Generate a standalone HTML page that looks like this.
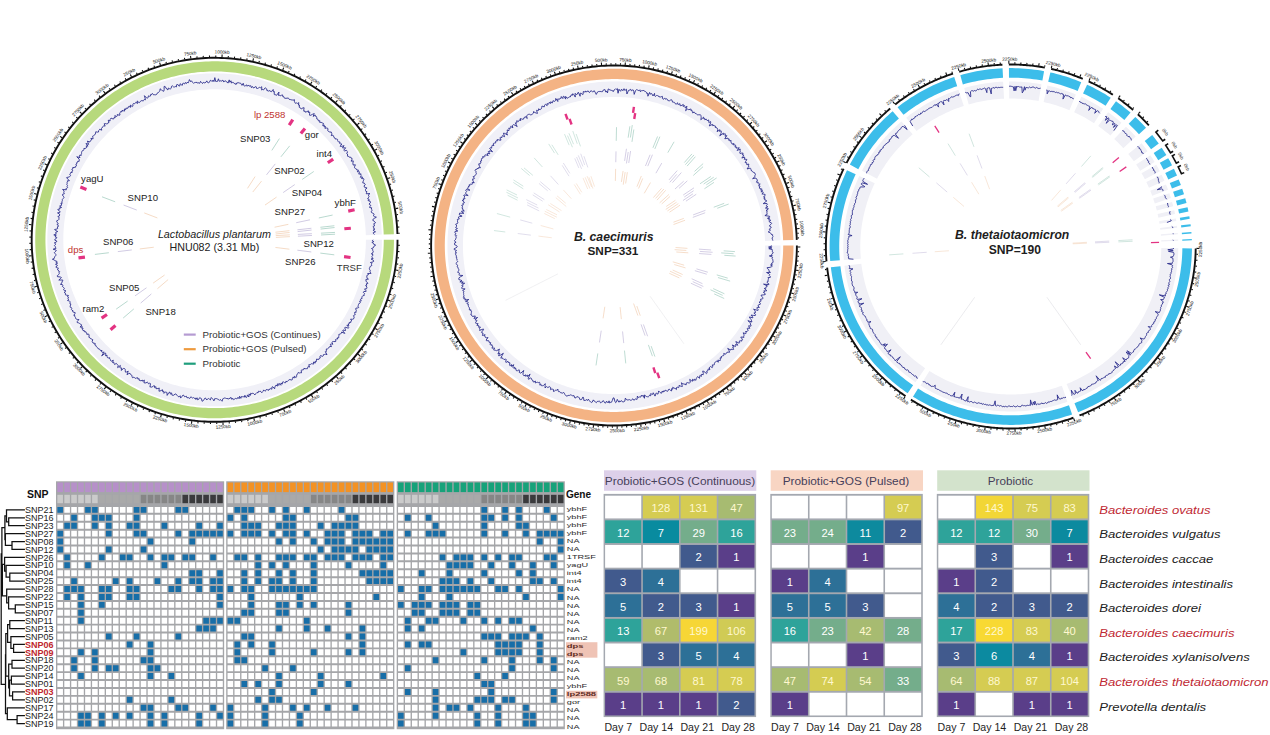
<!DOCTYPE html><html><head><meta charset="utf-8"><style>html,body{margin:0;padding:0;background:#fff;}svg{display:block;font-family:"Liberation Sans",sans-serif;}</style></head><body>
<svg width="1270" height="735" viewBox="0 0 1270 735">
<rect width="1270" height="735" fill="#fff"/>
<path d="M373.89 239.8 L373.87 242.57 L373.8 245.33 L373.67 248.1 L373.5 250.86 L373.29 253.62 L373.02 256.38 L372.7 259.13 L372.34 261.87 L371.93 264.61 L371.47 267.34 L370.96 270.06 L370.41 272.77 L369.81 275.47 L369.16 278.17 L368.46 280.85 L367.71 283.51 L366.92 286.17 L366.09 288.81 L365.2 291.43 L364.28 294.04 L363.3 296.63 L362.28 299.21 L361.22 301.76 L360.11 304.3 L358.95 306.82 L357.75 309.32 L356.51 311.79 L355.23 314.25 L353.9 316.68 L352.53 319.09 L351.12 321.47 L349.66 323.83 L348.17 326.17 L346.63 328.48 L345.05 330.76 L343.44 333.01 L341.78 335.23 L340.09 337.43 L338.36 339.59 L336.59 341.73 L334.78 343.83 L332.93 345.91 L331.05 347.95 L329.14 349.95 L327.19 351.93 L325.2 353.86 L323.18 355.77 L321.13 357.64 L319.05 359.47 L316.93 361.27 L314.78 363.03 L312.61 364.75 L310.4 366.43 L308.16 368.08 L305.9 369.68 L303.6 371.25 L301.28 372.78 L298.94 374.26 L296.56 375.71 L294.17 377.11 L291.74 378.47 L289.3 379.79 L286.83 381.07 L284.34 382.3 L281.83 383.49 L279.3 384.64 L276.74 385.74 L274.17 386.8 L271.59 387.81 L268.98 388.78 L266.36 389.7 L263.72 390.58 L261.06 391.41 L258.4 392.19 L255.72 392.93 L253.02 393.62 L250.32 394.26 L247.6 394.86 L244.87 395.41 L242.14 395.91 L239.39 396.37 L236.64 396.78 L233.88 397.13 L231.12 397.45 L228.35 397.71 L225.58 397.92 L222.8 398.09 L220.02 398.21 L217.24 398.28 L214.46 398.3 L211.68 398.27 L208.9 398.2 L206.12 398.08 L203.34 397.9 L200.57 397.68 L197.8 397.42 L195.04 397.1 L192.28 396.74 L189.53 396.32 L186.79 395.87 L184.05 395.36 L181.33 394.8 L178.61 394.2 L175.91 393.55 L173.21 392.86 L170.53 392.11 L167.87 391.33 L165.22 390.49 L162.58 389.61 L159.96 388.68 L157.35 387.71 L154.77 386.69 L152.2 385.63 L149.65 384.53 L147.12 383.37 L144.61 382.18 L142.12 380.94 L139.65 379.66 L137.21 378.34 L134.79 376.97 L132.4 375.56 L130.03 374.12 L127.68 372.63 L125.37 371.1 L123.07 369.52 L120.81 367.91 L118.58 366.27 L116.37 364.58 L114.2 362.85 L112.05 361.09 L109.94 359.29 L107.86 357.45 L105.81 355.58 L103.8 353.67 L101.82 351.73 L99.87 349.75 L97.96 347.74 L96.08 345.7 L94.24 343.62 L92.44 341.52 L90.67 339.38 L88.94 337.21 L87.25 335.01 L85.6 332.78 L83.99 330.53 L82.41 328.24 L80.88 325.93 L79.39 323.6 L77.94 321.24 L76.53 318.85 L75.17 316.44 L73.84 314 L72.56 311.55 L71.32 309.07 L70.13 306.57 L68.98 304.05 L67.88 301.51 L66.81 298.95 L65.8 296.37 L64.83 293.78 L63.9 291.17 L63.03 288.54 L62.19 285.9 L61.41 283.24 L60.67 280.58 L59.98 277.9 L59.33 275.2 L58.73 272.5 L58.18 269.79 L57.68 267.06 L57.23 264.33 L56.82 261.6 L56.46 258.85 L56.15 256.1 L55.89 253.34 L55.68 250.59 L55.51 247.82 L55.4 245.06 L55.33 242.29 L55.31 239.52 L55.34 236.75 L55.41 233.99 L55.54 231.22 L55.72 228.46 L55.94 225.7 L56.21 222.95 L56.53 220.2 L56.9 217.45 L57.31 214.72 L57.78 211.99 L58.29 209.27 L58.85 206.56 L59.46 203.85 L60.11 201.16 L60.81 198.49 L61.56 195.82 L62.36 193.17 L63.2 190.53 L64.09 187.91 L65.02 185.3 L66 182.71 L67.02 180.14 L68.09 177.58 L69.21 175.04 L70.37 172.53 L71.57 170.03 L72.82 167.56 L74.11 165.11 L75.44 162.68 L76.81 160.27 L78.23 157.89 L79.69 155.53 L81.19 153.2 L82.73 150.89 L84.31 148.62 L85.93 146.37 L87.59 144.14 L89.28 141.95 L91.02 139.79 L92.79 137.66 L94.61 135.56 L96.45 133.49 L98.34 131.45 L100.26 129.45 L102.21 127.48 L104.2 125.54 L106.22 123.64 L108.28 121.78 L110.36 119.95 L112.48 118.15 L114.63 116.4 L116.81 114.68 L119.02 113 L121.26 111.36 L123.53 109.76 L125.83 108.19 L128.15 106.67 L130.5 105.19 L132.88 103.75 L135.28 102.35 L137.7 100.99 L140.15 99.68 L142.62 98.41 L145.11 97.18 L147.63 95.99 L150.16 94.85 L152.71 93.75 L155.29 92.7 L157.88 91.69 L160.48 90.73 L163.11 89.81 L165.75 88.94 L168.4 88.11 L171.07 87.33 L173.75 86.6 L176.45 85.91 L179.16 85.27 L181.87 84.68 L184.6 84.14 L187.34 83.64 L190.08 83.19 L192.83 82.79 L195.59 82.43 L198.36 82.13 L201.13 81.87 L203.9 81.66 L206.68 81.5 L209.46 81.38 L212.24 81.32 L215.02 81.3 L217.8 81.33 L220.58 81.41 L223.36 81.54 L226.14 81.72 L228.91 81.94 L231.68 82.21 L234.44 82.53 L237.2 82.9 L239.95 83.32 L242.69 83.78 L245.42 84.3 L248.15 84.85 L250.86 85.46 L253.56 86.11 L256.26 86.82 L258.93 87.56 L261.6 88.36 L264.25 89.2 L266.88 90.08 L269.5 91.01 L272.11 91.99 L274.69 93.01 L277.26 94.08 L279.81 95.19 L282.33 96.34 L284.84 97.54 L287.33 98.78 L289.79 100.07 L292.23 101.4 L294.65 102.77 L297.04 104.18 L299.41 105.63 L301.75 107.13 L304.07 108.66 L306.35 110.24 L308.61 111.85 L310.84 113.5 L313.05 115.19 L315.22 116.92 L317.36 118.69 L319.47 120.49 L321.55 122.33 L323.59 124.21 L325.6 126.12 L327.58 128.07 L329.53 130.05 L331.43 132.06 L333.31 134.11 L335.14 136.19 L336.94 138.3 L338.71 140.44 L340.43 142.61 L342.12 144.81 L343.77 147.04 L345.37 149.3 L346.94 151.59 L348.47 153.9 L349.96 156.24 L351.4 158.6 L352.81 160.99 L354.17 163.41 L355.49 165.84 L356.76 168.3 L358 170.78 L359.19 173.28 L360.33 175.81 L361.43 178.35 L362.49 180.91 L363.5 183.49 L364.47 186.08 L365.39 188.7 L366.26 191.32 L367.09 193.97 L367.87 196.62 L368.6 199.29 L369.29 201.97 L369.93 204.67 L370.52 207.37 L371.07 210.09 L371.57 212.81 L372.02 215.54 L372.42 218.28 L372.77 221.03 L373.08 223.78 L373.33 226.53 L373.54 229.29 L373.7 232.06 L373.81 234.82" fill="none" stroke="#f0f0f7" stroke-width="16"/>
<path d="M388.87 239.8 L388.84 242.83 L388.76 245.85 L388.63 248.88 L388.44 251.9 L388.2 254.92 L387.91 257.94 L387.57 260.94 L387.17 263.95 L386.72 266.94 L386.22 269.93 L385.66 272.9 L385.05 275.87 L384.4 278.83 L383.68 281.77 L382.92 284.7 L382.11 287.62 L381.24 290.52 L380.33 293.41 L379.36 296.28 L378.35 299.14 L377.28 301.97 L376.16 304.79 L375 307.59 L373.78 310.37 L372.52 313.12 L371.21 315.85 L369.85 318.56 L368.45 321.25 L366.99 323.91 L365.49 326.54 L363.95 329.15 L362.36 331.73 L360.72 334.29 L359.04 336.81 L357.32 339.31 L355.55 341.77 L353.74 344.2 L351.88 346.61 L349.99 348.98 L348.05 351.31 L346.08 353.61 L344.06 355.88 L342 358.11 L339.91 360.31 L337.77 362.47 L335.6 364.59 L333.39 366.67 L331.15 368.72 L328.87 370.72 L326.55 372.69 L324.2 374.61 L321.82 376.5 L319.4 378.34 L316.96 380.14 L314.48 381.89 L311.97 383.61 L309.43 385.28 L306.86 386.9 L304.27 388.48 L301.65 390.02 L299 391.51 L296.32 392.95 L293.62 394.35 L290.9 395.7 L288.15 397 L285.38 398.25 L282.59 399.46 L279.77 400.62 L276.94 401.72 L274.09 402.78 L271.22 403.79 L268.34 404.75 L265.43 405.66 L262.51 406.52 L259.58 407.32 L256.63 408.08 L253.67 408.79 L250.7 409.44 L247.72 410.04 L244.73 410.59 L241.73 411.09 L238.72 411.53 L235.7 411.92 L232.67 412.26 L229.64 412.55 L226.61 412.79 L223.57 412.97 L220.53 413.1 L217.49 413.18 L214.45 413.2 L211.4 413.17 L208.36 413.09 L205.32 412.95 L202.28 412.77 L199.25 412.53 L196.22 412.23 L193.2 411.89 L190.18 411.49 L187.17 411.04 L184.17 410.54 L181.18 409.98 L178.2 409.37 L175.23 408.72 L172.27 408.01 L169.32 407.25 L166.39 406.43 L163.48 405.57 L160.57 404.66 L157.69 403.69 L154.82 402.68 L151.97 401.62 L149.14 400.5 L146.33 399.34 L143.54 398.13 L140.77 396.87 L138.03 395.56 L135.31 394.21 L132.61 392.81 L129.94 391.36 L127.29 389.87 L124.67 388.33 L122.08 386.74 L119.51 385.11 L116.98 383.44 L114.47 381.72 L112 379.96 L109.55 378.15 L107.14 376.31 L104.76 374.42 L102.41 372.49 L100.1 370.52 L97.83 368.51 L95.59 366.46 L93.38 364.38 L91.21 362.25 L89.08 360.09 L86.99 357.89 L84.94 355.65 L82.92 353.38 L80.95 351.08 L79.02 348.74 L77.13 346.37 L75.28 343.96 L73.47 341.52 L71.71 339.06 L69.99 336.56 L68.31 334.03 L66.68 331.48 L65.09 328.89 L63.55 326.28 L62.06 323.64 L60.61 320.98 L59.21 318.29 L57.86 315.58 L56.55 312.84 L55.29 310.09 L54.08 307.31 L52.92 304.51 L51.81 301.69 L50.75 298.85 L49.74 296 L48.78 293.12 L47.87 290.23 L47.01 287.33 L46.2 284.41 L45.44 281.48 L44.74 278.53 L44.08 275.57 L43.48 272.61 L42.93 269.63 L42.43 266.64 L41.99 263.64 L41.6 260.64 L41.26 257.63 L40.97 254.62 L40.74 251.6 L40.56 248.58 L40.43 245.55 L40.35 242.52 L40.33 239.5 L40.37 236.47 L40.45 233.44 L40.59 230.42 L40.78 227.39 L41.02 224.38 L41.32 221.36 L41.67 218.35 L42.07 215.35 L42.53 212.36 L43.04 209.37 L43.6 206.4 L44.21 203.43 L44.87 200.48 L45.59 197.53 L46.36 194.6 L47.18 191.69 L48.05 188.78 L48.97 185.9 L49.94 183.03 L50.96 180.18 L52.03 177.34 L53.15 174.53 L54.32 171.73 L55.54 168.96 L56.81 166.2 L58.12 163.47 L59.49 160.77 L60.9 158.08 L62.36 155.43 L63.86 152.79 L65.41 150.19 L67 147.61 L68.64 145.06 L70.33 142.54 L72.06 140.04 L73.83 137.58 L75.65 135.15 L77.5 132.75 L79.4 130.39 L81.34 128.06 L83.33 125.76 L85.35 123.49 L87.41 121.27 L89.51 119.07 L91.65 116.92 L93.82 114.8 L96.03 112.72 L98.28 110.68 L100.56 108.68 L102.88 106.72 L105.24 104.8 L107.62 102.92 L110.04 101.08 L112.49 99.28 L114.97 97.53 L117.48 95.82 L120.03 94.16 L122.6 92.54 L125.19 90.96 L127.82 89.43 L130.47 87.94 L133.15 86.51 L135.85 85.11 L138.58 83.77 L141.33 82.47 L144.1 81.22 L146.89 80.02 L149.71 78.87 L152.54 77.77 L155.4 76.71 L158.27 75.71 L161.16 74.76 L164.06 73.85 L166.98 73 L169.92 72.2 L172.86 71.45 L175.82 70.75 L178.8 70.1 L181.78 69.5 L184.77 68.96 L187.78 68.47 L190.79 68.03 L193.81 67.64 L196.83 67.3 L199.86 67.02 L202.89 66.79 L205.93 66.61 L208.97 66.49 L212.02 66.42 L215.06 66.4 L218.1 66.44 L221.14 66.52 L224.18 66.66 L227.22 66.86 L230.25 67.1 L233.28 67.4 L236.3 67.75 L239.32 68.15 L242.33 68.61 L245.33 69.12 L248.32 69.68 L251.3 70.29 L254.27 70.95 L257.23 71.67 L260.17 72.43 L263.1 73.25 L266.02 74.12 L268.92 75.04 L271.8 76.01 L274.67 77.03 L277.51 78.09 L280.34 79.21 L283.15 80.38 L285.94 81.59 L288.7 82.86 L291.45 84.17 L294.16 85.53 L296.86 86.93 L299.53 88.39 L302.17 89.89 L304.79 91.43 L307.38 93.02 L309.94 94.65 L312.48 96.33 L314.98 98.06 L317.45 99.82 L319.89 101.63 L322.3 103.48 L324.68 105.37 L327.02 107.31 L329.33 109.28 L331.6 111.29 L333.84 113.34 L336.04 115.44 L338.2 117.56 L340.33 119.73 L342.42 121.93 L344.47 124.17 L346.48 126.45 L348.45 128.76 L350.37 131.1 L352.26 133.47 L354.11 135.88 L355.91 138.32 L357.67 140.79 L359.38 143.29 L361.05 145.82 L362.68 148.38 L364.26 150.97 L365.8 153.58 L367.29 156.22 L368.73 158.89 L370.13 161.58 L371.48 164.29 L372.78 167.03 L374.03 169.79 L375.24 172.57 L376.39 175.37 L377.5 178.19 L378.55 181.03 L379.56 183.89 L380.52 186.77 L381.42 189.66 L382.28 192.56 L383.08 195.48 L383.83 198.42 L384.53 201.37 L385.18 204.32 L385.78 207.29 L386.32 210.27 L386.81 213.26 L387.25 216.26 L387.64 219.26 L387.97 222.27 L388.26 225.29 L388.48 228.3 L388.66 231.33 L388.78 234.35" fill="none" stroke="#b7d97c" stroke-width="10.2"/>
<path d="M397.51 239.8 L397.48 242.98 L397.4 246.16 L397.26 249.33 L397.06 252.5 L396.81 255.67 L396.51 258.83 L396.15 261.99 L395.73 265.14 L395.26 268.29 L394.73 271.42 L394.15 274.55 L393.51 277.66 L392.82 280.76 L392.07 283.85 L391.27 286.93 L390.42 289.99 L389.51 293.04 L388.55 296.07 L387.53 299.09 L386.47 302.08 L385.35 305.06 L384.18 308.01 L382.95 310.95 L381.68 313.86 L380.35 316.76 L378.98 319.63 L377.55 322.47 L376.08 325.29 L374.55 328.08 L372.98 330.85 L371.36 333.58 L369.69 336.29 L367.97 338.97 L366.21 341.62 L364.4 344.24 L362.54 346.83 L360.64 349.38 L358.69 351.9 L356.7 354.39 L354.67 356.84 L352.6 359.26 L350.48 361.64 L348.32 363.98 L346.12 366.28 L343.88 368.55 L341.6 370.78 L339.28 372.96 L336.93 375.11 L334.53 377.21 L332.1 379.28 L329.64 381.3 L327.14 383.27 L324.6 385.21 L322.03 387.1 L319.43 388.94 L316.8 390.74 L314.13 392.49 L311.44 394.2 L308.72 395.86 L305.96 397.47 L303.18 399.03 L300.37 400.55 L297.54 402.01 L294.68 403.43 L291.8 404.8 L288.89 406.11 L285.96 407.38 L283.01 408.59 L280.03 409.76 L277.04 410.87 L274.03 411.93 L271 412.93 L267.95 413.89 L264.89 414.79 L261.81 415.63 L258.72 416.43 L255.61 417.17 L252.49 417.85 L249.36 418.48 L246.22 419.06 L243.07 419.58 L239.91 420.05 L236.74 420.46 L233.57 420.82 L230.39 421.12 L227.21 421.37 L224.02 421.56 L220.83 421.69 L217.63 421.77 L214.44 421.8 L211.25 421.77 L208.05 421.68 L204.86 421.54 L201.67 421.34 L198.49 421.09 L195.31 420.79 L192.14 420.42 L188.97 420 L185.81 419.53 L182.66 419 L179.52 418.42 L176.39 417.79 L173.28 417.09 L170.17 416.35 L167.08 415.55 L164 414.7 L160.94 413.79 L157.89 412.83 L154.87 411.82 L151.86 410.76 L148.87 409.64 L145.9 408.47 L142.95 407.25 L140.02 405.98 L137.11 404.66 L134.23 403.29 L131.37 401.87 L128.54 400.4 L125.74 398.88 L122.96 397.31 L120.21 395.69 L117.49 394.03 L114.8 392.32 L112.13 390.56 L109.5 388.76 L106.91 386.91 L104.34 385.02 L101.81 383.08 L99.31 381.1 L96.85 379.07 L94.42 377 L92.03 374.9 L89.68 372.75 L87.37 370.55 L85.09 368.32 L82.86 366.05 L80.66 363.75 L78.51 361.4 L76.39 359.02 L74.32 356.6 L72.29 354.14 L70.31 351.65 L68.37 349.13 L66.47 346.57 L64.62 343.98 L62.82 341.36 L61.06 338.71 L59.34 336.02 L57.68 333.31 L56.06 330.57 L54.49 327.8 L52.97 325.01 L51.5 322.18 L50.08 319.34 L48.71 316.47 L47.39 313.57 L46.12 310.66 L44.9 307.72 L43.74 304.76 L42.62 301.78 L41.56 298.78 L40.55 295.77 L39.6 292.73 L38.7 289.69 L37.85 286.62 L37.05 283.54 L36.31 280.45 L35.62 277.35 L34.99 274.23 L34.42 271.11 L33.89 267.97 L33.43 264.83 L33.02 261.68 L32.66 258.52 L32.36 255.35 L32.11 252.18 L31.92 249.01 L31.79 245.84 L31.71 242.66 L31.69 239.48 L31.72 236.3 L31.81 233.13 L31.96 229.95 L32.16 226.78 L32.42 223.61 L32.73 220.45 L33.09 217.29 L33.52 214.14 L33.99 211 L34.53 207.86 L35.12 204.74 L35.76 201.63 L36.46 198.53 L37.21 195.44 L38.01 192.36 L38.87 189.3 L39.79 186.25 L40.75 183.22 L41.77 180.21 L42.84 177.22 L43.97 174.24 L45.14 171.29 L46.37 168.36 L47.65 165.44 L48.98 162.55 L50.36 159.69 L51.79 156.85 L53.27 154.03 L54.8 151.24 L56.38 148.48 L58.01 145.74 L59.68 143.04 L61.41 140.36 L63.17 137.71 L64.99 135.1 L66.85 132.51 L68.75 129.96 L70.7 127.45 L72.7 124.96 L74.74 122.51 L76.81 120.1 L78.94 117.73 L81.1 115.39 L83.3 113.09 L85.55 110.82 L87.83 108.6 L90.15 106.42 L92.51 104.28 L94.91 102.18 L97.34 100.12 L99.81 98.1 L102.32 96.13 L104.85 94.2 L107.43 92.32 L110.03 90.48 L112.67 88.68 L115.33 86.93 L118.03 85.23 L120.76 83.58 L123.52 81.97 L126.3 80.41 L129.11 78.9 L131.95 77.44 L134.81 76.03 L137.7 74.67 L140.6 73.36 L143.54 72.1 L146.49 70.89 L149.47 69.73 L152.46 68.62 L155.47 67.57 L158.51 66.57 L161.55 65.62 L164.62 64.73 L167.7 63.88 L170.79 63.1 L173.9 62.36 L177.02 61.68 L180.15 61.06 L183.29 60.49 L186.45 59.97 L189.61 59.51 L192.77 59.1 L195.95 58.75 L199.13 58.45 L202.31 58.21 L205.5 58.03 L208.69 57.89 L211.89 57.82 L215.08 57.8 L218.28 57.84 L221.47 57.93 L224.66 58.08 L227.85 58.28 L231.03 58.54 L234.21 58.85 L237.38 59.22 L240.55 59.64 L243.7 60.12 L246.85 60.65 L249.99 61.24 L253.12 61.88 L256.24 62.58 L259.34 63.33 L262.43 64.13 L265.51 64.99 L268.57 65.9 L271.61 66.87 L274.64 67.88 L277.64 68.95 L280.63 70.07 L283.6 71.25 L286.55 72.47 L289.47 73.75 L292.38 75.07 L295.26 76.45 L298.11 77.88 L300.94 79.35 L303.74 80.88 L306.52 82.45 L309.27 84.07 L311.98 85.74 L314.67 87.46 L317.33 89.22 L319.96 91.03 L322.55 92.88 L325.11 94.78 L327.64 96.72 L330.14 98.71 L332.6 100.73 L335.02 102.81 L337.4 104.92 L339.75 107.07 L342.06 109.27 L344.33 111.5 L346.57 113.78 L348.76 116.09 L350.91 118.44 L353.02 120.83 L355.08 123.25 L357.11 125.71 L359.09 128.2 L361.02 130.73 L362.92 133.29 L364.76 135.88 L366.56 138.51 L368.32 141.16 L370.03 143.85 L371.69 146.56 L373.3 149.31 L374.86 152.08 L376.38 154.88 L377.84 157.7 L379.26 160.55 L380.62 163.42 L381.94 166.32 L383.2 169.24 L384.42 172.18 L385.58 175.14 L386.69 178.12 L387.74 181.12 L388.75 184.14 L389.7 187.17 L390.59 190.22 L391.44 193.29 L392.23 196.37 L392.96 199.46 L393.64 202.56 L394.27 205.68 L394.84 208.81 L395.35 211.94 L395.82 215.09 L396.22 218.24 L396.57 221.4 L396.87 224.57 L397.11 227.73 L397.29 230.91 L397.42 234.08" fill="none" stroke="#111" stroke-width="1.9"/>
<path d="M398.23 245.37L399.74 245.42M397.93 251.57L399.44 251.67M397.42 257.76L398.93 257.91M396.71 263.93L398.2 264.13M395.78 270.07L398.35 270.5M394.64 276.18L396.12 276.48M393.29 282.24L394.76 282.59M391.74 288.26L393.2 288.65M389.99 294.21L391.42 294.66M388.03 300.11L390.49 300.97M385.87 305.94L387.27 306.48M383.51 311.69L384.9 312.28M380.96 317.36L382.33 317.99M378.22 322.93L379.56 323.62M375.28 328.41L377.57 329.68M372.17 333.79L373.46 334.57M368.87 339.07L370.13 339.88M365.39 344.22L366.63 345.08M361.74 349.26L362.95 350.16M357.92 354.17L359.96 355.79M353.93 358.95L355.07 359.92M349.78 363.59L350.89 364.6M345.48 368.08L346.55 369.14M341.02 372.43L342.06 373.52M336.42 376.63L338.16 378.57M331.68 380.67L332.64 381.82M326.81 384.54L327.73 385.73M321.8 388.25L322.68 389.47M316.67 391.79L317.51 393.04M311.42 395.15L312.8 397.36M306.07 398.33L306.82 399.63M300.6 401.33L301.31 402.66M295.04 404.15L295.7 405.5M289.38 406.77L289.99 408.14M283.64 409.2L284.62 411.61M277.81 411.44L278.33 412.85M271.92 413.47L272.39 414.9M265.96 415.31L266.38 416.75M259.94 416.95L260.31 418.4M253.86 418.38L254.42 420.92M247.74 419.6L248.02 421.08M241.59 420.62L241.81 422.1M235.4 421.42L235.57 422.91M229.19 422.02L229.31 423.52M222.96 422.41L223.08 425.01M216.72 422.59L216.74 424.09M210.48 422.55L210.45 424.05M204.24 422.31L204.16 423.81M198.02 421.85L197.88 423.35M191.81 421.19L191.49 423.77M185.64 420.31L185.4 421.8M179.49 419.23L179.2 420.7M173.39 417.94L173.05 419.4M167.33 416.44L166.94 417.89M161.33 414.75L160.57 417.23M155.38 412.84L154.9 414.26M149.51 410.74L148.98 412.15M143.71 408.44L143.13 409.83M138 405.95L137.37 407.31M132.37 403.27L131.2 405.59M126.84 400.39L126.12 401.71M121.41 397.33L120.64 398.63M116.08 394.09L115.27 395.36M110.87 390.67L110.02 391.91M105.78 387.08L104.23 389.18M100.82 383.32L99.88 384.5M95.98 379.39L95.01 380.54M91.29 375.3L90.28 376.41M86.73 371.06L85.68 372.13M82.33 366.66L80.44 368.46M78.07 362.11L76.95 363.12M73.98 357.43L72.82 358.4M70.04 352.61L68.85 353.53M66.27 347.66L65.06 348.54M62.68 342.58L60.52 344.05M59.26 337.39L57.98 338.19M56.01 332.08L54.71 332.84M52.96 326.67L51.63 327.38M50.08 321.16L48.73 321.82M47.4 315.55L45.02 316.63M44.91 309.85L43.52 310.43M42.62 304.08L41.21 304.61M40.52 298.23L39.1 298.71M38.63 292.31L37.19 292.74M36.94 286.34L34.41 287M35.45 280.3L33.98 280.64M34.17 274.23L32.69 274.51M33.1 268.11L31.61 268.34M32.24 261.96L30.74 262.14M31.59 255.78L28.99 256.01M31.15 249.59L29.64 249.67M30.92 243.38L29.41 243.41M30.9 237.17L29.4 237.15M31.1 230.96L29.59 230.89M31.51 224.77L28.9 224.55M32.13 218.59L30.63 218.41M32.96 212.43L31.47 212.21M34 206.31L32.51 206.04M35.24 200.23L33.77 199.9M36.7 194.19L34.17 193.54M38.36 188.2L36.91 187.78M40.22 182.27L38.79 181.8M42.28 176.41L40.87 175.89M44.55 170.63L43.15 170.06M47.01 164.92L44.62 163.85M49.66 159.3L48.31 158.64M52.5 153.77L51.17 153.06M55.53 148.34L54.23 147.59M58.75 143.02L57.47 142.22M62.14 137.81L59.97 136.36M65.71 132.71L64.49 131.83M69.45 127.74L68.26 126.82M73.36 122.9L72.2 121.94M77.43 118.19L76.31 117.2M81.66 113.63L79.77 111.83M86.05 109.21L84.99 108.14M90.58 104.94L89.56 103.83M95.25 100.83L94.28 99.69M100.07 96.87L99.13 95.7M105.01 93.08L103.45 91M110.08 89.46L109.23 88.23M115.28 86.02L114.46 84.76M120.58 82.75L119.81 81.46M126 79.66L125.27 78.35M131.52 76.76L130.33 74.44M137.13 74.05L136.49 72.69M142.83 71.53L142.24 70.14M148.62 69.2L148.08 67.8M154.48 67.07L153.99 65.65M160.41 65.13L159.64 62.65M166.4 63.4L166.01 61.96M172.45 61.88L172.11 60.42M178.55 60.55L178.26 59.08M184.69 59.44L184.45 57.96M190.87 58.53L190.53 55.95M197.07 57.83L196.92 56.34M203.29 57.35L203.2 55.85M209.52 57.07L209.48 55.57M215.76 57L215.77 55.5M222 57.15L222.11 54.55M228.23 57.5L228.35 56.01M234.45 58.07L234.61 56.58M240.64 58.85L240.85 57.36M246.8 59.83L247.07 58.35M252.93 61.02L253.47 58.48M259.01 62.42L259.37 60.97M265.04 64.02L265.45 62.58M271.01 65.83L271.47 64.4M276.92 67.84L277.43 66.43M282.75 70.04L283.72 67.63M288.51 72.44L289.11 71.07M294.18 75.04L294.83 73.69M299.75 77.82L300.45 76.49M305.23 80.79L305.98 79.49M310.61 83.95L311.97 81.73M315.87 87.28L316.71 86.03M321.02 90.79L321.9 89.57M326.05 94.48L326.96 93.28M330.94 98.33L331.9 97.17M335.71 102.34L337.43 100.39M340.33 106.51L341.36 105.42M344.81 110.84L345.87 109.78M349.13 115.32L350.24 114.29M353.3 119.93L354.44 118.95M357.32 124.69L359.35 123.05M361.16 129.58L362.37 128.68M364.84 134.6L366.07 133.73M368.35 139.74L369.61 138.92M371.67 144.99L372.96 144.21M374.82 150.35L377.1 149.08M377.78 155.82L379.12 155.13M380.55 161.38L381.91 160.74M383.13 167.04L384.52 166.44M385.52 172.78L386.92 172.23M387.71 178.59L390.17 177.72M389.7 184.48L391.14 184.02M391.49 190.43L392.94 190.02M393.07 196.43L394.53 196.08M394.45 202.49L395.92 202.18M395.62 208.59L398.19 208.15M396.58 214.73L398.07 214.52M397.33 220.89L398.83 220.74M397.87 227.08L399.37 226.97M398.2 233.28L399.7 233.22" stroke="#111" stroke-width="1.1" fill="none"/>
<text x="400.44" y="270.84" transform="rotate(-80.47 400.44 270.84)" font-size="4.6" fill="#111" text-anchor="middle" dominant-baseline="middle">2250kb</text>
<text x="392.49" y="301.66" transform="rotate(-70.74 392.49 301.66)" font-size="4.6" fill="#111" text-anchor="middle" dominant-baseline="middle">2500kb</text>
<text x="379.42" y="330.69" transform="rotate(-61 379.42 330.69)" font-size="4.6" fill="#111" text-anchor="middle" dominant-baseline="middle">2750kb</text>
<text x="361.61" y="357.1" transform="rotate(-51.27 361.61 357.1)" font-size="4.6" fill="#111" text-anchor="middle" dominant-baseline="middle">3000kb</text>
<text x="339.56" y="380.14" transform="rotate(-41.54 339.56 380.14)" font-size="4.6" fill="#111" text-anchor="middle" dominant-baseline="middle">250kb</text>
<text x="313.92" y="399.14" transform="rotate(-31.81 313.92 399.14)" font-size="4.6" fill="#111" text-anchor="middle" dominant-baseline="middle">500kb</text>
<text x="285.42" y="413.56" transform="rotate(-22.07 285.42 413.56)" font-size="4.6" fill="#111" text-anchor="middle" dominant-baseline="middle">750kb</text>
<text x="254.88" y="422.97" transform="rotate(-12.34 254.88 422.97)" font-size="4.6" fill="#111" text-anchor="middle" dominant-baseline="middle">1000kb</text>
<text x="223.18" y="427.11" transform="rotate(-2.61 223.18 427.11)" font-size="4.6" fill="#111" text-anchor="middle" dominant-baseline="middle">1250kb</text>
<text x="191.23" y="425.85" transform="rotate(7.12 191.23 425.85)" font-size="4.6" fill="#111" text-anchor="middle" dominant-baseline="middle">1500kb</text>
<text x="159.96" y="419.24" transform="rotate(16.86 159.96 419.24)" font-size="4.6" fill="#111" text-anchor="middle" dominant-baseline="middle">2250kb</text>
<text x="130.26" y="407.47" transform="rotate(26.59 130.26 407.47)" font-size="4.6" fill="#111" text-anchor="middle" dominant-baseline="middle">2500kb</text>
<text x="102.99" y="390.87" transform="rotate(36.32 102.99 390.87)" font-size="4.6" fill="#111" text-anchor="middle" dominant-baseline="middle">2750kb</text>
<text x="78.93" y="369.92" transform="rotate(46.05 78.93 369.92)" font-size="4.6" fill="#111" text-anchor="middle" dominant-baseline="middle">3000kb</text>
<text x="58.77" y="345.23" transform="rotate(55.79 58.77 345.23)" font-size="4.6" fill="#111" text-anchor="middle" dominant-baseline="middle">250kb</text>
<text x="43.1" y="317.5" transform="rotate(65.52 43.1 317.5)" font-size="4.6" fill="#111" text-anchor="middle" dominant-baseline="middle">500kb</text>
<text x="32.37" y="287.53" transform="rotate(75.25 32.37 287.53)" font-size="4.6" fill="#111" text-anchor="middle" dominant-baseline="middle">750kb</text>
<text x="26.88" y="256.19" transform="rotate(84.98 26.88 256.19)" font-size="4.6" fill="#111" text-anchor="middle" dominant-baseline="middle">1000kb</text>
<text x="26.8" y="224.38" transform="rotate(274.72 26.8 224.38)" font-size="4.6" fill="#111" text-anchor="middle" dominant-baseline="middle">1250kb</text>
<text x="32.12" y="193.01" transform="rotate(284.45 32.12 193.01)" font-size="4.6" fill="#111" text-anchor="middle" dominant-baseline="middle">1500kb</text>
<text x="42.7" y="162.99" transform="rotate(294.18 42.7 162.99)" font-size="4.6" fill="#111" text-anchor="middle" dominant-baseline="middle">2250kb</text>
<text x="58.22" y="135.18" transform="rotate(303.91 58.22 135.18)" font-size="4.6" fill="#111" text-anchor="middle" dominant-baseline="middle">2500kb</text>
<text x="78.25" y="110.38" transform="rotate(313.65 78.25 110.38)" font-size="4.6" fill="#111" text-anchor="middle" dominant-baseline="middle">2750kb</text>
<text x="102.2" y="89.31" transform="rotate(323.38 102.2 89.31)" font-size="4.6" fill="#111" text-anchor="middle" dominant-baseline="middle">3000kb</text>
<text x="129.38" y="72.57" transform="rotate(333.11 129.38 72.57)" font-size="4.6" fill="#111" text-anchor="middle" dominant-baseline="middle">250kb</text>
<text x="159.02" y="60.64" transform="rotate(342.84 159.02 60.64)" font-size="4.6" fill="#111" text-anchor="middle" dominant-baseline="middle">500kb</text>
<text x="190.26" y="53.87" transform="rotate(352.58 190.26 53.87)" font-size="4.6" fill="#111" text-anchor="middle" dominant-baseline="middle">750kb</text>
<text x="222.2" y="52.45" transform="rotate(362.31 222.2 52.45)" font-size="4.6" fill="#111" text-anchor="middle" dominant-baseline="middle">1000kb</text>
<text x="253.92" y="56.43" transform="rotate(372.04 253.92 56.43)" font-size="4.6" fill="#111" text-anchor="middle" dominant-baseline="middle">1250kb</text>
<text x="284.5" y="65.68" transform="rotate(381.78 284.5 65.68)" font-size="4.6" fill="#111" text-anchor="middle" dominant-baseline="middle">1500kb</text>
<text x="313.08" y="79.94" transform="rotate(391.51 313.08 79.94)" font-size="4.6" fill="#111" text-anchor="middle" dominant-baseline="middle">2250kb</text>
<text x="338.82" y="98.81" transform="rotate(401.24 338.82 98.81)" font-size="4.6" fill="#111" text-anchor="middle" dominant-baseline="middle">2500kb</text>
<text x="360.99" y="121.73" transform="rotate(410.97 360.99 121.73)" font-size="4.6" fill="#111" text-anchor="middle" dominant-baseline="middle">2750kb</text>
<text x="378.94" y="148.06" transform="rotate(420.71 378.94 148.06)" font-size="4.6" fill="#111" text-anchor="middle" dominant-baseline="middle">3000kb</text>
<text x="392.16" y="177.02" transform="rotate(430.44 392.16 177.02)" font-size="4.6" fill="#111" text-anchor="middle" dominant-baseline="middle">250kb</text>
<text x="400.27" y="207.79" transform="rotate(440.17 400.27 207.79)" font-size="4.6" fill="#111" text-anchor="middle" dominant-baseline="middle">500kb</text>
<path d="M372.99 239.8 L372.29 240.68 L373.81 241.57 L371.86 242.42 L373.57 243.33 L373.66 244.22 L375.65 245.17 L374.16 246.01 L373.76 246.88 L373.38 247.75 L371.49 248.53 L372.8 249.48 L372.7 250.36 L373.34 251.29 L372.82 252.13 L372.95 253.03 L371.3 253.77 L373.1 254.82 L372.65 255.66 L371.79 256.46 L372.23 257.39 L373.16 258.39 L371.07 259.03 L373.3 260.2 L373.73 261.15 L373.05 261.96 L370.4 262.47 L371.88 263.58 L371.49 264.41 L371.94 265.38 L370.89 266.1 L369.81 266.81 L369.77 267.69 L369.37 268.51 L369.57 269.44 L370.3 270.48 L369.94 271.3 L370.33 272.28 L371.06 273.35 L367.7 273.52 L368.52 274.6 L367.09 275.17 L366.87 276.01 L366.79 276.88 L366.95 277.82 L368.43 279.1 L365.94 279.36 L366.13 280.31 L365.66 281.09 L367.45 282.49 L367.87 283.53 L366.07 283.93 L366.93 285.1 L365.56 285.61 L367.05 286.99 L366.77 287.83 L366.64 288.72 L364.52 288.96 L365.79 290.31 L366.14 291.37 L363.83 291.51 L363.32 292.26 L364.54 293.63 L364.1 294.41 L364.29 295.43 L362.76 295.8 L362.16 296.51 L361.87 297.34 L362.15 298.4 L360.84 298.83 L360.53 299.65 L361.3 300.92 L359.56 301.15 L360.33 302.43 L359.88 303.2 L358.79 303.68 L358.48 304.5 L358.31 305.39 L357.84 306.14 L358.72 307.52 L357.62 307.98 L355.96 308.16 L355.56 308.94 L356.39 310.33 L355.83 311.03 L356.22 312.22 L354.6 312.38 L354.69 313.42 L355.25 314.71 L354.07 315.08 L353.44 315.75 L354.23 317.19 L353.82 317.98 L353.63 318.9 L352.48 319.27 L350.58 319.18 L351.72 320.88 L350.8 321.36 L350.83 322.41 L349.21 322.46 L349.35 323.58 L348.23 323.92 L348.94 325.42 L346.85 325.12 L348.91 327.52 L348.25 328.15 L345.2 327.19 L344.64 327.87 L345.5 329.52 L345.49 330.59 L343.04 329.95 L342.77 330.83 L344.83 333.4 L341.56 332.12 L341.49 333.16 L340.69 333.66 L339.89 334.15 L338.81 334.43 L338.92 335.62 L338.7 336.56 L338.79 337.74 L337.4 337.77 L337.6 339.05 L336.2 339.04 L335.48 339.58 L336.02 341.18 L335.18 341.63 L333.64 341.47 L332.58 341.7 L331.91 342.27 L332.86 344.27 L331.19 343.96 L330.3 344.33 L331.5 346.61 L330.02 346.44 L329.23 346.91 L328.89 347.79 L328.15 348.3 L327.5 348.89 L326.33 348.98 L326.34 350.21 L326.36 351.47 L325.34 351.7 L327.01 354.66 L325.27 354.15 L324.38 354.5 L323.35 354.71 L323.24 355.89 L322.51 356.41 L320.52 355.54 L319.99 356.27 L320.3 357.93 L319.31 358.14 L319.09 359.23 L318.14 359.49 L316.59 359.04 L316.5 360.3 L316.36 361.5 L315.04 361.29 L315.33 363.04 L313.42 362.09 L313.83 364.02 L312.6 363.89 L311.35 363.73 L310.7 364.32 L309.83 364.63 L308.78 364.7 L309.5 367.13 L308.02 366.62 L307.59 367.53 L307.37 368.73 L306.24 368.68 L305.18 368.71 L303.88 368.39 L303.66 369.62 L302.8 369.92 L301.68 369.82 L301.22 370.71 L301.54 372.8 L300.44 372.73 L299.54 372.97 L298.19 372.49 L297.87 373.64 L297.14 374.13 L296.7 375.11 L296.59 376.65 L296.09 377.57 L294.26 376.21 L294.29 378.03 L292.85 377.31 L292.44 378.38 L292.21 379.81 L291.3 380 L290.06 379.59 L289.12 379.72 L288.43 380.31 L287.78 380.99 L287.15 381.73 L285.9 381.22 L285.65 382.73 L284.63 382.68 L283.21 381.77 L282.4 382.13 L282.32 384.04 L280.93 383.16 L280.9 385.24 L279.06 383.31 L279.03 385.43 L277.37 383.85 L277.38 386.12 L275.98 385.08 L275.41 386.03 L274.86 387.02 L274.63 388.84 L272.85 386.79 L271.96 386.94 L271.89 389.24 L270.62 388.41 L270.03 389.39 L268.97 389.08 L268.51 390.45 L267.28 389.64 L266.3 389.53 L265.73 390.64 L265.01 391.3 L263.61 389.9 L263.14 391.32 L262.4 391.93 L261.69 392.68 L260.25 391 L259.46 391.45 L258.46 391.21 L258.03 392.91 L256.97 392.43 L256.25 393.18 L255.53 393.93 L254.87 394.96 L253.57 393.49 L252.56 393.11 L251.85 393.94 L250.75 393.15 L250.35 395.36 L249.1 393.9 L248.88 397.03 L247.5 394.89 L246.98 396.75 L246.24 397.65 L244.87 395.31 L244.32 397.21 L243.3 396.65 L242.41 396.73 L241.46 396.5 L240.86 398.35 L239.61 396.22 L239.1 398.72 L237.97 397.26 L237.26 398.65 L236.36 398.7 L235.4 398.29 L234.61 399.16 L233.76 399.71 L232.69 398.24 L231.92 399.45 L230.79 397.28 L230.03 398.63 L229.09 398.21 L228.28 399.27 L227.28 398.04 L226.46 398.91 L225.49 397.95 L224.6 398 L223.73 398.36 L222.86 398.72 L222.08 401.25 L221.13 400.28 L220.2 399.46 L219.33 400.36 L218.41 399.36 L217.51 399.05 L216.61 398.61 L215.71 398.7 L214.82 398.48 L213.92 400.89 L213.03 399.38 L212.15 398.36 L211.28 397.49 L210.33 399.97 L209.45 399.17 L208.58 398.51 L207.68 398.88 L206.72 400.02 L205.91 398.49 L205.05 397.95 L204.03 399.78 L203.07 400.64 L202.11 401.3 L201.42 398.62 L200.56 398.19 L199.72 397.57 L198.65 399.38 L197.69 399.85 L197.02 397.75 L195.91 399.54 L195.2 397.95 L194.24 398.41 L193.45 397.53 L192.47 398.06 L191.65 397.46 L190.86 396.71 L189.68 398.54 L188.87 397.85 L188.01 397.57 L187.04 397.92 L186.42 396.25 L185.46 396.53 L184.52 396.71 L183.86 395.43 L183.03 395.02 L181.75 396.8 L180.55 398.09 L180.15 395.72 L178.96 396.92 L178.12 396.52 L177.37 395.77 L176.7 394.72 L175.97 393.96 L175.02 394.08 L173.79 395.23 L172.85 395.27 L171.95 395.14 L171.63 392.93 L170.37 394.1 L170 392.14 L168.98 392.46 L167.15 395.4 L166.98 392.85 L166.31 392 L165.39 391.96 L163.98 393.37 L163.78 391.1 L162.65 391.65 L162.38 389.68 L161.11 390.61 L160.05 390.91 L158.97 391.23 L159.22 387.96 L158.02 388.64 L157.1 388.53 L156.03 388.81 L155.93 386.65 L154.58 387.61 L154.4 385.7 L153.31 386.01 L151.8 387.29 L151.05 386.76 L149.95 387.05 L150.49 383.62 L149.71 383.2 L148.46 383.81 L148.01 382.66 L147.28 382.14 L145.92 382.95 L144.98 382.84 L143.98 382.85 L144.36 380.1 L142.77 381.3 L142.36 380.14 L141 380.84 L140.15 380.55 L139.25 380.34 L139.13 378.68 L137.89 379.1 L137.65 377.71 L136.49 377.96 L135.22 378.38 L134.61 377.65 L133.83 377.23 L132.49 377.74 L132.07 376.69 L131.88 375.27 L131.12 374.82 L130.38 374.32 L130 373.27 L128.75 373.58 L126.97 374.68 L128.24 371.12 L126.6 371.99 L125.43 372.14 L125.28 370.77 L125.19 369.34 L124.64 368.59 L123.7 368.39 L121.18 370.41 L121.79 368.04 L120.71 368 L119.87 367.65 L120.39 365.47 L117.64 367.64 L118.16 365.49 L117.56 364.82 L117.05 364.04 L116.39 363.44 L114.47 364.43 L114.09 363.48 L113.87 362.34 L112.55 362.54 L113.32 360.24 L111.37 361.18 L110.64 360.66 L110.42 359.56 L109.7 359.03 L109.71 357.69 L108.3 357.93 L107.41 357.59 L107.08 356.63 L107.09 355.33 L105.52 355.7 L105.86 354.06 L105.59 353.07 L101.69 355.82 L104.19 351.99 L102.37 352.57 L101.68 352 L102 350.44 L100.49 350.68 L100.06 349.86 L99.57 349.1 L98.42 348.97 L98.06 348.09 L97.33 347.55 L96.6 347.02 L96.14 346.23 L95.81 345.34 L94.8 345.04 L95.25 343.47 L94.14 343.26 L93.02 343.05 L92.69 342.16 L91.99 341.59 L92.84 339.74 L92 339.3 L91.18 338.82 L90.22 338.46 L89.84 337.63 L88.86 337.27 L89.12 335.95 L89.02 334.92 L88.67 334.09 L86.81 334.37 L86.92 333.19 L86.04 332.74 L85.89 331.76 L84.4 331.73 L84.39 330.66 L82.98 330.55 L82.45 329.83 L83.08 328.33 L81.68 328.21 L82.34 326.71 L80.1 327.11 L81.8 324.96 L80.96 324.45 L80.1 323.95 L79.38 323.35 L78.53 322.83 L77.23 322.58 L77.29 321.51 L78.91 319.52 L77.3 319.44 L76.18 319.06 L75.62 318.36 L75.43 317.45 L74.86 316.75 L74.93 315.7 L73.76 315.32 L74.95 313.69 L75.16 312.58 L73.83 312.28 L72.73 311.85 L73.04 310.71 L71.94 310.26 L71.4 309.54 L71.99 308.27 L71.3 307.63 L70.18 307.18 L70.17 306.21 L70.53 305.07 L70.86 303.96 L69.8 303.47 L70.07 302.39 L69.89 301.51 L69.22 300.85 L67.54 300.59 L68.67 299.18 L67.8 298.58 L68.57 297.33 L67.48 296.82 L68.49 295.49 L66.74 295.22 L65.39 294.78 L65.48 293.81 L65.29 292.94 L64.13 292.41 L65.96 290.84 L64.38 290.45 L63.51 289.81 L64.39 288.59 L63.85 287.84 L63.31 287.09 L62.36 286.46 L63.06 285.32 L62.23 284.65 L60.38 284.27 L61.98 282.89 L61.87 282 L62.7 280.87 L62.68 279.97 L58.8 280.07 L60.21 278.79 L61.45 277.57 L60.22 276.96 L57.47 276.7 L57.21 275.84 L58.58 274.62 L59.29 273.55 L59.01 272.71 L59.69 271.66 L58.31 271.04 L58.44 270.12 L57.28 269.43 L58.52 268.3 L56.78 267.72 L55.77 266.99 L57.32 265.82 L57.13 264.95 L55.47 264.31 L57.64 263.09 L56.12 262.41 L57.02 261.39 L54.93 260.77 L54.39 259.94 L52.4 259.27 L54.64 258.1 L54.44 257.22 L55.01 256.27 L55.96 255.28 L55.83 254.4 L55.09 253.57 L54.3 252.75 L55.21 251.78 L56.28 250.82 L55.88 249.96 L53.13 249.23 L56.18 248.17 L55.34 247.33 L55.22 246.45 L54.43 245.59 L55.45 244.67 L55.6 243.78 L54.31 242.92 L56.41 242 L56.89 241.11 L54.88 240.24 L54.77 239.36 L56.31 238.48 L56.81 237.61 L54.94 236.69 L56.25 235.84 L53.8 234.88 L56.39 234.08 L55.69 233.17 L55.77 232.29 L57.78 231.51 L55.63 230.51 L54.58 229.56 L57.34 228.86 L57.94 228.02 L57.05 227.08 L58.47 226.32 L58.29 225.43 L56.86 224.41 L58.41 223.68 L57.39 222.7 L56.8 221.74 L56.66 220.84 L58.23 220.14 L58.98 219.36 L58.9 218.47 L59.27 217.64 L57.77 216.53 L59.49 215.91 L59.5 215.03 L59.68 214.17 L57.53 212.92 L59.82 212.42 L60.19 211.6 L58.36 210.37 L57.81 209.36 L60.1 208.91 L59.39 207.87 L61.57 207.43 L59.6 206.12 L60.93 205.51 L62.03 204.86 L60.73 203.66 L62.42 203.17 L61.47 202.04 L62.17 201.31 L62.39 200.46 L62.31 199.54 L63 198.82 L63.46 198.04 L64.07 197.3 L63.31 196.18 L62.34 194.98 L62.76 194.19 L64.38 193.76 L63.77 192.65 L64.1 191.84 L63.99 190.87 L62.54 189.47 L66.38 189.82 L65.85 188.72 L66.9 188.16 L67.7 187.52 L67.02 186.35 L67.55 185.62 L66.76 184.39 L67.18 183.61 L67.05 182.62 L67.48 181.84 L67.35 180.84 L69.4 180.72 L67.95 179.18 L66.55 177.63 L67.92 177.24 L69.4 176.92 L69.93 176.19 L70.62 175.54 L69.68 174.14 L70.45 173.53 L70.6 172.62 L72.22 172.41 L71.86 171.26 L72.84 170.76 L71.8 169.27 L72.89 168.82 L72.61 167.69 L74.01 167.41 L75.57 167.23 L75.57 166.25 L76.58 165.79 L75.83 164.39 L76.87 163.96 L76.53 162.76 L77.54 162.32 L77.63 161.37 L79.2 161.26 L79.23 160.27 L79.21 159.24 L76.75 156.73 L80.01 157.67 L79.25 156.17 L79.56 155.31 L81.3 155.37 L81.12 154.21 L81.6 153.46 L81.58 152.4 L81.86 151.51 L82.3 150.74 L83.35 150.38 L84.01 149.76 L83.82 148.55 L85.15 148.4 L86.18 148.04 L86.66 147.31 L86.17 145.86 L88.04 146.14 L85.96 143.49 L88.63 144.39 L88.08 142.85 L87.33 141.14 L89.93 142.04 L90.23 141.15 L90.73 140.42 L91.57 139.96 L90.9 138.26 L93.07 138.91 L92.91 137.62 L92.59 136.18 L93.45 135.74 L94.14 135.17 L94.95 134.69 L95.45 133.95 L95.51 132.8 L95.73 131.8 L97.43 132.14 L98.57 131.99 L98.53 130.74 L99.22 130.16 L99.62 129.32 L101.76 130.16 L101.42 128.59 L102.05 127.97 L102.39 127.06 L103.16 126.57 L103.64 125.79 L105.16 126.09 L104.17 123.77 L105.22 123.58 L106.72 123.88 L107.73 123.67 L108.05 122.72 L108.99 122.44 L108.19 120.21 L110.08 121.01 L109.95 119.51 L110.65 118.95 L111.08 118.08 L112.97 118.95 L113.94 118.73 L114.08 117.52 L115.28 117.59 L114.82 115.61 L116.7 116.54 L117.29 115.87 L117.32 114.47 L119.01 115.21 L120 115.07 L119.63 113.11 L120.25 112.46 L120.66 111.53 L122 111.85 L122.02 110.37 L123.41 110.79 L124.68 111.06 L124.32 108.99 L125.8 109.6 L125.89 108.14 L127.06 108.3 L128.01 108.13 L128.23 106.86 L128.98 106.39 L130.62 107.31 L130.25 105.06 L132.22 106.55 L132.95 106.08 L132.88 104.26 L133.43 103.46 L134.67 103.81 L135.27 103.08 L135.82 102.27 L137.53 103.48 L137.11 100.93 L139.12 102.73 L139.85 102.24 L140.36 101.35 L141.08 100.82 L141.95 100.58 L143.15 100.99 L143.8 100.35 L144.3 99.38 L145.49 99.8 L144.45 95.66 L146.51 97.89 L147.62 98.16 L148.14 97.21 L148.48 95.83 L149.66 96.29 L150.52 96.04 L150.74 94.35 L151.78 94.51 L152.28 93.44 L153.9 94.99 L154.73 94.68 L155.73 94.83 L156.55 94.5 L157.03 93.34 L157.86 93.02 L158.49 92.2 L159.23 91.65 L159.92 90.97 L160.09 88.81 L161.35 89.66 L162.8 91.12 L163.77 91.23 L164.16 89.63 L164.07 86.52 L164.95 86.31 L166.82 89.21 L167.97 89.91 L168.31 88 L169.43 88.66 L170.42 88.89 L171.17 88.3 L171.53 86.31 L172.32 85.79 L173.55 86.93 L174.48 86.98 L175.26 86.45 L176.31 87.01 L176.69 84.83 L177.42 84.05 L178.78 85.9 L179.73 86.07 L180.1 83.69 L181.23 84.65 L182.28 85.34 L182.79 83.41 L183.68 83.29 L184.73 84.01 L185.35 82.47 L186.46 83.56 L187.13 82.23 L188.16 82.95 L188.82 81.42 L189.44 79.58 L190.69 81.72 L191.45 80.77 L192.58 82.34 L193.63 83.39 L194.42 82.65 L195.31 82.55 L196.14 82.02 L197.17 83.17 L197.97 82.38 L198.95 83.19 L199.83 83.2 L200.56 81.38 L201.54 82.43 L202.52 83.58 L203.31 82.3 L204.23 82.85 L205.11 82.75 L205.97 82.23 L206.79 80.86 L207.76 82.64 L208.65 82.89 L209.51 82.03 L210.35 80.3 L211.25 80.6 L212.16 81.55 L213.03 80.05 L213.93 81.62 L214.83 77.65 L215.71 81.47 L216.6 81.46 L217.49 81.4 L218.44 78.79 L219.27 81.32 L220.19 80.63 L221.06 81.25 L221.97 80.82 L222.9 80.1 L223.68 82.07 L224.64 81.06 L225.55 80.74 L226.37 81.89 L227.25 82.04 L228.04 83.11 L229.23 79.89 L229.89 82.34 L230.95 80.76 L231.59 83.2 L232.62 81.94 L233.42 82.75 L234.22 83.53 L235.14 83.3 L235.85 84.63 L237.03 82.58 L237.85 83.11 L238.83 82.61 L239.65 83.11 L240.55 83.13 L241.27 84.21 L241.97 85.36 L243.24 83.28 L243.79 85.18 L244.5 86.18 L245.5 85.63 L246.56 84.86 L247.17 86.3 L248.36 84.97 L249.02 86.08 L249.94 86.02 L250.91 85.76 L251.36 87.67 L252.55 86.54 L253.15 87.77 L254.04 87.84 L255.25 86.71 L256.16 86.75 L256.62 88.42 L257.52 88.49 L258.6 87.91 L259.71 87.3 L260.51 87.71 L261.75 86.74 L261.65 90.06 L262.79 89.37 L263.55 89.91 L265.19 87.76 L265.93 88.37 L266.7 88.9 L266.99 90.78 L268 90.57 L268.72 91.2 L269.93 90.48 L270.51 91.47 L271.37 91.72 L273.2 89.48 L273.28 91.73 L274.33 91.52 L274.19 94.22 L274.85 94.92 L275.89 94.73 L276.59 95.33 L278.97 92.06 L278.47 95.43 L279.57 95.15 L280.19 95.93 L281.49 95.23 L282.62 94.92 L282.81 96.61 L283.78 96.65 L284.18 97.86 L284.92 98.34 L285.96 98.25 L286.97 98.23 L288.09 98 L288.82 98.54 L289.32 99.49 L290.32 99.52 L291.13 99.91 L292.22 99.77 L292.92 100.36 L294.38 99.61 L294.4 101.37 L294.82 102.44 L295.34 103.3 L296.59 102.95 L297.33 103.45 L298.86 102.67 L298.41 105.09 L299.49 105.05 L299.17 107.21 L300.07 107.44 L300.55 108.31 L301.13 109.02 L302.97 107.85 L304.12 107.75 L303.75 109.86 L303.85 111.26 L305.05 111.08 L305.33 112.2 L306.81 111.65 L308.47 110.86 L308.34 112.54 L309.79 112.08 L309.6 113.81 L309.61 115.26 L310.65 115.34 L312.64 114.22 L314.28 113.58 L313.17 116.41 L315.3 115.18 L315.53 116.32 L316.46 116.58 L316.74 117.65 L316.8 118.96 L317.78 119.17 L318.16 120.08 L318.53 121.01 L319.92 120.76 L319.66 122.38 L320.76 122.48 L321.87 122.58 L322.62 123.08 L323.5 123.44 L322.7 125.58 L324.35 125.13 L323.96 126.8 L325.5 126.49 L324.92 128.33 L326.48 128.01 L327.59 128.16 L327.99 129 L327.71 130.51 L328.23 131.22 L329.02 131.68 L329.88 132.08 L331.27 132 L331.35 133.12 L332.07 133.66 L331.22 135.61 L332.81 135.37 L333.63 135.83 L333.76 136.87 L334.15 137.7 L335.12 138.03 L335.28 139.04 L336.68 139.02 L337.59 139.42 L337.64 140.52 L338.02 141.34 L338.61 142 L340.06 141.99 L339.61 143.45 L340.52 143.87 L341.82 143.99 L340.19 146.32 L341.43 146.49 L344.08 145.65 L342.47 147.9 L344 147.89 L345.67 147.8 L343.75 150.22 L344.4 150.83 L346.62 150.39 L346.96 151.24 L347.6 151.87 L346.65 153.56 L347.54 154.03 L347.52 155.09 L347.45 156.17 L348.7 156.42 L349.16 157.17 L350.76 157.23 L351.05 158.09 L352.12 158.49 L351.9 159.65 L351.07 161.15 L353.29 160.9 L353.14 162 L352.83 163.18 L353.09 164.04 L353.1 165.04 L355.41 164.8 L354.78 166.14 L354.48 167.28 L354.78 168.12 L355.63 168.67 L356.63 169.15 L356.82 170.04 L358.57 170.18 L357.23 171.8 L359.38 171.77 L359.39 172.74 L358.69 174.04 L361.1 173.92 L360.63 175.11 L361.4 175.74 L360.23 177.22 L362.69 177.13 L361.52 178.59 L363.68 178.66 L363.88 179.54 L363.41 180.7 L362.98 181.82 L362.74 182.86 L364.42 183.17 L364.76 184 L365.33 184.74 L363.81 186.23 L364.79 186.82 L364.94 187.71 L367.05 187.92 L365.56 189.37 L365.51 190.32 L365.69 191.18 L366.97 191.7 L366.47 192.79 L366.25 193.78 L369.98 193.59 L368.18 195.06 L368.73 195.82 L369.07 196.66 L368.33 197.78 L367.62 198.89 L369.17 199.39 L368.03 200.6 L370.08 201 L370.09 201.91 L370.5 202.73 L369 203.99 L369.61 204.76 L370.86 205.39 L369.94 206.49 L369.56 207.48 L371.86 207.91 L371.23 208.94 L371.99 209.7 L372.13 210.58 L371.01 211.68 L371.43 212.51 L372.79 213.18 L373.92 213.9 L374.07 214.78 L373.35 215.8 L374.26 216.57 L376.37 217.18 L374.39 218.36 L372.9 219.45 L372.78 220.36 L374.14 221.1 L374.84 221.92 L375.6 222.74 L373.6 223.84 L374.04 224.69 L374.96 225.5 L372.89 226.57 L373.78 227.39 L373.51 228.3 L374.95 229.09 L373.05 230.1 L373.85 230.94 L375.51 231.75 L373.18 232.75 L373.47 233.62 L374.49 234.47" fill="none" stroke="#2b2e8c" stroke-width="0.9" stroke-linejoin="round"/>
<line x1="289.22" y1="125.13" x2="292.78" y2="119.67" stroke="#e33382" stroke-width="3.2" stroke-opacity="1"/>
<line x1="300.85" y1="133.53" x2="304.95" y2="128.47" stroke="#e33382" stroke-width="3.2" stroke-opacity="1"/>
<line x1="327.8" y1="162.74" x2="333.2" y2="159.06" stroke="#e33382" stroke-width="3.2" stroke-opacity="1"/>
<line x1="348.21" y1="211.09" x2="354.59" y2="209.71" stroke="#e33382" stroke-width="3.2" stroke-opacity="1"/>
<line x1="344.35" y1="228.78" x2="350.85" y2="228.22" stroke="#e33382" stroke-width="3.2" stroke-opacity="1"/>
<line x1="344.06" y1="256.68" x2="350.54" y2="257.52" stroke="#e33382" stroke-width="3.2" stroke-opacity="1"/>
<line x1="86.44" y1="189.39" x2="80.36" y2="187.01" stroke="#e33382" stroke-width="3.2" stroke-opacity="1"/>
<line x1="84.94" y1="257.07" x2="78.46" y2="257.93" stroke="#e33382" stroke-width="3.2" stroke-opacity="1"/>
<line x1="106.98" y1="314.44" x2="101.62" y2="318.16" stroke="#e33382" stroke-width="3.2" stroke-opacity="1"/>
<line x1="115.47" y1="325.47" x2="110.53" y2="329.73" stroke="#e33382" stroke-width="3.2" stroke-opacity="1"/>
<line x1="271.84" y1="150.4" x2="279.4" y2="138.59" stroke="#3a9478" stroke-width="0.6" stroke-opacity="0.6"/>
<line x1="247.54" y1="188.35" x2="255.1" y2="176.55" stroke="#e39a5f" stroke-width="0.6" stroke-opacity="0.6"/>
<line x1="280.92" y1="156.84" x2="289.68" y2="145.89" stroke="#3a9478" stroke-width="0.6" stroke-opacity="0.6"/>
<line x1="266.53" y1="174.84" x2="275.29" y2="163.89" stroke="#7d6cb0" stroke-width="0.6" stroke-opacity="0.6"/>
<line x1="252.76" y1="192.06" x2="261.52" y2="181.1" stroke="#e39a5f" stroke-width="0.6" stroke-opacity="0.6"/>
<line x1="302.18" y1="179.46" x2="313.75" y2="171.49" stroke="#3a9478" stroke-width="0.6" stroke-opacity="0.6"/>
<line x1="283.18" y1="192.55" x2="294.75" y2="184.58" stroke="#7d6cb0" stroke-width="0.6" stroke-opacity="0.6"/>
<line x1="265" y1="205.07" x2="276.57" y2="197.1" stroke="#e39a5f" stroke-width="0.6" stroke-opacity="0.6"/>
<line x1="318.84" y1="217.94" x2="332.61" y2="215.06" stroke="#3a9478" stroke-width="0.6" stroke-opacity="0.6"/>
<line x1="296.22" y1="222.69" x2="309.99" y2="219.8" stroke="#7d6cb0" stroke-width="0.6" stroke-opacity="0.6"/>
<line x1="274.59" y1="227.22" x2="288.36" y2="224.33" stroke="#e39a5f" stroke-width="0.6" stroke-opacity="0.6"/>
<line x1="320.39" y1="227.27" x2="334.37" y2="225.74" stroke="#3a9478" stroke-width="0.6" stroke-opacity="0.6"/>
<line x1="320.59" y1="229.06" x2="334.57" y2="227.53" stroke="#3a9478" stroke-width="0.6" stroke-opacity="0.6"/>
<line x1="297.41" y1="229.8" x2="311.4" y2="228.26" stroke="#7d6cb0" stroke-width="0.6" stroke-opacity="0.6"/>
<line x1="297.61" y1="231.59" x2="311.6" y2="230.05" stroke="#7d6cb0" stroke-width="0.6" stroke-opacity="0.6"/>
<line x1="275.44" y1="232.21" x2="289.42" y2="230.68" stroke="#e39a5f" stroke-width="0.6" stroke-opacity="0.6"/>
<line x1="275.63" y1="234" x2="289.62" y2="232.46" stroke="#e39a5f" stroke-width="0.6" stroke-opacity="0.6"/>
<line x1="320.93" y1="233.17" x2="334.97" y2="232.41" stroke="#3a9478" stroke-width="0.6" stroke-opacity="0.6"/>
<line x1="321.02" y1="234.97" x2="335.07" y2="234.21" stroke="#3a9478" stroke-width="0.6" stroke-opacity="0.6"/>
<line x1="297.84" y1="234.41" x2="311.89" y2="233.66" stroke="#7d6cb0" stroke-width="0.6" stroke-opacity="0.6"/>
<line x1="297.94" y1="236.21" x2="311.99" y2="235.45" stroke="#7d6cb0" stroke-width="0.6" stroke-opacity="0.6"/>
<line x1="275.77" y1="235.6" x2="289.82" y2="234.85" stroke="#e39a5f" stroke-width="0.6" stroke-opacity="0.6"/>
<line x1="275.86" y1="237.4" x2="289.91" y2="236.64" stroke="#e39a5f" stroke-width="0.6" stroke-opacity="0.6"/>
<line x1="320.29" y1="253.09" x2="334.25" y2="254.84" stroke="#3a9478" stroke-width="0.6" stroke-opacity="0.6"/>
<line x1="297.36" y1="250.2" x2="311.32" y2="251.96" stroke="#7d6cb0" stroke-width="0.6" stroke-opacity="0.6"/>
<line x1="275.42" y1="247.45" x2="289.38" y2="249.2" stroke="#e39a5f" stroke-width="0.6" stroke-opacity="0.6"/>
<line x1="115.15" y1="201.81" x2="102.01" y2="196.8" stroke="#3a9478" stroke-width="0.6" stroke-opacity="0.6"/>
<line x1="136.73" y1="210.06" x2="123.59" y2="205.04" stroke="#7d6cb0" stroke-width="0.6" stroke-opacity="0.6"/>
<line x1="157.37" y1="217.94" x2="144.23" y2="212.92" stroke="#e39a5f" stroke-width="0.6" stroke-opacity="0.6"/>
<line x1="108.86" y1="252.72" x2="94.9" y2="254.42" stroke="#3a9478" stroke-width="0.6" stroke-opacity="0.6"/>
<line x1="131.81" y1="249.92" x2="117.84" y2="251.62" stroke="#7d6cb0" stroke-width="0.6" stroke-opacity="0.6"/>
<line x1="153.75" y1="247.23" x2="139.79" y2="248.94" stroke="#e39a5f" stroke-width="0.6" stroke-opacity="0.6"/>
<line x1="127.66" y1="301.05" x2="116.17" y2="309.14" stroke="#3a9478" stroke-width="0.6" stroke-opacity="0.6"/>
<line x1="146.52" y1="287.76" x2="135.04" y2="295.85" stroke="#7d6cb0" stroke-width="0.6" stroke-opacity="0.6"/>
<line x1="164.57" y1="275.05" x2="153.08" y2="283.14" stroke="#e39a5f" stroke-width="0.6" stroke-opacity="0.6"/>
<line x1="133.84" y1="308.92" x2="123.17" y2="318.05" stroke="#3a9478" stroke-width="0.6" stroke-opacity="0.6"/>
<line x1="151.36" y1="293.92" x2="140.69" y2="303.05" stroke="#7d6cb0" stroke-width="0.6" stroke-opacity="0.6"/>
<line x1="168.12" y1="279.58" x2="157.46" y2="288.71" stroke="#e39a5f" stroke-width="0.6" stroke-opacity="0.6"/>
<text x="253.9" y="118.2" font-size="9.6" fill="#c0332f">lp 2588</text>
<text x="304.8" y="137.5" font-size="9.6" fill="#222">gor</text>
<text x="240" y="142" font-size="9.6" fill="#222">SNP03</text>
<text x="316.6" y="157" font-size="9.6" fill="#222">int4</text>
<text x="274.3" y="174.2" font-size="9.6" fill="#222">SNP02</text>
<text x="291.8" y="196" font-size="9.6" fill="#222">SNP04</text>
<text x="334.6" y="206" font-size="9.6" fill="#222">ybhF</text>
<text x="274.6" y="214.8" font-size="9.6" fill="#222">SNP27</text>
<text x="303.5" y="247" font-size="9.6" fill="#222">SNP12</text>
<text x="285.1" y="265" font-size="9.6" fill="#222">SNP26</text>
<text x="336.8" y="270.5" font-size="9.6" fill="#333">TRSF</text>
<text x="81.1" y="182.1" font-size="9.6" fill="#222">yagU</text>
<text x="127.6" y="201.2" font-size="9.6" fill="#222">SNP10</text>
<text x="103" y="245.4" font-size="9.6" fill="#222">SNP06</text>
<text x="67.8" y="253.1" font-size="9.6" fill="#c0332f">dps</text>
<text x="109" y="291.2" font-size="9.6" fill="#222">SNP05</text>
<text x="82.5" y="312" font-size="9.6" fill="#222">ram2</text>
<text x="145.4" y="314.6" font-size="9.6" fill="#222">SNP18</text>
<text x="157.9" y="237.9" font-size="10.75" fill="#222" font-style="italic" textLength="113" lengthAdjust="spacingAndGlyphs">Lactobacillus plantarum</text>
<text x="169.5" y="251" font-size="10.7" fill="#222">HNU082 (3.31 Mb)</text>
<line x1="183.8" y1="334.6" x2="195.7" y2="334.6" stroke="#b59bd2" stroke-width="2.2"/>
<line x1="183.8" y1="349.2" x2="195.7" y2="349.2" stroke="#ee9a3e" stroke-width="2.2"/>
<line x1="183.8" y1="363.7" x2="195.7" y2="363.7" stroke="#1f9e7c" stroke-width="2.2"/>
<text x="202.6" y="337.7" font-size="9.73" fill="#333">Probiotic+GOS (Continues)</text>
<text x="202.6" y="352.3" font-size="9.73" fill="#333">Probiotic+GOS (Pulsed)</text>
<text x="202.6" y="366.8" font-size="9.73" fill="#333">Probiotic</text>
<path d="M772.8 245.5 L772.78 248.23 L772.7 250.96 L772.58 253.68 L772.41 256.41 L772.2 259.13 L771.93 261.85 L771.62 264.56 L771.25 267.26 L770.84 269.96 L770.39 272.66 L769.88 275.34 L769.33 278.01 L768.73 280.68 L768.08 283.33 L767.38 285.98 L766.64 288.61 L765.85 291.22 L765.02 293.83 L764.14 296.41 L763.21 298.99 L762.24 301.54 L761.22 304.08 L760.16 306.6 L759.06 309.11 L757.91 311.59 L756.71 314.05 L755.47 316.5 L754.19 318.92 L752.87 321.31 L751.5 323.69 L750.09 326.04 L748.64 328.37 L747.15 330.67 L745.62 332.94 L744.05 335.19 L742.44 337.42 L740.79 339.61 L739.1 341.77 L737.37 343.91 L735.61 346.01 L733.81 348.09 L731.97 350.13 L730.09 352.14 L728.18 354.12 L726.24 356.07 L724.26 357.98 L722.25 359.86 L720.2 361.7 L718.13 363.51 L716.02 365.28 L713.88 367.02 L711.7 368.71 L709.5 370.38 L707.27 372 L705.01 373.58 L702.73 375.13 L700.42 376.63 L698.08 378.1 L695.71 379.52 L693.32 380.91 L690.91 382.25 L688.47 383.55 L686.01 384.81 L683.52 386.02 L681.02 387.2 L678.5 388.33 L675.95 389.41 L673.39 390.46 L670.81 391.46 L668.21 392.41 L665.6 393.32 L662.97 394.18 L660.32 395 L657.66 395.78 L654.99 396.5 L652.3 397.19 L649.61 397.82 L646.9 398.41 L644.18 398.95 L641.45 399.45 L638.72 399.89 L635.98 400.3 L633.23 400.65 L630.47 400.96 L627.71 401.22 L624.94 401.43 L622.18 401.59 L619.41 401.71 L616.63 401.78 L613.86 401.8 L611.09 401.77 L608.32 401.7 L605.55 401.58 L602.78 401.41 L600.01 401.19 L597.25 400.93 L594.5 400.62 L591.75 400.26 L589.01 399.85 L586.27 399.4 L583.55 398.9 L580.83 398.35 L578.12 397.76 L575.43 397.12 L572.74 396.43 L570.07 395.7 L567.41 394.92 L564.77 394.1 L562.14 393.23 L559.53 392.32 L556.93 391.36 L554.35 390.35 L551.79 389.31 L549.25 388.22 L546.73 387.08 L544.22 385.9 L541.74 384.68 L539.29 383.42 L536.85 382.12 L534.44 380.77 L532.05 379.38 L529.69 377.95 L527.35 376.48 L525.04 374.97 L522.76 373.42 L520.5 371.84 L518.27 370.21 L516.08 368.55 L513.91 366.84 L511.77 365.11 L509.66 363.33 L507.59 361.52 L505.55 359.67 L503.54 357.79 L501.56 355.88 L499.62 353.93 L497.72 351.94 L495.85 349.93 L494.01 347.88 L492.21 345.8 L490.45 343.7 L488.73 341.56 L487.04 339.39 L485.4 337.19 L483.79 334.97 L482.22 332.72 L480.69 330.44 L479.21 328.14 L477.76 325.81 L476.36 323.45 L475 321.07 L473.68 318.67 L472.4 316.25 L471.17 313.81 L469.98 311.34 L468.83 308.86 L467.73 306.35 L466.67 303.83 L465.66 301.29 L464.69 298.73 L463.77 296.15 L462.89 293.56 L462.06 290.96 L461.28 288.34 L460.54 285.71 L459.85 283.07 L459.21 280.41 L458.62 277.75 L458.07 275.07 L457.57 272.39 L457.11 269.69 L456.71 266.99 L456.35 264.29 L456.04 261.57 L455.78 258.86 L455.57 256.14 L455.4 253.41 L455.29 250.68 L455.22 247.96 L455.2 245.23 L455.23 242.5 L455.31 239.77 L455.43 237.04 L455.61 234.32 L455.83 231.6 L456.1 228.88 L456.42 226.17 L456.79 223.46 L457.2 220.76 L457.66 218.07 L458.17 215.39 L458.73 212.72 L459.34 210.05 L459.99 207.4 L460.69 204.76 L461.43 202.13 L462.23 199.52 L463.07 196.91 L463.95 194.33 L464.88 191.76 L465.86 189.2 L466.88 186.66 L467.95 184.14 L469.06 181.64 L470.21 179.16 L471.41 176.7 L472.65 174.26 L473.94 171.84 L475.27 169.45 L476.64 167.07 L478.05 164.72 L479.5 162.4 L481 160.1 L482.53 157.83 L484.11 155.58 L485.72 153.36 L487.38 151.17 L489.07 149.01 L490.8 146.88 L492.57 144.78 L494.38 142.7 L496.22 140.66 L498.1 138.66 L500.01 136.68 L501.96 134.74 L503.94 132.83 L505.96 130.95 L508 129.11 L510.09 127.31 L512.2 125.54 L514.34 123.81 L516.52 122.12 L518.72 120.46 L520.95 118.84 L523.21 117.26 L525.5 115.72 L527.82 114.22 L530.16 112.76 L532.53 111.34 L534.92 109.96 L537.34 108.62 L539.78 107.32 L542.24 106.07 L544.73 104.86 L547.23 103.69 L549.76 102.56 L552.3 101.48 L554.87 100.44 L557.45 99.45 L560.05 98.5 L562.67 97.59 L565.3 96.73 L567.95 95.92 L570.61 95.15 L573.28 94.43 L575.97 93.75 L578.67 93.12 L581.37 92.53 L584.09 92 L586.82 91.51 L589.56 91.06 L592.3 90.67 L595.05 90.32 L597.81 90.01 L600.57 89.76 L603.33 89.55 L606.1 89.39 L608.87 89.28 L611.65 89.22 L614.42 89.2 L617.19 89.23 L619.96 89.31 L622.73 89.44 L625.5 89.61 L628.26 89.83 L631.02 90.1 L633.78 90.42 L636.53 90.78 L639.27 91.19 L642 91.65 L644.73 92.15 L647.44 92.71 L650.15 93.3 L652.84 93.95 L655.53 94.64 L658.2 95.38 L660.85 96.16 L663.5 96.99 L666.12 97.86 L668.73 98.78 L671.33 99.74 L673.91 100.75 L676.47 101.8 L679.01 102.9 L681.53 104.03 L684.03 105.22 L686.5 106.44 L688.96 107.71 L691.39 109.02 L693.8 110.37 L696.19 111.76 L698.55 113.19 L700.88 114.67 L703.19 116.18 L705.47 117.73 L707.72 119.33 L709.95 120.96 L712.14 122.62 L714.31 124.33 L716.44 126.07 L718.55 127.85 L720.62 129.67 L722.66 131.52 L724.66 133.4 L726.63 135.32 L728.57 137.27 L730.47 139.26 L732.34 141.28 L734.17 143.33 L735.97 145.41 L737.72 147.52 L739.44 149.66 L741.12 151.83 L742.77 154.03 L744.37 156.26 L745.93 158.51 L747.46 160.79 L748.94 163.1 L750.38 165.43 L751.78 167.79 L753.14 170.17 L754.45 172.57 L755.73 174.99 L756.96 177.44 L758.14 179.91 L759.28 182.4 L760.38 184.9 L761.43 187.43 L762.44 189.97 L763.4 192.53 L764.32 195.11 L765.19 197.7 L766.02 200.3 L766.8 202.92 L767.53 205.55 L768.21 208.2 L768.85 210.86 L769.44 213.52 L769.99 216.2 L770.48 218.88 L770.93 221.58 L771.33 224.28 L771.68 226.99 L771.99 229.7 L772.24 232.42 L772.45 235.14 L772.61 237.86 L772.72 240.59" fill="none" stroke="#f0f0f7" stroke-width="15.5"/>
<path d="M788.35 245.5 L788.32 248.5 L788.24 251.49 L788.11 254.49 L787.92 257.48 L787.68 260.46 L787.39 263.45 L787.04 266.42 L786.65 269.4 L786.2 272.36 L785.69 275.31 L785.14 278.26 L784.53 281.2 L783.87 284.12 L783.16 287.04 L782.4 289.94 L781.58 292.83 L780.72 295.7 L779.8 298.56 L778.84 301.4 L777.82 304.22 L776.75 307.03 L775.64 309.82 L774.47 312.58 L773.26 315.33 L771.99 318.06 L770.68 320.76 L769.32 323.45 L767.92 326.1 L766.46 328.74 L764.96 331.34 L763.42 333.92 L761.82 336.48 L760.19 339.01 L758.51 341.5 L756.78 343.97 L755.01 346.41 L753.2 348.82 L751.35 351.2 L749.45 353.54 L747.51 355.85 L745.53 358.13 L743.52 360.38 L741.46 362.58 L739.36 364.76 L737.23 366.89 L735.05 368.99 L732.84 371.05 L730.6 373.08 L728.32 375.06 L726 377.01 L723.65 378.91 L721.27 380.78 L718.85 382.6 L716.4 384.38 L713.92 386.12 L711.41 387.82 L708.87 389.47 L706.31 391.08 L703.71 392.64 L701.08 394.16 L698.43 395.63 L695.76 397.06 L693.06 398.44 L690.33 399.78 L687.58 401.07 L684.81 402.31 L682.02 403.5 L679.2 404.65 L676.37 405.74 L673.52 406.79 L670.65 407.79 L667.76 408.74 L664.86 409.64 L661.94 410.49 L659 411.29 L656.05 412.03 L653.09 412.73 L650.12 413.38 L647.13 413.97 L644.14 414.52 L641.14 415.01 L638.13 415.45 L635.11 415.84 L632.08 416.17 L629.05 416.46 L626.02 416.69 L622.98 416.87 L619.94 417 L616.89 417.08 L613.85 417.1 L610.8 417.07 L607.76 416.99 L604.72 416.86 L601.68 416.67 L598.64 416.43 L595.61 416.14 L592.59 415.8 L589.57 415.41 L586.56 414.96 L583.56 414.46 L580.56 413.91 L577.58 413.31 L574.61 412.66 L571.65 411.96 L568.7 411.21 L565.77 410.4 L562.85 409.55 L559.95 408.65 L557.06 407.69 L554.19 406.69 L551.34 405.64 L548.51 404.53 L545.7 403.38 L542.91 402.19 L540.14 400.94 L537.39 399.65 L534.67 398.31 L531.97 396.92 L529.3 395.49 L526.65 394.01 L524.03 392.49 L521.44 390.92 L518.87 389.3 L516.33 387.65 L513.83 385.95 L511.35 384.2 L508.9 382.42 L506.49 380.59 L504.11 378.72 L501.76 376.81 L499.45 374.86 L497.17 372.88 L494.93 370.85 L492.73 368.78 L490.56 366.68 L488.43 364.54 L486.33 362.36 L484.28 360.15 L482.26 357.9 L480.29 355.62 L478.36 353.31 L476.47 350.96 L474.62 348.58 L472.81 346.17 L471.04 343.73 L469.32 341.25 L467.65 338.75 L466.01 336.22 L464.43 333.67 L462.88 331.08 L461.39 328.47 L459.94 325.84 L458.54 323.18 L457.18 320.49 L455.88 317.79 L454.62 315.06 L453.41 312.31 L452.25 309.54 L451.14 306.75 L450.08 303.94 L449.06 301.11 L448.1 298.27 L447.19 295.41 L446.33 292.54 L445.52 289.65 L444.77 286.74 L444.06 283.83 L443.41 280.9 L442.8 277.97 L442.25 275.02 L441.76 272.06 L441.31 269.1 L440.92 266.13 L440.58 263.15 L440.29 260.16 L440.06 257.18 L439.88 254.19 L439.75 251.19 L439.68 248.2 L439.65 245.2 L439.69 242.2 L439.77 239.21 L439.91 236.21 L440.1 233.22 L440.35 230.24 L440.64 227.25 L440.99 224.28 L441.4 221.31 L441.85 218.34 L442.36 215.39 L442.92 212.44 L443.53 209.51 L444.2 206.58 L444.91 203.67 L445.68 200.77 L446.5 197.89 L447.37 195.01 L448.29 192.16 L449.26 189.32 L450.29 186.5 L451.36 183.69 L452.48 180.9 L453.65 178.14 L454.87 175.39 L456.14 172.67 L457.45 169.97 L458.82 167.29 L460.23 164.63 L461.69 162 L463.19 159.4 L464.74 156.82 L466.34 154.27 L467.98 151.74 L469.66 149.25 L471.39 146.78 L473.17 144.34 L474.98 141.94 L476.84 139.57 L478.74 137.22 L480.68 134.92 L482.67 132.64 L484.69 130.4 L486.75 128.2 L488.85 126.03 L490.99 123.89 L493.17 121.8 L495.38 119.74 L497.63 117.72 L499.91 115.74 L502.23 113.8 L504.59 111.9 L506.97 110.04 L509.39 108.22 L511.84 106.44 L514.33 104.71 L516.84 103.02 L519.38 101.37 L521.95 99.76 L524.55 98.2 L527.18 96.69 L529.83 95.22 L532.51 93.8 L535.22 92.42 L537.94 91.09 L540.7 89.8 L543.47 88.57 L546.26 87.38 L549.08 86.24 L551.92 85.15 L554.77 84.11 L557.64 83.11 L560.53 82.17 L563.44 81.27 L566.36 80.43 L569.29 79.64 L572.24 78.89 L575.21 78.2 L578.18 77.56 L581.17 76.97 L584.16 76.43 L587.16 75.94 L590.18 75.51 L593.2 75.13 L596.22 74.79 L599.25 74.51 L602.29 74.29 L605.33 74.11 L608.37 73.99 L611.41 73.92 L614.46 73.9 L617.5 73.93 L620.55 74.02 L623.59 74.16 L626.63 74.35 L629.66 74.59 L632.69 74.89 L635.71 75.24 L638.73 75.64 L641.74 76.09 L644.74 76.59 L647.74 77.14 L650.72 77.75 L653.69 78.41 L656.65 79.11 L659.59 79.87 L662.52 80.68 L665.44 81.54 L668.34 82.45 L671.23 83.41 L674.09 84.42 L676.94 85.47 L679.77 86.58 L682.58 87.73 L685.37 88.94 L688.14 90.19 L690.88 91.48 L693.6 92.83 L696.3 94.22 L698.97 95.66 L701.61 97.14 L704.23 98.67 L706.82 100.24 L709.39 101.86 L711.92 103.52 L714.42 105.23 L716.9 106.97 L719.34 108.76 L721.75 110.6 L724.13 112.47 L726.47 114.38 L728.78 116.33 L731.05 118.33 L733.29 120.36 L735.49 122.43 L737.66 124.53 L739.79 126.68 L741.88 128.86 L743.93 131.07 L745.94 133.32 L747.91 135.61 L749.83 137.93 L751.72 140.28 L753.57 142.66 L755.37 145.08 L757.13 147.52 L758.85 150 L760.52 152.5 L762.15 155.03 L763.73 157.59 L765.27 160.18 L766.76 162.79 L768.2 165.43 L769.6 168.09 L770.95 170.78 L772.25 173.49 L773.5 176.22 L774.71 178.97 L775.86 181.74 L776.97 184.53 L778.03 187.34 L779.03 190.17 L779.99 193.02 L780.9 195.88 L781.75 198.75 L782.56 201.64 L783.31 204.55 L784.01 207.46 L784.66 210.39 L785.25 213.33 L785.8 216.28 L786.29 219.24 L786.73 222.2 L787.12 225.17 L787.45 228.15 L787.73 231.14 L787.96 234.12 L788.14 237.12 L788.26 240.11" fill="none" stroke="#f4b384" stroke-width="10.3"/>
<path d="M796.88 245.5 L796.85 248.64 L796.77 251.79 L796.63 254.93 L796.43 258.06 L796.18 261.2 L795.88 264.33 L795.52 267.45 L795.1 270.57 L794.63 273.67 L794.1 276.77 L793.52 279.86 L792.88 282.94 L792.19 286.01 L791.44 289.07 L790.64 292.11 L789.79 295.14 L788.88 298.16 L787.92 301.15 L786.91 304.13 L785.84 307.1 L784.72 310.04 L783.55 312.96 L782.33 315.87 L781.05 318.75 L779.73 321.61 L778.35 324.45 L776.93 327.26 L775.45 330.05 L773.93 332.81 L772.35 335.55 L770.73 338.25 L769.06 340.93 L767.34 343.58 L765.58 346.2 L763.77 348.79 L761.92 351.35 L760.01 353.88 L758.07 356.37 L756.08 358.83 L754.05 361.26 L751.97 363.64 L749.86 366 L747.7 368.31 L745.5 370.59 L743.26 372.84 L740.98 375.04 L738.66 377.2 L736.31 379.32 L733.91 381.4 L731.48 383.44 L729.02 385.44 L726.52 387.4 L723.98 389.31 L721.42 391.18 L718.82 393 L716.18 394.78 L713.52 396.52 L710.82 398.2 L708.1 399.84 L705.35 401.44 L702.57 402.98 L699.76 404.48 L696.93 405.93 L694.07 407.33 L691.18 408.68 L688.28 409.99 L685.35 411.24 L682.4 412.44 L679.42 413.59 L676.43 414.69 L673.42 415.73 L670.39 416.73 L667.34 417.67 L664.28 418.56 L661.2 419.4 L658.11 420.19 L655.01 420.92 L651.89 421.59 L648.76 422.22 L645.62 422.79 L642.47 423.31 L639.31 423.77 L636.14 424.18 L632.97 424.53 L629.79 424.83 L626.6 425.07 L623.42 425.26 L620.23 425.4 L617.03 425.48 L613.84 425.5 L610.65 425.47 L607.45 425.38 L604.26 425.24 L601.08 425.05 L597.89 424.8 L594.71 424.5 L591.54 424.14 L588.37 423.72 L585.22 423.26 L582.07 422.73 L578.93 422.16 L575.8 421.53 L572.68 420.85 L569.58 420.11 L566.49 419.32 L563.41 418.48 L560.35 417.58 L557.3 416.63 L554.28 415.63 L551.27 414.58 L548.28 413.47 L545.31 412.32 L542.36 411.11 L539.43 409.86 L536.53 408.55 L533.64 407.19 L530.79 405.79 L527.96 404.33 L525.15 402.83 L522.37 401.28 L519.62 399.68 L516.9 398.04 L514.21 396.34 L511.55 394.6 L508.92 392.82 L506.32 390.99 L503.76 389.12 L501.23 387.2 L498.73 385.24 L496.27 383.24 L493.84 381.2 L491.45 379.11 L489.1 376.98 L486.79 374.82 L484.51 372.61 L482.28 370.37 L480.08 368.08 L477.93 365.76 L475.82 363.41 L473.75 361.01 L471.72 358.59 L469.73 356.12 L467.79 353.63 L465.9 351.1 L464.05 348.54 L462.24 345.94 L460.48 343.32 L458.77 340.67 L457.1 337.98 L455.49 335.27 L453.92 332.53 L452.4 329.77 L450.93 326.98 L449.51 324.16 L448.14 321.32 L446.82 318.46 L445.55 315.58 L444.33 312.67 L443.17 309.75 L442.05 306.8 L440.99 303.84 L439.98 300.85 L439.03 297.85 L438.12 294.84 L437.28 291.81 L436.48 288.76 L435.74 285.71 L435.05 282.64 L434.42 279.55 L433.85 276.46 L433.32 273.36 L432.86 270.25 L432.45 267.14 L432.09 264.01 L431.79 260.88 L431.54 257.75 L431.35 254.61 L431.22 251.47 L431.14 248.33 L431.12 245.18 L431.15 242.04 L431.24 238.9 L431.39 235.76 L431.59 232.62 L431.84 229.49 L432.16 226.36 L432.52 223.24 L432.95 220.12 L433.42 217.01 L433.96 213.91 L434.55 210.83 L435.19 207.75 L435.88 204.68 L436.64 201.62 L437.44 198.58 L438.3 195.55 L439.21 192.54 L440.18 189.55 L441.2 186.57 L442.27 183.61 L443.4 180.66 L444.57 177.74 L445.8 174.84 L447.08 171.96 L448.41 169.1 L449.79 166.27 L451.22 163.46 L452.7 160.67 L454.23 157.91 L455.81 155.18 L457.44 152.48 L459.11 149.8 L460.83 147.15 L462.6 144.53 L464.41 141.95 L466.27 139.39 L468.18 136.87 L470.13 134.38 L472.12 131.92 L474.16 129.5 L476.24 127.12 L478.36 124.77 L480.52 122.45 L482.72 120.18 L484.97 117.94 L487.25 115.74 L489.57 113.58 L491.93 111.47 L494.33 109.39 L496.76 107.35 L499.23 105.36 L501.73 103.41 L504.27 101.5 L506.84 99.64 L509.45 97.82 L512.08 96.04 L514.75 94.31 L517.45 92.63 L520.18 90.99 L522.93 89.41 L525.71 87.86 L528.52 86.37 L531.36 84.93 L534.22 83.53 L537.11 82.18 L540.02 80.89 L542.95 79.64 L545.9 78.44 L548.88 77.3 L551.87 76.21 L554.88 75.16 L557.91 74.17 L560.96 73.24 L564.03 72.35 L567.11 71.52 L570.2 70.74 L573.31 70.01 L576.43 69.34 L579.56 68.72 L582.7 68.16 L585.85 67.65 L589.01 67.19 L592.18 66.79 L595.35 66.44 L598.53 66.15 L601.72 65.91 L604.9 65.72 L608.1 65.59 L611.29 65.52 L614.48 65.5 L617.67 65.54 L620.87 65.63 L624.06 65.77 L627.24 65.97 L630.43 66.23 L633.61 66.54 L636.78 66.9 L639.94 67.32 L643.1 67.79 L646.25 68.32 L649.39 68.9 L652.51 69.54 L655.63 70.23 L658.73 70.97 L661.82 71.76 L664.9 72.61 L667.96 73.51 L671 74.47 L674.03 75.47 L677.03 76.53 L680.02 77.64 L682.99 78.8 L685.94 80.01 L688.86 81.27 L691.76 82.58 L694.64 83.95 L697.5 85.36 L700.33 86.82 L703.13 88.32 L705.9 89.88 L708.65 91.48 L711.37 93.13 L714.06 94.83 L716.71 96.57 L719.34 98.36 L721.94 100.19 L724.5 102.07 L727.02 103.99 L729.52 105.96 L731.98 107.96 L734.4 110.01 L736.78 112.1 L739.13 114.23 L741.44 116.4 L743.71 118.61 L745.94 120.86 L748.13 123.15 L750.29 125.47 L752.39 127.83 L754.46 130.23 L756.48 132.66 L758.46 135.13 L760.4 137.63 L762.29 140.16 L764.14 142.72 L765.94 145.32 L767.69 147.95 L769.4 150.6 L771.06 153.29 L772.67 156 L774.24 158.74 L775.75 161.51 L777.22 164.3 L778.63 167.12 L780 169.96 L781.31 172.83 L782.58 175.71 L783.79 178.62 L784.95 181.55 L786.06 184.5 L787.11 187.46 L788.12 190.45 L789.07 193.45 L789.96 196.47 L790.81 199.5 L791.6 202.54 L792.33 205.6 L793.01 208.67 L793.64 211.76 L794.21 214.85 L794.73 217.95 L795.19 221.06 L795.59 224.18 L795.94 227.3 L796.24 230.43 L796.48 233.57 L796.66 236.71 L796.79 239.85" fill="none" stroke="#111" stroke-width="1.9"/>
<path d="M797.69 246.98L800.33 247M797.59 251.64L799.11 251.69M797.37 256.29L798.89 256.38M797.02 260.94L798.54 261.06M796.56 265.57L798.07 265.74M795.97 270.19L798.59 270.55M795.27 274.8L796.77 275.04M794.44 279.38L795.94 279.66M793.49 283.94L794.98 284.26M792.43 288.48L793.91 288.84M791.24 292.99L793.79 293.67M789.94 297.47L791.4 297.9M788.52 301.91L789.97 302.38M786.99 306.31L788.42 306.82M785.34 310.68L786.76 311.22M783.58 315L786.02 316M781.7 319.28L783.09 319.89M779.72 323.5L781.09 324.15M777.62 327.68L778.98 328.36M775.42 331.8L776.76 332.51M773.11 335.86L775.39 337.16M770.69 339.86L771.99 340.65M768.17 343.81L769.45 344.62M765.54 347.68L766.8 348.53M762.82 351.49L764.05 352.37M760 355.23L762.1 356.8M757.08 358.89L758.26 359.83M754.06 362.48L755.22 363.45M750.95 365.99L752.09 366.99M747.76 369.42L748.87 370.45M744.47 372.77L746.35 374.6M741.1 376.04L742.15 377.12M737.64 379.22L738.66 380.33M734.1 382.31L735.09 383.44M730.48 385.3L731.44 386.46M726.78 388.21L728.4 390.26M723.01 391.02L723.91 392.23M719.17 393.74L720.04 394.97M715.25 396.35L716.09 397.61M711.27 398.87L712.08 400.14M707.23 401.29L708.57 403.53M703.12 403.6L703.86 404.91M698.95 405.8L699.66 407.13M694.73 407.9L695.4 409.25M690.45 409.9L691.09 411.26M686.13 411.78L687.16 414.17M681.75 413.55L682.31 414.95M677.33 415.22L677.86 416.62M672.87 416.76L673.36 418.19M668.37 418.2L668.82 419.63M663.83 419.52L664.55 422.02M659.26 420.73L659.64 422.18M654.66 421.82L655 423.28M650.03 422.79L650.33 424.26M645.38 423.64L645.64 425.12M640.71 424.38L641.09 426.95M636.02 425L636.2 426.49M631.32 425.49L631.46 426.99M626.6 425.87L626.71 427.37M621.88 426.13L621.94 427.63M617.15 426.27L617.19 428.87M612.42 426.29L612.4 427.79M607.69 426.19L607.63 427.69M602.96 425.97L602.87 427.47M598.24 425.63L598.11 427.13M593.53 425.17L593.24 427.76M588.84 424.6L588.63 426.08M584.16 423.9L583.91 425.38M579.5 423.08L579.22 424.56M574.87 422.15L574.54 423.62M570.26 421.1L569.63 423.62M565.68 419.93L565.28 421.38M561.13 418.65L560.69 420.09M556.62 417.25L556.14 418.68M552.14 415.74L551.63 417.15M547.71 414.12L546.75 416.54M543.32 412.38L542.73 413.76M538.97 410.53L538.35 411.9M534.68 408.58L534.02 409.93M530.44 406.51L529.75 407.85M526.25 404.34L524.99 406.62M522.13 402.06L521.36 403.36M518.06 399.68L517.26 400.96M514.06 397.2L513.23 398.46M510.12 394.61L509.26 395.85M506.25 391.93L504.7 394.04M502.46 389.15L501.53 390.34M498.74 386.28L497.78 387.44M495.09 383.31L494.1 384.45M491.52 380.25L490.51 381.37M488.04 377.1L486.23 378.99M484.64 373.86L483.56 374.93M481.32 370.54L480.22 371.58M478.09 367.14L476.97 368.14M474.96 363.65L473.8 364.63M471.91 360.09L469.87 361.73M468.96 356.45L467.76 357.37M466.1 352.73L464.88 353.62M463.35 348.95L462.1 349.81M460.69 345.09L459.42 345.92M458.13 341.18L455.89 342.55M455.68 337.19L454.37 337.95M453.34 333.15L452 333.88M451.1 329.05L449.74 329.74M448.96 324.89L447.59 325.55M446.94 320.68L444.54 321.76M445.03 316.42L443.63 317.01M443.23 312.11L441.81 312.67M441.54 307.76L440.11 308.28M439.97 303.37L438.53 303.85M438.51 298.94L435.99 299.71M437.17 294.47L435.71 294.88M435.95 289.98L434.47 290.34M434.85 285.45L433.36 285.78M433.86 280.89L432.37 281.19M432.99 276.31L430.39 276.76M432.25 271.72L430.74 271.93M431.62 267.1L430.11 267.28M431.12 262.47L429.6 262.61M430.73 257.83L429.21 257.93M430.47 253.18L427.83 253.29M430.33 248.52L428.81 248.55M430.31 243.87L428.79 243.85M430.42 239.21L428.9 239.16M430.64 234.56L429.12 234.47M430.99 229.92L428.36 229.69M431.46 225.28L429.94 225.11M432.05 220.66L430.54 220.45M432.76 216.06L431.26 215.81M433.59 211.47L432.09 211.19M434.54 206.91L431.96 206.36M435.61 202.37L434.13 202.02M436.8 197.87L435.33 197.47M438.1 193.39L436.64 192.96M439.52 188.95L438.08 188.48M441.06 184.54L438.57 183.67M442.71 180.18L441.29 179.64M444.48 175.86L443.07 175.28M446.36 171.59L444.97 170.97M448.35 167.36L446.97 166.71M450.45 163.19L448.1 162M452.66 159.07L451.32 158.35M454.97 155.01L453.65 154.26M457.39 151.01L456.09 150.22M459.92 147.07L458.64 146.25M462.54 143.2L460.37 141.72M465.27 139.39L464.04 138.51M468.1 135.65L466.89 134.74M471.02 131.99L469.83 131.05M474.04 128.41L472.88 127.43M477.15 124.9L475.18 123.16M480.35 121.47L479.24 120.44M483.64 118.12L482.56 117.06M487.01 114.86L485.96 113.77M490.47 111.68L489.45 110.57M494.02 108.6L492.29 106.63M497.64 105.6L496.67 104.44M501.34 102.7L500.4 101.51M505.11 99.89L504.21 98.68M508.96 97.18L508.09 95.95M512.88 94.56L511.42 92.39M516.86 92.05L516.05 90.78M520.91 89.64L520.13 88.34M525.02 87.33L524.28 86.02M529.18 85.13L528.48 83.8M533.41 83.03L532.25 80.69M537.69 81.04L537.05 79.68M542.01 79.16L541.42 77.78M546.39 77.39L545.83 76M550.81 75.73L550.29 74.32M555.28 74.19L554.43 71.72M559.78 72.76L559.33 71.32M564.32 71.44L563.9 69.99M568.89 70.24L568.51 68.78M573.49 69.15L573.15 67.69M578.12 68.18L577.6 65.63M582.77 67.33L582.51 65.85M587.44 66.6L587.22 65.12M592.13 65.99L591.95 64.5M596.83 65.49L596.69 64M601.55 65.12L601.37 62.52M606.28 64.86L606.21 63.36M611 64.72L610.98 63.22M615.74 64.71L615.75 63.21M620.47 64.81L620.52 63.31M625.19 65.04L625.35 62.44M629.91 65.38L630.04 63.89M634.62 65.84L634.79 64.35M639.31 66.42L639.52 64.94M643.99 67.13L644.24 65.65M648.65 67.95L649.15 65.39M653.28 68.88L653.61 67.42M657.89 69.94L658.25 68.48M662.47 71.11L662.87 69.66M667.02 72.39L667.46 70.96M671.53 73.8L672.36 71.33M676 75.31L676.52 73.9M680.44 76.94L680.99 75.54M684.82 78.68L685.41 77.29M689.17 80.53L689.79 79.16M693.46 82.49L694.6 80.15M697.7 84.56L698.39 83.22M701.88 86.73L702.61 85.42M706.01 89.01L706.77 87.71M710.07 91.4L710.87 90.12M714.07 93.88L715.51 91.7M718 96.47L718.87 95.23M721.87 99.16L722.76 97.94M725.66 101.94L726.59 100.75M729.38 104.82L730.34 103.65M733.03 107.79L734.74 105.81M736.59 110.85L737.61 109.74M740.07 114L741.12 112.91M743.47 117.24L744.55 116.18M746.78 120.57L747.89 119.53M750.01 123.98L751.97 122.23M753.14 127.46L754.3 126.48M756.19 131.03L757.37 130.08M759.13 134.67L760.34 133.75M761.99 138.39L763.21 137.5M764.74 142.18L766.91 140.69M767.39 146.03L768.67 145.21M769.95 149.95L771.24 149.16M772.39 153.94L773.71 153.18M774.74 157.98L776.07 157.26M776.97 162.09L779.32 160.89M779.1 166.24L780.47 165.59M781.12 170.46L782.51 169.83M783.03 174.72L784.43 174.13M784.83 179.03L786.24 178.47M786.51 183.38L788.99 182.48M788.08 187.77L789.52 187.29M789.53 192.2L790.99 191.76M790.87 196.67L792.33 196.27M792.09 201.17L793.56 200.8M793.19 205.7L795.76 205.13M794.17 210.25L795.66 209.96M795.03 214.83L796.53 214.58M795.77 219.43L797.28 219.22M796.4 224.05L797.91 223.87M796.9 228.68L799.53 228.44M797.28 233.32L798.8 233.22M797.53 237.97L799.06 237.91" stroke="#111" stroke-width="1.1" fill="none"/>
<text x="800.7" y="270.84" transform="rotate(-82.15 800.7 270.84)" font-size="4.6" fill="#111" text-anchor="middle" dominant-baseline="middle">2250kb</text>
<text x="795.85" y="294.23" transform="rotate(-74.77 795.85 294.23)" font-size="4.6" fill="#111" text-anchor="middle" dominant-baseline="middle">2500kb</text>
<text x="787.99" y="316.81" transform="rotate(-67.39 787.99 316.81)" font-size="4.6" fill="#111" text-anchor="middle" dominant-baseline="middle">2750kb</text>
<text x="777.24" y="338.21" transform="rotate(-60.01 777.24 338.21)" font-size="4.6" fill="#111" text-anchor="middle" dominant-baseline="middle">3000kb</text>
<text x="763.79" y="358.08" transform="rotate(-52.63 763.79 358.08)" font-size="4.6" fill="#111" text-anchor="middle" dominant-baseline="middle">250kb</text>
<text x="747.86" y="376.08" transform="rotate(-45.26 747.86 376.08)" font-size="4.6" fill="#111" text-anchor="middle" dominant-baseline="middle">500kb</text>
<text x="729.71" y="391.92" transform="rotate(-37.88 729.71 391.92)" font-size="4.6" fill="#111" text-anchor="middle" dominant-baseline="middle">750kb</text>
<text x="709.65" y="405.34" transform="rotate(-30.5 709.65 405.34)" font-size="4.6" fill="#111" text-anchor="middle" dominant-baseline="middle">1000kb</text>
<text x="688" y="416.1" transform="rotate(-23.12 688 416.1)" font-size="4.6" fill="#111" text-anchor="middle" dominant-baseline="middle">1250kb</text>
<text x="665.12" y="424.05" transform="rotate(-15.74 665.12 424.05)" font-size="4.6" fill="#111" text-anchor="middle" dominant-baseline="middle">1500kb</text>
<text x="641.4" y="429.03" transform="rotate(-8.36 641.4 429.03)" font-size="4.6" fill="#111" text-anchor="middle" dominant-baseline="middle">2250kb</text>
<text x="617.23" y="430.97" transform="rotate(-0.98 617.23 430.97)" font-size="4.6" fill="#111" text-anchor="middle" dominant-baseline="middle">2500kb</text>
<text x="593" y="429.84" transform="rotate(6.4 593 429.84)" font-size="4.6" fill="#111" text-anchor="middle" dominant-baseline="middle">2750kb</text>
<text x="569.12" y="425.66" transform="rotate(13.78 569.12 425.66)" font-size="4.6" fill="#111" text-anchor="middle" dominant-baseline="middle">3000kb</text>
<text x="545.98" y="418.5" transform="rotate(21.16 545.98 418.5)" font-size="4.6" fill="#111" text-anchor="middle" dominant-baseline="middle">250kb</text>
<text x="523.97" y="408.47" transform="rotate(28.54 523.97 408.47)" font-size="4.6" fill="#111" text-anchor="middle" dominant-baseline="middle">500kb</text>
<text x="503.45" y="395.74" transform="rotate(35.91 503.45 395.74)" font-size="4.6" fill="#111" text-anchor="middle" dominant-baseline="middle">750kb</text>
<text x="484.76" y="380.52" transform="rotate(43.29 484.76 380.52)" font-size="4.6" fill="#111" text-anchor="middle" dominant-baseline="middle">1000kb</text>
<text x="468.21" y="363.06" transform="rotate(50.67 468.21 363.06)" font-size="4.6" fill="#111" text-anchor="middle" dominant-baseline="middle">1250kb</text>
<text x="454.08" y="343.66" transform="rotate(58.05 454.08 343.66)" font-size="4.6" fill="#111" text-anchor="middle" dominant-baseline="middle">1500kb</text>
<text x="442.6" y="322.63" transform="rotate(65.43 442.6 322.63)" font-size="4.6" fill="#111" text-anchor="middle" dominant-baseline="middle">2250kb</text>
<text x="433.95" y="300.33" transform="rotate(72.81 433.95 300.33)" font-size="4.6" fill="#111" text-anchor="middle" dominant-baseline="middle">2500kb</text>
<text x="436.57" y="182.96" transform="rotate(289.7 436.57 182.96)" font-size="4.6" fill="#111" text-anchor="middle" dominant-baseline="middle">750kb</text>
<text x="446.2" y="161.05" transform="rotate(297.08 446.2 161.05)" font-size="4.6" fill="#111" text-anchor="middle" dominant-baseline="middle">1000kb</text>
<text x="458.61" y="140.53" transform="rotate(304.46 458.61 140.53)" font-size="4.6" fill="#111" text-anchor="middle" dominant-baseline="middle">1250kb</text>
<text x="473.59" y="121.76" transform="rotate(311.84 473.59 121.76)" font-size="4.6" fill="#111" text-anchor="middle" dominant-baseline="middle">1500kb</text>
<text x="490.9" y="105.04" transform="rotate(319.22 490.9 105.04)" font-size="4.6" fill="#111" text-anchor="middle" dominant-baseline="middle">2250kb</text>
<text x="510.25" y="90.64" transform="rotate(326.6 510.25 90.64)" font-size="4.6" fill="#111" text-anchor="middle" dominant-baseline="middle">2500kb</text>
<text x="531.32" y="78.8" transform="rotate(333.98 531.32 78.8)" font-size="4.6" fill="#111" text-anchor="middle" dominant-baseline="middle">2750kb</text>
<text x="553.75" y="69.73" transform="rotate(341.36 553.75 69.73)" font-size="4.6" fill="#111" text-anchor="middle" dominant-baseline="middle">3000kb</text>
<text x="577.19" y="63.57" transform="rotate(348.74 577.19 63.57)" font-size="4.6" fill="#111" text-anchor="middle" dominant-baseline="middle">250kb</text>
<text x="601.23" y="60.43" transform="rotate(356.11 601.23 60.43)" font-size="4.6" fill="#111" text-anchor="middle" dominant-baseline="middle">500kb</text>
<text x="625.49" y="60.34" transform="rotate(363.49 625.49 60.34)" font-size="4.6" fill="#111" text-anchor="middle" dominant-baseline="middle">750kb</text>
<text x="649.55" y="63.33" transform="rotate(370.87 649.55 63.33)" font-size="4.6" fill="#111" text-anchor="middle" dominant-baseline="middle">1000kb</text>
<text x="673.03" y="69.33" transform="rotate(378.25 673.03 69.33)" font-size="4.6" fill="#111" text-anchor="middle" dominant-baseline="middle">1250kb</text>
<text x="695.53" y="78.25" transform="rotate(385.63 695.53 78.25)" font-size="4.6" fill="#111" text-anchor="middle" dominant-baseline="middle">1500kb</text>
<text x="716.67" y="89.94" transform="rotate(393.01 716.67 89.94)" font-size="4.6" fill="#111" text-anchor="middle" dominant-baseline="middle">2250kb</text>
<text x="736.12" y="104.21" transform="rotate(400.39 736.12 104.21)" font-size="4.6" fill="#111" text-anchor="middle" dominant-baseline="middle">2500kb</text>
<text x="753.55" y="120.82" transform="rotate(407.77 753.55 120.82)" font-size="4.6" fill="#111" text-anchor="middle" dominant-baseline="middle">2750kb</text>
<text x="768.66" y="139.49" transform="rotate(415.15 768.66 139.49)" font-size="4.6" fill="#111" text-anchor="middle" dominant-baseline="middle">3000kb</text>
<text x="781.21" y="159.92" transform="rotate(422.53 781.21 159.92)" font-size="4.6" fill="#111" text-anchor="middle" dominant-baseline="middle">250kb</text>
<text x="790.99" y="181.77" transform="rotate(429.91 790.99 181.77)" font-size="4.6" fill="#111" text-anchor="middle" dominant-baseline="middle">500kb</text>
<text x="797.85" y="204.67" transform="rotate(437.28 797.85 204.67)" font-size="4.6" fill="#111" text-anchor="middle" dominant-baseline="middle">750kb</text>
<text x="801.65" y="228.25" transform="rotate(444.66 801.65 228.25)" font-size="4.6" fill="#111" text-anchor="middle" dominant-baseline="middle">1000kb</text>
<path d="M771.3 245.5 L771.73 246.31 L768.57 247.09 L771.9 247.94 L768.8 248.69 L772.32 249.58 L772.35 250.4 L772.29 251.21 L772.52 252.04 L773.32 252.89 L772.14 253.66 L771.6 254.44 L772.42 255.31 L769.35 255.92 L772.33 256.94 L772.49 257.78 L771.89 258.55 L772.92 259.46 L772.8 260.27 L773.25 261.14 L772.81 261.93 L772.88 262.76 L771.33 263.42 L772.32 264.36 L770.52 264.96 L772.38 266.02 L771.49 266.73 L769.97 267.35 L767.04 267.74 L767.44 268.61 L768.81 269.63 L769.02 270.49 L768.85 271.28 L770.51 272.38 L766.58 272.52 L768.97 273.77 L769.76 274.75 L769.25 275.48 L770.29 276.52 L770.36 277.37 L767.92 277.7 L768.52 278.66 L768.31 279.45 L767.85 280.18 L768.51 281.17 L767.2 281.7 L767.03 282.5 L768.8 283.77 L768.87 284.64 L763.56 284.12 L767.49 285.98 L766.3 286.51 L765.97 287.26 L766.1 288.15 L764.19 288.45 L766.21 289.88 L766.63 290.86 L763.82 290.86 L764.71 291.99 L763.4 292.43 L765.59 293.98 L765.02 294.66 L763.22 294.93 L761.2 295.1 L761.22 295.96 L762.78 297.36 L762.91 298.27 L762.49 298.98 L760.64 299.18 L760.49 299.98 L761.17 301.1 L760.37 301.67 L759.08 302.04 L760.31 303.39 L760.29 304.26 L759.04 304.63 L758.18 305.15 L758.15 306.02 L759.42 307.44 L757.15 307.35 L756.61 308 L758.18 309.57 L758.03 310.41 L753.54 309.25 L755.27 310.93 L755.24 311.81 L755.44 312.8 L753.89 312.95 L755.59 314.68 L755.34 315.47 L753.42 315.42 L751.01 315.1 L752.57 316.8 L752.89 317.88 L749.37 316.94 L750.03 318.2 L751.27 319.78 L751.56 320.86 L751.98 322.02 L747.85 320.64 L750.78 323.23 L750.17 323.82 L751.01 325.25 L750.95 326.17 L748.65 325.76 L749.04 326.95 L749.8 328.37 L747.86 328.15 L747.12 328.65 L748.21 330.31 L747.68 330.95 L747.02 331.5 L745.51 331.5 L746.22 332.95 L745.8 333.66 L743.12 332.84 L743.92 334.37 L744.03 335.44 L743.65 336.18 L743.96 337.42 L742.02 337.05 L740.75 337.14 L742.64 339.53 L741.73 339.89 L741.9 341.05 L740.14 340.77 L739.22 341.1 L739.6 342.43 L739.19 343.16 L735.83 341.57 L736.54 343.17 L737.79 345.23 L735.54 344.46 L735.71 345.66 L735.47 346.53 L732.32 344.97 L733.7 347.2 L732.67 347.39 L733.69 349.36 L732.68 349.57 L730.94 349.14 L730.79 350.1 L727.69 348.4 L729.2 350.86 L729.55 352.3 L728.17 352.14 L727.1 352.25 L726.74 353.03 L725.94 353.4 L725.6 354.2 L723.7 353.48 L724 354.91 L723.59 355.65 L722.6 355.8 L722.01 356.36 L721.14 356.63 L721.41 358.08 L720.07 357.85 L720.45 359.44 L720.31 360.5 L719.1 360.39 L717.77 360.13 L718.47 362.13 L716.41 361.04 L715.9 361.69 L715.38 362.33 L714.63 362.7 L714.39 363.67 L714.27 364.79 L713.37 364.99 L712.25 364.92 L712.68 366.73 L712.3 367.57 L710.41 366.52 L709.76 367.01 L709.34 367.79 L709.86 369.81 L708.11 368.87 L708 370.08 L707.65 370.98 L706.7 371.08 L707.15 373.09 L706.5 373.61 L703.87 371.35 L702.67 371.07 L703.37 373.49 L703.22 374.72 L701.94 374.31 L701.16 374.62 L701.37 376.41 L699.82 375.57 L699.49 376.56 L699.62 378.3 L697.54 376.58 L697.04 377.32 L696.59 378.16 L696.08 378.89 L695.96 380.29 L694.29 379.13 L694.18 380.55 L692.48 379.29 L692.63 381.19 L691.34 380.6 L689.7 379.37 L690.39 382.26 L689.73 382.79 L688.96 383.1 L687.75 382.59 L686.96 382.86 L686.16 383.1 L686.16 384.89 L684.95 384.35 L683.77 383.84 L683 384.13 L681.42 382.78 L682.34 386.52 L681.4 386.48 L680.24 385.95 L679.07 385.38 L679.03 387.26 L678.29 387.62 L677.14 387.07 L676.47 387.59 L676.43 389.56 L674.95 388.21 L674.11 388.33 L672.76 387.22 L672.69 389.2 L671.59 388.66 L671.62 390.95 L670.51 390.38 L669.11 389.05 L668.43 389.54 L668.05 390.87 L667.34 391.33 L666.22 390.64 L665.18 390.17 L664.73 391.34 L663.69 390.82 L663.24 392.04 L662.08 391.14 L661.85 393.07 L660.98 393.07 L659.89 392.33 L658.62 390.95 L658.32 392.78 L657.89 394.19 L656.76 393.26 L655.92 393.26 L655.56 395.01 L655 396.12 L653.25 392.76 L652.77 394.1 L652.07 394.66 L650.91 393.4 L650.67 395.85 L649.63 395.02 L649.06 396.15 L648.36 396.82 L647.51 396.78 L646.63 396.6 L645.72 396.28 L644.59 394.83 L644.45 398.27 L643.01 395.16 L642.38 396.22 L641.37 395.21 L640.86 396.98 L640.06 397.15 L639.19 396.9 L638.47 397.58 L637.4 396.04 L637.08 399.33 L636.23 399.27 L635.34 398.81 L634.63 399.73 L633.87 400.32 L632.85 398.78 L632.09 399.35 L631.37 400.35 L630.52 400.21 L629.63 399.67 L628.81 399.7 L628.03 400.2 L627.17 399.82 L626.32 399.54 L625.39 398.1 L624.78 401.19 L623.98 401.6 L623.17 401.97 L622.32 401.72 L621.43 400.56 L620.65 401.66 L619.79 400.81 L619 402.22 L618.13 400.88 L617.27 399.37 L616.5 401.93 L615.67 402.7 L614.83 401.18 L614 397.89 L613.19 397.93 L612.35 400.38 L611.5 402.24 L610.66 402.28 L609.81 403.06 L609.04 400.83 L608.13 402.93 L607.33 402.05 L606.54 401.17 L605.61 403.08 L604.78 402.83 L604.02 401.68 L603.26 400.55 L602.32 402.01 L601.46 402.27 L600.57 402.89 L599.84 401.68 L599.09 400.77 L598.16 401.72 L597.36 401.31 L596.37 402.66 L595.6 402.05 L594.83 401.43 L594.04 401 L593.35 399.89 L592.2 402.17 L591.31 402.44 L590.56 401.76 L589.79 401.23 L589.05 400.57 L588.44 399.14 L587.35 400.6 L586.7 399.47 L585.7 400.31 L584.84 400.33 L583.94 400.61 L583.57 398.16 L582.97 396.96 L581.59 399.54 L580.71 399.64 L579.87 399.57 L579.41 397.8 L578.63 397.49 L578.01 396.53 L577.03 397.08 L576.15 397.18 L575.03 398.21 L574.47 397.04 L574.01 395.55 L573.07 395.84 L572.25 395.7 L571.53 395.21 L570.8 394.76 L569.76 395.39 L568.91 395.32 L567.96 395.58 L566.92 396.11 L566.1 395.95 L565.49 395.12 L564.85 394.39 L564.36 393.25 L563.75 392.45 L562.63 393.17 L561.92 392.71 L560.9 393.08 L560.29 392.34 L559.69 391.57 L558.75 391.73 L558.09 391.12 L557.96 389.18 L556.68 390.21 L555.89 389.96 L554.55 391.06 L553.48 391.46 L553.42 389.44 L552.62 389.21 L551.79 389.05 L550.6 389.71 L550.67 387.5 L549.99 387.02 L549.26 386.62 L547.91 387.58 L547.21 387.12 L546.54 386.6 L544.99 387.91 L545.16 385.66 L545.24 383.65 L543.29 385.7 L542.34 385.74 L541.43 385.68 L541.12 384.48 L539.83 385.14 L539.97 383.12 L539.49 382.27 L538.35 382.63 L537.62 382.25 L536.54 382.48 L535.31 382.94 L535.43 381.09 L533.96 381.95 L533.08 381.79 L532.97 380.36 L532.1 380.18 L531.61 379.39 L531.34 378.27 L530.55 377.97 L528.77 379.22 L528.05 378.81 L530.12 374.1 L527.52 376.58 L527.48 375.14 L525.69 376.32 L525.71 374.82 L523.95 375.92 L523.57 375.01 L522.99 374.38 L523.12 372.77 L523.77 370.46 L520.83 373.12 L520.02 372.82 L519.26 372.45 L519.55 370.67 L519.18 369.8 L517.39 370.78 L516.38 370.71 L516.02 369.83 L515.98 368.54 L514.72 368.78 L514.93 367.22 L513.31 367.88 L512.71 367.3 L513.82 364.69 L511.34 366.35 L511.72 364.63 L509.81 365.57 L509.49 364.67 L509.99 362.85 L509.07 362.64 L508.17 362.41 L508.05 361.31 L505.92 362.41 L505.58 361.55 L506.31 359.56 L505.54 359.18 L504.06 359.52 L503.54 358.88 L502.6 358.65 L502.29 357.78 L500.78 358.11 L501.99 355.74 L503.35 353.27 L499.87 355.5 L498.48 355.68 L499.94 353.16 L497.9 353.94 L499 351.79 L498.57 351.07 L499.51 349.12 L496.56 350.68 L495.67 350.37 L494.62 350.19 L493.63 349.95 L494.61 348.01 L493.25 348.08 L491.91 348.13 L492.84 346.28 L491.95 345.94 L492.06 344.79 L490.55 344.95 L490.06 344.28 L490.78 342.67 L489.41 342.69 L489.12 341.88 L489.03 340.91 L487.95 340.7 L486.52 340.74 L486.05 340.06 L488.03 337.58 L486.32 337.81 L485.44 337.43 L485.27 336.55 L484.42 336.14 L485.1 334.66 L482.44 335.49 L482.6 334.39 L483.07 333.08 L481.89 332.88 L481.47 332.16 L483.42 329.92 L483.4 328.98 L479.59 330.43 L479.83 329.3 L479.48 328.56 L480.41 327.03 L478.52 327.21 L478.99 325.98 L478.46 325.34 L476.86 325.33 L478.12 323.65 L476.59 323.59 L475.65 323.17 L475.76 322.17 L477.06 320.52 L476.12 320.11 L474.95 319.81 L477.61 317.48 L473.95 318.48 L474.96 317.04 L475.29 315.97 L472.51 316.46 L471.81 315.89 L471.87 314.94 L470.73 314.58 L471.29 313.4 L471.41 312.44 L471.64 311.43 L470.74 310.95 L471.05 309.92 L469.27 309.82 L469.51 308.82 L469.34 308 L469.15 307.2 L468.52 306.58 L468.35 305.76 L468.1 304.98 L468.38 303.99 L466.92 303.7 L468.26 302.29 L467.5 301.72 L465.57 301.58 L468.79 299.51 L464.9 300.08 L465.63 298.94 L463.72 298.75 L464.44 297.63 L463.2 297.19 L464.21 295.98 L463.83 295.24 L463.58 294.46 L463.7 293.57 L463.38 292.81 L463.91 291.8 L463.75 291 L462.61 290.49 L465.12 288.91 L462.72 288.76 L461.58 288.24 L461.88 287.3 L463.25 286.09 L461.8 285.64 L462.51 284.62 L464.68 283.24 L461.57 283.19 L463.2 281.96 L459.86 281.92 L461.94 280.6 L460.56 280.09 L458.88 279.63 L458.87 278.79 L458.83 277.96 L460.41 276.81 L462.87 275.49 L459.79 275.28 L458.76 274.65 L459.84 273.62 L459.09 272.93 L457.68 272.35 L457.96 271.48 L458.96 270.49 L458.86 269.68 L458.33 268.95 L458.16 268.15 L458.03 267.35 L457 266.67 L457.64 265.76 L457.24 264.99 L456.75 264.23 L455.81 263.52 L456.84 262.58 L457.67 261.67 L457.41 260.88 L456.63 260.14 L457.16 259.28 L456.65 258.5 L456.87 257.67 L455.86 256.93 L456.78 256.05 L455.79 255.3 L455.61 254.49 L455.36 253.68 L456.58 252.81 L455.14 252.05 L456.1 251.2 L456.43 250.37 L454.24 249.62 L454.08 248.8 L455.75 247.95 L456.98 247.12 L457.21 246.31 L456.49 245.5 L454.53 244.68 L454.66 243.86 L454.48 243.03 L456.1 242.24 L454.8 241.4 L454.49 240.57 L455.35 239.77 L455.78 238.97 L455.88 238.16 L456.24 237.36 L455.93 236.53 L456.67 235.76 L454.75 234.81 L455.74 234.06 L455.82 233.25 L454.59 232.32 L455.05 231.54 L457.8 230.97 L455.64 229.94 L456.01 229.16 L457.43 228.49 L455.57 227.46 L456.2 226.7 L456.97 225.98 L456 225.03 L455.71 224.16 L457.4 223.56 L457.85 222.8 L457.63 221.95 L457.41 221.09 L457.62 220.29 L457.33 219.42 L459.33 218.93 L458.71 218 L458.32 217.1 L459.75 216.54 L462.09 216.17 L459.28 214.79 L459.47 214 L459.53 213.18 L463.88 213.28 L461.96 212.05 L461.57 211.14 L464.3 210.94 L462.64 209.73 L463.27 209.06 L461.76 207.86 L462.66 207.25 L462.42 206.36 L461.65 205.32 L463.3 204.92 L463 204 L462.96 203.15 L464.46 202.74 L463.94 201.75 L462.17 200.38 L463.89 200.05 L463.03 198.93 L465.08 198.72 L464.17 197.58 L464.93 196.98 L463.75 195.73 L464 194.95 L468.17 195.52 L465.78 193.84 L465.71 192.95 L466 192.19 L466.64 191.56 L465.64 190.32 L466.12 189.63 L469.94 190.22 L467.26 188.31 L467.76 187.64 L468.7 187.14 L468.32 186.11 L469.95 185.9 L469.29 184.75 L470.2 184.25 L472.04 184.17 L472.81 183.63 L472.12 182.45 L474.34 182.56 L472.6 180.9 L473.09 180.24 L472.46 179.05 L474.09 178.93 L474.43 178.2 L473.13 176.67 L474.39 176.39 L474.63 175.61 L475.4 175.09 L476.09 174.54 L476.43 173.81 L475.96 172.65 L476.18 171.85 L475.01 170.29 L475.44 169.59 L476.75 169.38 L476.97 168.57 L478.44 168.47 L478.56 167.6 L480.43 167.75 L479.51 166.28 L479 165.03 L478.69 163.89 L480.19 163.84 L480.24 162.91 L481.09 162.48 L480.39 161.07 L481.58 160.86 L481.44 159.79 L481.4 158.79 L481.94 158.16 L483.16 157.98 L482.64 156.64 L484.45 156.88 L484.98 156.25 L484.78 155.11 L485.76 154.8 L488.18 155.53 L487.12 153.77 L487.87 153.3 L489.92 153.81 L488.27 151.56 L489.7 151.62 L489.77 150.65 L492.55 151.77 L489.62 148.47 L490.12 147.82 L491.79 148.09 L491.52 146.83 L492.04 146.2 L492.17 145.24 L493.88 145.59 L493.19 143.94 L493.65 143.25 L494.68 143.05 L495.76 142.9 L495.52 141.6 L495.97 140.9 L497.35 141.02 L497.05 139.66 L498.35 139.73 L500.09 140.22 L501.09 140.04 L499.95 137.86 L500.54 137.28 L502.01 137.56 L502.06 136.47 L502.37 135.63 L504.62 136.71 L504.01 134.95 L503.41 133.18 L504.8 133.42 L507.51 135.05 L506.47 132.79 L507.42 132.62 L507.39 131.39 L507.15 129.92 L508.95 130.66 L509.16 129.68 L508.79 128.04 L510.25 128.44 L510.65 127.65 L510.67 126.42 L512.93 127.79 L512.25 125.72 L512.8 125.09 L513.49 124.64 L515.11 125.3 L517.19 126.56 L515.25 122.87 L516.58 123.21 L516.81 122.18 L516.72 120.72 L518.42 121.57 L518.96 120.92 L519.19 119.85 L520.77 120.58 L520.28 118.54 L521.58 118.91 L522.94 119.38 L523.68 119.02 L523.84 117.82 L524.67 117.57 L525 116.6 L527.29 118.5 L526.54 115.93 L527.23 115.49 L527.68 114.68 L528.48 114.39 L529.38 114.25 L530.78 114.93 L531.62 114.72 L532.13 114 L532.87 113.64 L533.48 113.09 L533.53 111.58 L535.1 112.6 L536.37 113.15 L537.45 113.4 L536.58 110.26 L537.64 110.47 L538.54 110.4 L538.6 108.81 L540.08 109.81 L540.63 109.11 L541.36 108.73 L541.69 107.62 L541.88 106.19 L542.87 106.29 L544.15 107 L544.46 105.78 L544.87 104.74 L545.61 104.38 L547.14 105.66 L547.07 103.58 L548.22 104.1 L548.96 103.71 L549.24 102.34 L550.65 103.46 L550.78 101.71 L552.23 102.97 L552.67 101.89 L553.03 100.63 L554.22 101.33 L555.05 101.17 L555.61 100.34 L555.75 98.44 L557.84 101.5 L557.72 98.91 L558.69 99.11 L559.61 99.21 L560.12 98.2 L561.07 98.39 L561.3 96.55 L562.89 98.57 L563.08 96.59 L563.83 96.18 L565.68 99.11 L565.65 96.38 L567.04 98 L567.96 98.2 L568.58 97.42 L569.27 96.86 L570.18 97.03 L570.74 96.02 L571.24 94.76 L572.28 95.4 L572.69 93.75 L573.74 94.47 L575.29 97.09 L575.17 93.33 L576.33 94.55 L577.14 94.4 L577.67 93.04 L578.33 92.21 L580.11 96.28 L580.26 93.2 L581.12 93.23 L582.19 94.29 L583.05 94.44 L583.31 91.53 L584.19 91.67 L585.13 92.2 L585.77 91.06 L586.79 92.02 L587.45 90.98 L588.29 90.99 L589.4 92.63 L590.13 91.95 L590.79 90.78 L591.67 91.05 L592.61 91.81 L593.42 91.67 L594.12 90.63 L595.15 92.19 L596.24 94.42 L596.91 93.12 L597.6 91.91 L598.39 91.57 L599.22 91.65 L600 91.08 L600.88 91.75 L601.7 91.63 L602.52 91.64 L603.23 90.08 L604.05 89.83 L604.86 89.5 L605.83 92.1 L606.6 90.97 L607.5 92.97 L608.17 89.09 L609.01 89.07 L609.87 90.23 L610.69 90.04 L611.52 90.4 L612.35 90.44 L613.18 91.7 L614 90.04 L614.83 89.6 L615.67 88.78 L616.49 89.37 L617.34 88.56 L618.05 93.25 L618.99 89.19 L619.78 90.47 L620.57 91.28 L621.49 89.23 L622.27 90.18 L623.07 90.66 L624.02 88.68 L624.74 90.39 L625.61 89.88 L626.49 89.24 L626.92 94.01 L627.94 91.76 L628.93 90.06 L629.77 89.99 L630.69 89.22 L631.35 90.86 L632.27 90.07 L633.13 89.9 L633.77 91.45 L634.21 94.39 L635.57 90.49 L636.53 89.68 L637.34 89.93 L638.14 90.22 L638.89 90.85 L639.91 89.77 L640.41 91.79 L641.45 90.68 L642.31 90.64 L643.18 90.54 L644.06 90.4 L644.7 91.46 L645.54 91.54 L646.27 92.14 L646.81 93.58 L647.74 93.17 L647.9 96.23 L649.62 92.42 L650.04 94.26 L651.07 93.53 L651.88 93.71 L652.43 94.9 L653.01 95.98 L654.55 93.38 L654.72 95.94 L655.43 96.44 L656.56 95.46 L657.42 95.47 L658.05 96.28 L658.98 96.06 L659.52 97.09 L660.41 97 L661.39 96.65 L662.37 96.33 L662.49 98.61 L663.12 99.31 L664.28 98.46 L665.2 98.31 L665.7 99.38 L666.81 98.71 L667.45 99.37 L667.88 100.59 L668.72 100.69 L669.57 100.77 L670.81 99.85 L671.71 99.81 L672.18 100.86 L672.55 102.14 L673.41 102.2 L674.27 102.28 L674.92 102.85 L675.37 103.88 L676.07 104.32 L677.64 102.8 L677.85 104.35 L678.72 104.41 L679.98 103.66 L680.01 105.54 L680.83 105.71 L681.94 105.3 L683.28 104.44 L683.17 106.52 L684.58 105.56 L684.98 106.59 L685.24 107.88 L687.03 106.24 L685.59 110.72 L687.36 109.14 L688.18 109.34 L688.88 109.76 L690.14 109.18 L691.1 109.17 L691.07 110.88 L692.16 110.63 L692.65 111.42 L692.7 112.95 L694.21 112.01 L694.74 112.72 L695.22 113.51 L696.16 113.54 L696.66 114.28 L697.33 114.75 L698.29 114.78 L699.22 114.84 L700.33 114.66 L700.84 115.38 L701.08 116.5 L701.18 117.8 L700.82 119.75 L703.68 117.08 L703.6 118.62 L704.7 118.47 L704.77 119.78 L706.28 119.1 L706.74 119.87 L707.19 120.63 L708.73 119.96 L708.62 121.46 L708.84 122.52 L710.61 121.57 L710.65 122.86 L709.26 125.92 L711 125.05 L712.59 124.37 L712.61 125.65 L713.99 125.26 L714.45 125.99 L715.44 126.09 L715.3 127.51 L716.45 127.43 L717.07 127.98 L717.25 129.01 L717.96 129.43 L717.05 131.66 L719.92 129.72 L719.51 131.37 L721.12 130.84 L721.37 131.78 L720.96 133.39 L719.74 135.83 L723.44 133.17 L723.29 134.5 L725.23 133.71 L725.5 134.6 L725 136.25 L726.83 135.6 L724.77 138.73 L726.1 138.58 L727.81 138.08 L727.96 139.06 L729.23 138.99 L728.85 140.46 L729.79 140.7 L731.15 140.58 L730.87 141.93 L731.16 142.75 L731.86 143.23 L732.01 144.17 L733.97 143.57 L733.53 145.02 L734.95 144.9 L735.74 145.32 L734.92 147.04 L736.38 146.91 L736.2 148.1 L737.59 148.04 L739.26 147.78 L737.12 150.48 L740.27 149.1 L740.04 150.31 L740.37 151.09 L739.76 152.56 L739.97 153.42 L741.83 153.08 L743.14 153.15 L742.23 154.81 L743.57 154.87 L743.49 155.92 L741.82 158.06 L744.61 157.15 L744.69 158.08 L744.26 159.35 L745.97 159.2 L746.9 159.58 L745.69 161.32 L745.11 162.65 L746.61 162.67 L746.63 163.61 L746.66 164.54 L748.94 164.11 L748.33 165.43 L749.05 165.95 L748.14 167.42 L747.06 168.97 L750.22 168.09 L750.77 168.72 L750.98 169.53 L751.05 170.42 L751.98 170.84 L752.35 171.57 L753.09 172.1 L753.97 172.56 L754.93 172.99 L755.05 173.84 L755.43 174.57 L754.82 175.79 L755 176.61 L752.6 178.67 L755.86 178 L756.18 178.75 L757 179.27 L757.49 179.94 L757.06 181.03 L756.44 182.2 L758.27 182.28 L757.89 183.33 L758.56 183.93 L760.21 184.12 L758.52 185.71 L759.97 185.99 L759.74 186.96 L759.21 188.05 L759.84 188.67 L761.65 188.84 L760.64 190.1 L762.59 190.24 L760.9 191.73 L762.96 191.85 L763.33 192.59 L761.86 193.96 L763.94 194.11 L765.17 194.56 L765.2 195.42 L763.51 196.83 L765.11 197.18 L763.79 198.45 L765.21 198.86 L764.64 199.89 L765.96 200.34 L766.84 200.94 L764.73 202.4 L763.19 203.67 L766.93 203.47 L767.5 204.17 L766.5 205.28 L766.38 206.15 L767.79 206.63 L765.46 208.05 L767.94 208.28 L768.4 209.02 L766.11 210.38 L767.48 210.9 L766.58 211.93 L766.94 212.68 L767.02 213.49 L767.22 214.27 L764.91 215.55 L767.2 215.92 L769.54 216.3 L769.87 217.07 L767.45 218.32 L769.68 218.76 L768.55 219.77 L770.75 220.24 L769.17 221.31 L769.51 222.08 L771.17 222.66 L771.61 223.42 L770.93 224.34 L769.66 225.33 L769.47 226.17 L770.88 226.81 L771.28 227.59 L769.74 228.58 L769.28 229.44 L770.54 230.12 L769.33 231.05 L768.21 231.95 L770.12 232.6 L770.66 233.37 L771 234.15 L772.78 234.85 L772.45 235.69 L773.28 236.46 L772.3 237.33 L772.56 238.14 L771.84 238.99 L772.74 239.77 L772.86 240.59" fill="none" stroke="#2b2e8c" stroke-width="0.9" stroke-linejoin="round"/>
<line x1="567.55" y1="119.54" x2="565.47" y2="113.9" stroke="#e33382" stroke-width="2.4" stroke-opacity="1"/>
<line x1="571.55" y1="124.51" x2="569.56" y2="118.84" stroke="#e33382" stroke-width="2.4" stroke-opacity="1"/>
<line x1="633.07" y1="112.82" x2="633.92" y2="106.88" stroke="#e33382" stroke-width="2.4" stroke-opacity="1"/>
<line x1="634.23" y1="119.06" x2="635.18" y2="113.13" stroke="#e33382" stroke-width="2.4" stroke-opacity="1"/>
<line x1="657.31" y1="372.54" x2="659.25" y2="378.23" stroke="#e33382" stroke-width="2.4" stroke-opacity="1"/>
<line x1="653.43" y1="367.47" x2="655.28" y2="373.19" stroke="#e33382" stroke-width="2.4" stroke-opacity="1"/>
<line x1="505.28" y1="231.98" x2="493.96" y2="230.57" stroke="#3a9478" stroke-width="0.55" stroke-opacity="0.42"/>
<line x1="530.86" y1="235.16" x2="517.75" y2="233.53" stroke="#7d6cb0" stroke-width="0.55" stroke-opacity="0.42"/>
<line x1="551.76" y1="237.76" x2="538.48" y2="236.11" stroke="#e39a5f" stroke-width="0.55" stroke-opacity="0.42"/>
<line x1="510.15" y1="217.15" x2="496.91" y2="213.54" stroke="#3a9478" stroke-width="0.55" stroke-opacity="0.42"/>
<line x1="532.28" y1="223.19" x2="520.23" y2="219.91" stroke="#7d6cb0" stroke-width="0.55" stroke-opacity="0.42"/>
<line x1="553.4" y1="228.96" x2="540.71" y2="225.5" stroke="#e39a5f" stroke-width="0.55" stroke-opacity="0.42"/>
<line x1="517.53" y1="200.2" x2="507.6" y2="195.28" stroke="#3a9478" stroke-width="0.55" stroke-opacity="0.42"/>
<line x1="517.94" y1="197.95" x2="506.45" y2="192.26" stroke="#3a9478" stroke-width="0.55" stroke-opacity="0.42"/>
<line x1="517" y1="195.03" x2="506.63" y2="189.9" stroke="#3a9478" stroke-width="0.55" stroke-opacity="0.42"/>
<line x1="539.23" y1="210.94" x2="527.14" y2="204.96" stroke="#7d6cb0" stroke-width="0.55" stroke-opacity="0.42"/>
<line x1="538.41" y1="208.08" x2="527.13" y2="202.5" stroke="#7d6cb0" stroke-width="0.55" stroke-opacity="0.42"/>
<line x1="537.16" y1="205.01" x2="526.3" y2="199.63" stroke="#7d6cb0" stroke-width="0.55" stroke-opacity="0.42"/>
<line x1="554.8" y1="218.65" x2="544.33" y2="213.47" stroke="#e39a5f" stroke-width="0.55" stroke-opacity="0.42"/>
<line x1="556.83" y1="217.2" x2="544.8" y2="211.24" stroke="#e39a5f" stroke-width="0.55" stroke-opacity="0.42"/>
<line x1="556.99" y1="214.82" x2="546.31" y2="209.54" stroke="#e39a5f" stroke-width="0.55" stroke-opacity="0.42"/>
<line x1="523.29" y1="188.82" x2="513.26" y2="182.42" stroke="#3a9478" stroke-width="0.55" stroke-opacity="0.42"/>
<line x1="523.31" y1="186.23" x2="513.43" y2="179.91" stroke="#3a9478" stroke-width="0.55" stroke-opacity="0.42"/>
<line x1="542.65" y1="201.2" x2="532.72" y2="194.85" stroke="#7d6cb0" stroke-width="0.55" stroke-opacity="0.42"/>
<line x1="544.36" y1="199.68" x2="533.72" y2="192.88" stroke="#7d6cb0" stroke-width="0.55" stroke-opacity="0.42"/>
<line x1="559.59" y1="212.03" x2="548.21" y2="204.76" stroke="#e39a5f" stroke-width="0.55" stroke-opacity="0.42"/>
<line x1="561.49" y1="210.63" x2="550.39" y2="203.54" stroke="#e39a5f" stroke-width="0.55" stroke-opacity="0.42"/>
<line x1="529.66" y1="175.54" x2="521.2" y2="168.38" stroke="#3a9478" stroke-width="0.55" stroke-opacity="0.42"/>
<line x1="532.88" y1="175.38" x2="524.01" y2="167.88" stroke="#3a9478" stroke-width="0.55" stroke-opacity="0.42"/>
<line x1="547.66" y1="190.78" x2="538.97" y2="183.42" stroke="#7d6cb0" stroke-width="0.55" stroke-opacity="0.42"/>
<line x1="550.46" y1="190.26" x2="540.3" y2="181.67" stroke="#7d6cb0" stroke-width="0.55" stroke-opacity="0.42"/>
<line x1="566.23" y1="206.5" x2="555.78" y2="197.65" stroke="#e39a5f" stroke-width="0.55" stroke-opacity="0.42"/>
<line x1="565.69" y1="203.16" x2="557.12" y2="195.91" stroke="#e39a5f" stroke-width="0.55" stroke-opacity="0.42"/>
<line x1="542.37" y1="166.93" x2="534.16" y2="157.92" stroke="#3a9478" stroke-width="0.55" stroke-opacity="0.42"/>
<line x1="558.39" y1="184.5" x2="550.5" y2="175.84" stroke="#7d6cb0" stroke-width="0.55" stroke-opacity="0.42"/>
<line x1="571.31" y1="198.67" x2="563.33" y2="189.92" stroke="#e39a5f" stroke-width="0.55" stroke-opacity="0.42"/>
<line x1="554.52" y1="153.14" x2="548.68" y2="143.88" stroke="#3a9478" stroke-width="0.55" stroke-opacity="0.42"/>
<line x1="558.21" y1="154.88" x2="551.83" y2="144.74" stroke="#3a9478" stroke-width="0.55" stroke-opacity="0.42"/>
<line x1="569.04" y1="176.19" x2="562.24" y2="165.39" stroke="#7d6cb0" stroke-width="0.55" stroke-opacity="0.42"/>
<line x1="569.83" y1="173.32" x2="563.33" y2="163" stroke="#7d6cb0" stroke-width="0.55" stroke-opacity="0.42"/>
<line x1="580.41" y1="194.24" x2="574.26" y2="184.47" stroke="#e39a5f" stroke-width="0.55" stroke-opacity="0.42"/>
<line x1="581.79" y1="192.31" x2="576.2" y2="183.42" stroke="#e39a5f" stroke-width="0.55" stroke-opacity="0.42"/>
<line x1="569.15" y1="145.11" x2="564.51" y2="134.13" stroke="#3a9478" stroke-width="0.55" stroke-opacity="0.42"/>
<line x1="572.44" y1="147.22" x2="567.52" y2="135.6" stroke="#3a9478" stroke-width="0.55" stroke-opacity="0.42"/>
<line x1="573.56" y1="144.22" x2="568.91" y2="133.22" stroke="#3a9478" stroke-width="0.55" stroke-opacity="0.42"/>
<line x1="578.8" y1="167.91" x2="574.78" y2="158.41" stroke="#7d6cb0" stroke-width="0.55" stroke-opacity="0.42"/>
<line x1="581.59" y1="168.86" x2="576.56" y2="156.97" stroke="#7d6cb0" stroke-width="0.55" stroke-opacity="0.42"/>
<line x1="582.98" y1="166.51" x2="578.28" y2="155.38" stroke="#7d6cb0" stroke-width="0.55" stroke-opacity="0.42"/>
<line x1="587.73" y1="189.03" x2="583.04" y2="177.94" stroke="#e39a5f" stroke-width="0.55" stroke-opacity="0.42"/>
<line x1="589.94" y1="188.6" x2="585.13" y2="177.24" stroke="#e39a5f" stroke-width="0.55" stroke-opacity="0.42"/>
<line x1="591.61" y1="186.91" x2="587.04" y2="176.11" stroke="#e39a5f" stroke-width="0.55" stroke-opacity="0.42"/>
<line x1="577.25" y1="143.78" x2="572.8" y2="131.06" stroke="#3a9478" stroke-width="0.55" stroke-opacity="0.42"/>
<line x1="580.47" y1="146.34" x2="576.15" y2="133.98" stroke="#3a9478" stroke-width="0.55" stroke-opacity="0.42"/>
<line x1="584.65" y1="164.92" x2="580.72" y2="153.71" stroke="#7d6cb0" stroke-width="0.55" stroke-opacity="0.42"/>
<line x1="587.86" y1="167.45" x2="583.93" y2="156.21" stroke="#7d6cb0" stroke-width="0.55" stroke-opacity="0.42"/>
<line x1="592.93" y1="188.61" x2="588.98" y2="177.31" stroke="#e39a5f" stroke-width="0.55" stroke-opacity="0.42"/>
<line x1="594.54" y1="186.55" x2="590.92" y2="176.19" stroke="#e39a5f" stroke-width="0.55" stroke-opacity="0.42"/>
<line x1="616.23" y1="140.83" x2="616.52" y2="127.15" stroke="#3a9478" stroke-width="0.55" stroke-opacity="0.6"/>
<line x1="615.77" y1="162.19" x2="616" y2="151.4" stroke="#7d6cb0" stroke-width="0.55" stroke-opacity="0.6"/>
<line x1="615.37" y1="180.91" x2="615.63" y2="168.89" stroke="#e39a5f" stroke-width="0.55" stroke-opacity="0.6"/>
<line x1="628.15" y1="137.68" x2="629.88" y2="126.27" stroke="#3a9478" stroke-width="0.55" stroke-opacity="0.6"/>
<line x1="630.4" y1="137.52" x2="632.28" y2="125.09" stroke="#3a9478" stroke-width="0.55" stroke-opacity="0.6"/>
<line x1="631.96" y1="141.86" x2="633.84" y2="129.47" stroke="#3a9478" stroke-width="0.55" stroke-opacity="0.6"/>
<line x1="624.62" y1="160.9" x2="626.46" y2="148.77" stroke="#7d6cb0" stroke-width="0.55" stroke-opacity="0.6"/>
<line x1="626.46" y1="163.43" x2="628.19" y2="152.02" stroke="#7d6cb0" stroke-width="0.55" stroke-opacity="0.6"/>
<line x1="628.76" y1="162.96" x2="630.57" y2="151.04" stroke="#7d6cb0" stroke-width="0.55" stroke-opacity="0.6"/>
<line x1="621.43" y1="181.91" x2="623.09" y2="170.95" stroke="#e39a5f" stroke-width="0.55" stroke-opacity="0.6"/>
<line x1="623.23" y1="184.73" x2="625.15" y2="172.09" stroke="#e39a5f" stroke-width="0.55" stroke-opacity="0.6"/>
<line x1="625.64" y1="183.52" x2="627.35" y2="172.22" stroke="#e39a5f" stroke-width="0.55" stroke-opacity="0.6"/>
<line x1="652.91" y1="147.83" x2="657.57" y2="136.47" stroke="#3a9478" stroke-width="0.55" stroke-opacity="0.6"/>
<line x1="654.8" y1="148.99" x2="659.86" y2="136.67" stroke="#3a9478" stroke-width="0.55" stroke-opacity="0.6"/>
<line x1="645.44" y1="166.02" x2="650.08" y2="154.71" stroke="#7d6cb0" stroke-width="0.55" stroke-opacity="0.6"/>
<line x1="647.76" y1="166.16" x2="652.46" y2="154.7" stroke="#7d6cb0" stroke-width="0.55" stroke-opacity="0.6"/>
<line x1="636.95" y1="186.7" x2="641.34" y2="175.99" stroke="#e39a5f" stroke-width="0.55" stroke-opacity="0.6"/>
<line x1="638.58" y1="188.53" x2="642.71" y2="178.45" stroke="#e39a5f" stroke-width="0.55" stroke-opacity="0.6"/>
<line x1="667.82" y1="152.63" x2="674.1" y2="141.79" stroke="#3a9478" stroke-width="0.55" stroke-opacity="0.6"/>
<line x1="655.9" y1="173.2" x2="661.75" y2="163.1" stroke="#7d6cb0" stroke-width="0.55" stroke-opacity="0.6"/>
<line x1="644.25" y1="193.3" x2="650.47" y2="182.57" stroke="#e39a5f" stroke-width="0.55" stroke-opacity="0.6"/>
<line x1="684.35" y1="162.52" x2="691.97" y2="153.9" stroke="#3a9478" stroke-width="0.55" stroke-opacity="0.6"/>
<line x1="685.39" y1="164.67" x2="693.99" y2="154.93" stroke="#3a9478" stroke-width="0.55" stroke-opacity="0.6"/>
<line x1="687.05" y1="166.11" x2="695.38" y2="156.68" stroke="#3a9478" stroke-width="0.55" stroke-opacity="0.6"/>
<line x1="669.04" y1="179.86" x2="677.23" y2="170.59" stroke="#7d6cb0" stroke-width="0.55" stroke-opacity="0.6"/>
<line x1="669.78" y1="182.34" x2="676.8" y2="174.4" stroke="#7d6cb0" stroke-width="0.55" stroke-opacity="0.6"/>
<line x1="672.48" y1="182.61" x2="681.39" y2="172.52" stroke="#7d6cb0" stroke-width="0.55" stroke-opacity="0.6"/>
<line x1="653.38" y1="197.58" x2="661.54" y2="188.35" stroke="#e39a5f" stroke-width="0.55" stroke-opacity="0.6"/>
<line x1="655.59" y1="198.41" x2="663.88" y2="189.02" stroke="#e39a5f" stroke-width="0.55" stroke-opacity="0.6"/>
<line x1="657.02" y1="200.11" x2="665.65" y2="190.34" stroke="#e39a5f" stroke-width="0.55" stroke-opacity="0.6"/>
<line x1="694.54" y1="171.38" x2="703.13" y2="163.63" stroke="#3a9478" stroke-width="0.55" stroke-opacity="0.6"/>
<line x1="693.28" y1="175.48" x2="703.06" y2="166.66" stroke="#3a9478" stroke-width="0.55" stroke-opacity="0.6"/>
<line x1="674.98" y1="189.02" x2="683.66" y2="181.2" stroke="#7d6cb0" stroke-width="0.55" stroke-opacity="0.6"/>
<line x1="679.02" y1="188.34" x2="687.3" y2="180.87" stroke="#7d6cb0" stroke-width="0.55" stroke-opacity="0.6"/>
<line x1="659.63" y1="202.86" x2="668.92" y2="194.48" stroke="#e39a5f" stroke-width="0.55" stroke-opacity="0.6"/>
<line x1="661.73" y1="203.93" x2="670.09" y2="196.4" stroke="#e39a5f" stroke-width="0.55" stroke-opacity="0.6"/>
<line x1="700.03" y1="183.76" x2="710.85" y2="176.5" stroke="#3a9478" stroke-width="0.55" stroke-opacity="0.6"/>
<line x1="703.62" y1="184.01" x2="713.71" y2="177.23" stroke="#3a9478" stroke-width="0.55" stroke-opacity="0.6"/>
<line x1="706.3" y1="184.85" x2="716.63" y2="177.92" stroke="#3a9478" stroke-width="0.55" stroke-opacity="0.6"/>
<line x1="704.43" y1="188.76" x2="714" y2="182.33" stroke="#3a9478" stroke-width="0.55" stroke-opacity="0.6"/>
<line x1="683.16" y1="195.09" x2="694.01" y2="187.81" stroke="#7d6cb0" stroke-width="0.55" stroke-opacity="0.6"/>
<line x1="684.28" y1="196.99" x2="693.62" y2="190.72" stroke="#7d6cb0" stroke-width="0.55" stroke-opacity="0.6"/>
<line x1="682.96" y1="200.52" x2="692.98" y2="193.79" stroke="#7d6cb0" stroke-width="0.55" stroke-opacity="0.6"/>
<line x1="685.95" y1="201.17" x2="696.24" y2="194.26" stroke="#7d6cb0" stroke-width="0.55" stroke-opacity="0.6"/>
<line x1="666.22" y1="206.47" x2="675.43" y2="200.28" stroke="#e39a5f" stroke-width="0.55" stroke-opacity="0.6"/>
<line x1="665.76" y1="209.43" x2="676.58" y2="202.16" stroke="#e39a5f" stroke-width="0.55" stroke-opacity="0.6"/>
<line x1="667.43" y1="210.95" x2="678.37" y2="203.61" stroke="#e39a5f" stroke-width="0.55" stroke-opacity="0.6"/>
<line x1="669.47" y1="212.23" x2="680.02" y2="205.15" stroke="#e39a5f" stroke-width="0.55" stroke-opacity="0.6"/>
<line x1="713.75" y1="207.23" x2="724.19" y2="203.35" stroke="#3a9478" stroke-width="0.55" stroke-opacity="0.6"/>
<line x1="717.25" y1="208.27" x2="728.69" y2="204.02" stroke="#3a9478" stroke-width="0.55" stroke-opacity="0.6"/>
<line x1="693.13" y1="214.9" x2="705.46" y2="210.31" stroke="#7d6cb0" stroke-width="0.55" stroke-opacity="0.6"/>
<line x1="692.82" y1="217.36" x2="705.16" y2="212.77" stroke="#7d6cb0" stroke-width="0.55" stroke-opacity="0.6"/>
<line x1="673.41" y1="222.23" x2="683.77" y2="218.38" stroke="#e39a5f" stroke-width="0.55" stroke-opacity="0.6"/>
<line x1="673.53" y1="224.53" x2="685.04" y2="220.25" stroke="#e39a5f" stroke-width="0.55" stroke-opacity="0.6"/>
<line x1="723.66" y1="250.84" x2="734.95" y2="251.62" stroke="#3a9478" stroke-width="0.55" stroke-opacity="0.6"/>
<line x1="721.16" y1="252.88" x2="733.57" y2="253.73" stroke="#3a9478" stroke-width="0.55" stroke-opacity="0.6"/>
<line x1="724.34" y1="255.3" x2="735.6" y2="256.07" stroke="#3a9478" stroke-width="0.55" stroke-opacity="0.6"/>
<line x1="698.91" y1="249.14" x2="711.09" y2="249.98" stroke="#7d6cb0" stroke-width="0.55" stroke-opacity="0.6"/>
<line x1="699.91" y1="251.41" x2="712.6" y2="252.29" stroke="#7d6cb0" stroke-width="0.55" stroke-opacity="0.6"/>
<line x1="699.1" y1="253.56" x2="711.37" y2="254.41" stroke="#7d6cb0" stroke-width="0.55" stroke-opacity="0.6"/>
<line x1="675.57" y1="247.53" x2="687.45" y2="248.35" stroke="#e39a5f" stroke-width="0.55" stroke-opacity="0.6"/>
<line x1="674.62" y1="249.67" x2="686.29" y2="250.48" stroke="#e39a5f" stroke-width="0.55" stroke-opacity="0.6"/>
<line x1="676.29" y1="251.99" x2="688.3" y2="252.82" stroke="#e39a5f" stroke-width="0.55" stroke-opacity="0.6"/>
<line x1="716.75" y1="274.89" x2="727.73" y2="278.15" stroke="#3a9478" stroke-width="0.55" stroke-opacity="0.6"/>
<line x1="717.95" y1="277.54" x2="730.11" y2="281.15" stroke="#3a9478" stroke-width="0.55" stroke-opacity="0.6"/>
<line x1="696.46" y1="268.86" x2="707.84" y2="272.24" stroke="#7d6cb0" stroke-width="0.55" stroke-opacity="0.6"/>
<line x1="694.85" y1="270.67" x2="706.76" y2="274.21" stroke="#7d6cb0" stroke-width="0.55" stroke-opacity="0.6"/>
<line x1="672.81" y1="261.83" x2="684.17" y2="265.2" stroke="#e39a5f" stroke-width="0.55" stroke-opacity="0.6"/>
<line x1="674.27" y1="264.56" x2="685.51" y2="267.9" stroke="#e39a5f" stroke-width="0.55" stroke-opacity="0.6"/>
<line x1="713.21" y1="288.62" x2="724.38" y2="293.74" stroke="#3a9478" stroke-width="0.55" stroke-opacity="0.6"/>
<line x1="710.49" y1="289.79" x2="722.66" y2="295.37" stroke="#3a9478" stroke-width="0.55" stroke-opacity="0.6"/>
<line x1="714.17" y1="293.9" x2="724.19" y2="298.49" stroke="#3a9478" stroke-width="0.55" stroke-opacity="0.6"/>
<line x1="691.67" y1="278.73" x2="702.47" y2="283.68" stroke="#7d6cb0" stroke-width="0.55" stroke-opacity="0.6"/>
<line x1="692.75" y1="281.64" x2="703.33" y2="286.5" stroke="#7d6cb0" stroke-width="0.55" stroke-opacity="0.6"/>
<line x1="690.88" y1="283.21" x2="701.74" y2="288.19" stroke="#7d6cb0" stroke-width="0.55" stroke-opacity="0.6"/>
<line x1="672.65" y1="270" x2="682.6" y2="274.56" stroke="#e39a5f" stroke-width="0.55" stroke-opacity="0.6"/>
<line x1="670.02" y1="271.21" x2="681.49" y2="276.48" stroke="#e39a5f" stroke-width="0.55" stroke-opacity="0.6"/>
<line x1="669.29" y1="273.3" x2="679.31" y2="277.9" stroke="#e39a5f" stroke-width="0.55" stroke-opacity="0.6"/>
<line x1="651.16" y1="346.11" x2="654.93" y2="356.62" stroke="#3a9478" stroke-width="0.55" stroke-opacity="0.6"/>
<line x1="648.4" y1="344.9" x2="652.42" y2="356.13" stroke="#3a9478" stroke-width="0.55" stroke-opacity="0.6"/>
<line x1="643.43" y1="324.49" x2="647.64" y2="336.27" stroke="#7d6cb0" stroke-width="0.55" stroke-opacity="0.6"/>
<line x1="641.05" y1="324.37" x2="645.09" y2="335.67" stroke="#7d6cb0" stroke-width="0.55" stroke-opacity="0.6"/>
<line x1="636.82" y1="306.02" x2="640.28" y2="315.7" stroke="#e39a5f" stroke-width="0.55" stroke-opacity="0.6"/>
<line x1="633.59" y1="303.53" x2="637.9" y2="315.57" stroke="#e39a5f" stroke-width="0.55" stroke-opacity="0.6"/>
<line x1="624.47" y1="350.58" x2="625.74" y2="363.37" stroke="#3a9478" stroke-width="0.55" stroke-opacity="0.6"/>
<line x1="622.56" y1="331.44" x2="623.73" y2="343.13" stroke="#7d6cb0" stroke-width="0.55" stroke-opacity="0.6"/>
<line x1="620.14" y1="307.17" x2="621.34" y2="319.15" stroke="#e39a5f" stroke-width="0.55" stroke-opacity="0.6"/>
<line x1="597.81" y1="353.42" x2="596.01" y2="365.44" stroke="#3a9478" stroke-width="0.55" stroke-opacity="0.6"/>
<line x1="601.22" y1="330.67" x2="599.45" y2="342.47" stroke="#7d6cb0" stroke-width="0.55" stroke-opacity="0.6"/>
<line x1="604.81" y1="306.75" x2="603.07" y2="318.36" stroke="#e39a5f" stroke-width="0.55" stroke-opacity="0.6"/>
<line x1="650.13" y1="296.29" x2="683.93" y2="343.8" stroke="#9a9aa8" stroke-width="0.45" stroke-opacity="0.35"/>
<line x1="557.97" y1="273.84" x2="505.56" y2="300.35" stroke="#9a9aa8" stroke-width="0.45" stroke-opacity="0.35"/>
<text x="573.9" y="240.8" font-size="12.24" fill="#1e1e1e" font-weight="bold" font-style="italic">B. caecimuris</text>
<text x="587.5" y="255.1" font-size="11.8" fill="#1e1e1e" font-weight="bold">SNP=331</text>
<path d="M1169.8 248.14 L1169.74 250.89 L1169.64 253.65 L1169.49 256.4 L1169.28 259.15 L1169.03 261.89 L1168.73 264.63 L1168.38 267.37 L1167.99 270.1 L1167.54 272.82 L1167.04 275.53 L1166.5 278.23 L1165.91 280.93 L1165.27 283.61 L1164.58 286.28 L1163.85 288.94 L1163.06 291.59 L1162.23 294.22 L1161.36 296.83 L1160.43 299.44 L1159.46 302.02 L1158.45 304.59 L1157.38 307.14 L1156.28 309.67 L1155.12 312.18 L1153.93 314.67 L1152.68 317.14 L1151.4 319.59 L1150.07 322.02 L1148.7 324.42 L1147.28 326.8 L1145.82 329.15 L1144.32 331.48 L1142.78 333.78 L1141.2 336.05 L1139.58 338.3 L1137.92 340.51 L1136.21 342.7 L1134.47 344.86 L1132.69 346.99 L1130.88 349.09 L1129.02 351.15 L1127.13 353.19 L1125.21 355.18 L1123.24 357.15 L1121.25 359.08 L1119.22 360.98 L1117.15 362.84 L1115.05 364.67 L1112.92 366.45 L1110.76 368.21 L1108.57 369.92 L1106.35 371.59 L1104.09 373.23 L1101.81 374.83 L1099.5 376.39 L1097.16 377.9 L1094.8 379.38 L1092.41 380.81 L1089.99 382.21 L1087.55 383.56 L1085.09 384.87 L1082.6 386.13 L1080.09 387.36 L1077.56 388.54 L1075.01 389.67 L1072.44 390.76 L1069.85 391.81" fill="none" stroke="#f0f0f6" stroke-width="17"/>
<path d="M1187.17 248.32 L1187.11 251.37 L1186.99 254.43 L1186.82 257.48 L1186.6 260.53 L1186.32 263.58 L1185.99 266.61 L1185.6 269.65 L1185.16 272.67 L1184.67 275.69 L1184.12 278.7 L1183.51 281.7 L1182.86 284.69 L1182.15 287.66 L1181.38 290.63 L1180.57 293.58 L1179.7 296.51 L1178.78 299.43 L1177.81 302.33 L1176.78 305.22 L1175.71 308.09 L1174.58 310.94 L1173.4 313.76 L1172.17 316.57 L1170.89 319.36 L1169.56 322.12 L1168.19 324.86 L1166.76 327.58 L1165.29 330.27 L1163.76 332.93 L1162.19 335.57 L1160.58 338.18 L1158.91 340.76 L1157.2 343.31 L1155.45 345.84 L1153.65 348.33 L1151.81 350.79 L1149.92 353.21 L1147.99 355.61 L1146.01 357.97 L1144 360.3 L1141.94 362.59 L1139.84 364.84 L1137.71 367.06 L1135.53 369.24 L1133.32 371.38 L1131.06 373.49 L1128.77 375.55 L1126.44 377.58 L1124.08 379.56 L1121.68 381.5 L1119.25 383.4 L1116.79 385.26 L1114.29 387.08 L1111.76 388.85 L1109.19 390.58 L1106.6 392.26 L1103.98 393.9 L1101.33 395.49 L1098.65 397.04 L1095.94 398.54 L1093.21 399.99 L1090.45 401.39 L1087.66 402.75 L1084.86 404.06 L1082.03 405.32 L1079.17 406.52 L1076.3 407.69" fill="none" stroke="#3cbdea" stroke-width="9.6"/>
<path d="M1195.7 248.41 L1195.68 250 L1195.64 251.59 L1195.59 253.18 L1195.52 254.77 L1195.44 256.35 L1195.35 257.94 L1195.24 259.53 L1195.11 261.11 L1194.98 262.7 L1194.83 264.28 L1194.66 265.87 L1194.48 267.45 L1194.29 269.03 L1194.08 270.6 L1193.86 272.18 L1193.63 273.75 L1193.38 275.32 L1193.12 276.89 L1192.84 278.46 L1192.55 280.03 L1192.24 281.59 L1191.92 283.15 L1191.59 284.7 L1191.25 286.26 L1190.89 287.81 L1190.51 289.36 L1190.13 290.9 L1189.72 292.44 L1189.31 293.98 L1188.88 295.51 L1188.44 297.04 L1187.98 298.57 L1187.51 300.09 L1187.03 301.61 L1186.54 303.12 L1186.03 304.63 L1185.5 306.14 L1184.97 307.64 L1184.42 309.13 L1183.85 310.62 L1183.28 312.11 L1182.69 313.59 L1182.09 315.07 L1181.47 316.54 L1180.84 318 L1180.2 319.46 L1179.55 320.92 L1178.88 322.37 L1178.2 323.81 L1177.51 325.25 L1176.8 326.68 L1176.08 328.1 L1175.35 329.52 L1174.61 330.93 L1173.85 332.34 L1173.09 333.74 L1172.3 335.13 L1171.51 336.52 L1170.71 337.9 L1169.89 339.27 L1169.06 340.63 L1168.22 341.99 L1167.36 343.34 L1166.5 344.68 L1165.62 346.02 L1164.73 347.35 L1163.83 348.67 L1162.92 349.98 L1161.99 351.28 L1161.05 352.58 L1160.11 353.87 L1159.15 355.15 L1158.18 356.42 L1157.2 357.68 L1156.2 358.94 L1155.2 360.19 L1154.18 361.42 L1153.16 362.65 L1152.12 363.87 L1151.07 365.08 L1150.02 366.29 L1148.95 367.48 L1147.87 368.66 L1146.78 369.84 L1145.68 371 L1144.57 372.16 L1143.45 373.3 L1142.31 374.44 L1141.17 375.57 L1140.02 376.68 L1138.86 377.79 L1137.69 378.89 L1136.51 379.97 L1135.32 381.05 L1134.12 382.11 L1132.91 383.17 L1131.69 384.21 L1130.47 385.25 L1129.23 386.27 L1127.98 387.29 L1126.73 388.29 L1125.47 389.28 L1124.19 390.26 L1122.91 391.23 L1121.62 392.19 L1120.33 393.14 L1119.02 394.08 L1117.71 395 L1116.38 395.91 L1115.05 396.82 L1113.71 397.71 L1112.37 398.59 L1111.01 399.46 L1109.65 400.31 L1108.28 401.16 L1106.9 401.99 L1105.52 402.81 L1104.13 403.62 L1102.73 404.41 L1101.32 405.2 L1099.91 405.97 L1098.49 406.73 L1097.07 407.48 L1095.63 408.22 L1094.19 408.94 L1092.75 409.65 L1091.3 410.35 L1089.84 411.04 L1088.37 411.71 L1086.9 412.37 L1085.43 413.02 L1083.95 413.65 L1082.46 414.28 L1080.97 414.89 L1079.47 415.48" fill="none" stroke="#111" stroke-width="1.9"/>
<path d="M1196.51 248.41L1199.16 248.44M1196.36 254.31L1197.88 254.38M1196 260.21L1197.52 260.32M1195.46 266.08L1196.97 266.24M1194.72 271.94L1196.23 272.15M1193.79 277.77L1196.39 278.22M1192.67 283.57L1194.16 283.87M1191.36 289.33L1192.84 289.68M1189.86 295.04L1191.33 295.44M1188.17 300.71L1189.63 301.15M1186.3 306.32L1188.8 307.17M1184.25 311.86L1185.67 312.4M1182.01 317.34L1183.42 317.92M1179.6 322.74L1180.99 323.37M1177.01 328.06L1178.38 328.73M1174.25 333.3L1176.57 334.54M1171.32 338.45L1172.63 339.21M1168.22 343.5L1169.51 344.3M1164.95 348.46L1166.22 349.29M1161.53 353.3L1162.77 354.18M1157.95 358.03L1160.04 359.62M1154.21 362.65L1155.39 363.61M1150.33 367.15L1151.47 368.14M1146.3 371.52L1147.41 372.54M1142.13 375.76L1143.2 376.82M1137.82 379.86L1139.63 381.76M1133.38 383.83L1134.38 384.96M1128.81 387.65L1129.78 388.81M1124.12 391.33L1125.05 392.52M1119.31 394.86L1120.2 396.07M1114.39 398.23L1115.86 400.38M1109.36 401.44L1110.17 402.71M1104.22 404.49L1104.99 405.79M1098.99 407.38L1099.72 408.7M1093.67 410.09L1094.35 411.44M1088.26 412.64L1089.36 415M1082.77 415.02L1083.36 416.4" stroke="#111" stroke-width="1.1" fill="none"/>
<text x="1200.77" y="249.44" transform="rotate(-89.1 1200.77 249.44)" font-size="4.6" fill="#111" text-anchor="middle" dominant-baseline="middle">2250kb</text>
<text x="1197.82" y="279.45" transform="rotate(-79.85 1197.82 279.45)" font-size="4.6" fill="#111" text-anchor="middle" dominant-baseline="middle">2500kb</text>
<text x="1190" y="308.61" transform="rotate(-70.6 1190 308.61)" font-size="4.6" fill="#111" text-anchor="middle" dominant-baseline="middle">2750kb</text>
<text x="1177.53" y="336.16" transform="rotate(-61.35 1177.53 336.16)" font-size="4.6" fill="#111" text-anchor="middle" dominant-baseline="middle">3000kb</text>
<text x="1160.72" y="361.37" transform="rotate(-52.1 1160.72 361.37)" font-size="4.6" fill="#111" text-anchor="middle" dominant-baseline="middle">250kb</text>
<text x="1140.01" y="383.6" transform="rotate(-42.85 1140.01 383.6)" font-size="4.6" fill="#111" text-anchor="middle" dominant-baseline="middle">500kb</text>
<text x="1115.94" y="402.26" transform="rotate(-33.6 1115.94 402.26)" font-size="4.6" fill="#111" text-anchor="middle" dominant-baseline="middle">750kb</text>
<path d="M1173.92 248.18 L1172.99 249.01 L1167.8 249.74 L1173.21 250.69 L1168.5 251.38 L1173.49 252.37 L1173.9 253.23 L1173.93 254.07 L1173.83 254.91 L1173.48 255.73 L1173.09 256.55 L1170.43 257.21 L1172.93 258.22 L1172.86 259.05 L1173.04 259.91 L1173.04 260.75 L1173.01 261.59 L1172.47 262.38 L1172.54 263.23 L1167.45 263.52 L1172.03 264.86 L1172.64 265.78 L1172.18 266.57 L1172.61 267.47 L1172.02 268.24 L1171.3 268.98 L1172.12 269.95 L1171.36 270.68 L1171.57 271.56 L1171 272.32 L1171.37 273.23 L1170.4 273.92 L1170.2 274.73 L1170.37 275.61 L1170.03 276.4 L1170.41 277.32 L1170.5 278.19 L1170.16 278.98 L1169.3 279.66 L1169.44 280.54 L1169.87 281.5 L1169.25 282.22 L1168.71 282.95 L1168.98 283.88 L1169.37 284.84 L1168.09 285.39 L1168.82 286.43 L1168.15 287.13 L1167.95 287.95 L1168.14 288.86 L1167.29 289.5 L1167.54 290.44 L1166.98 291.16 L1166.64 291.94 L1165.97 292.61 L1166.31 293.59 L1165.11 294.1 L1165.21 295 L1165.49 295.97 L1159.31 294.84 L1164.52 297.42 L1163.95 298.11 L1163.88 298.97 L1163.29 299.65 L1160.6 299.58 L1162.73 301.22 L1163.44 302.37 L1162.26 302.83 L1162.69 303.89 L1161.96 304.51 L1161.19 305.11 L1161.45 306.11 L1161.18 306.9 L1160.55 307.55 L1160.95 308.62 L1160.29 309.26 L1160.47 310.25 L1160.06 310.99 L1159.67 311.74 L1159.35 312.52 L1155.19 311.57 L1157.84 313.68 L1158.19 314.76 L1157.81 315.52 L1157.28 316.2 L1156.8 316.9 L1156.36 317.62 L1156.39 318.57 L1155.83 319.23 L1154.94 319.73 L1155.25 320.83 L1154.86 321.57 L1153.75 321.94 L1153.84 322.94 L1153.61 323.77 L1152.53 324.14 L1152.24 324.94 L1151.58 325.53 L1151.8 326.63 L1150.83 327.04 L1148.23 326.5 L1150.38 328.72 L1150.31 329.66 L1149.48 330.15 L1148.95 330.81 L1148.23 331.35 L1148.39 332.44 L1147.3 332.75 L1146.62 333.31 L1146.65 334.33 L1146.56 335.28 L1145.96 335.89 L1145.42 336.55 L1145.15 337.38 L1144.83 338.18 L1144.32 338.87 L1142.98 338.96 L1140.09 337.94 L1142.02 340.34 L1141.59 341.06 L1141.78 342.24 L1141.37 342.99 L1140.4 343.32 L1139.47 343.68 L1139.09 344.44 L1138.95 345.4 L1138.2 345.89 L1137.8 346.65 L1137.09 347.16 L1136.6 347.84 L1135.93 348.39 L1135.31 348.97 L1134.39 349.29 L1134.23 350.26 L1133.48 350.73 L1133.55 351.9 L1132.64 352.22 L1132.04 352.82 L1131.4 353.38 L1127.21 350.75 L1130.62 354.95 L1126.09 351.95 L1129.06 355.8 L1128.71 356.63 L1128.7 357.78 L1127.96 358.25 L1127.13 358.63 L1126.38 359.07 L1126.16 360.05 L1122.66 357.76 L1125.17 361.45 L1123.77 361.24 L1123.11 361.77 L1123.12 363 L1122.14 363.2 L1121.66 363.92 L1120.55 363.97 L1120.5 365.16 L1119.74 365.59 L1115.17 361.79 L1118.54 366.79 L1117.5 366.89 L1117.16 367.78 L1114.45 365.95 L1115.55 368.51 L1114.72 368.83 L1114.2 369.52 L1113.77 370.32 L1112.94 370.65 L1112.35 371.25 L1112.08 372.27 L1111.56 372.98 L1110.72 373.29 L1110.04 373.8 L1108.82 373.6 L1108.47 374.53 L1107.78 375.03 L1106.87 375.22 L1106.11 375.61 L1105.39 376.06 L1105.3 377.38 L1104.18 377.28 L1103.51 377.79 L1102.83 378.3 L1101.86 378.38 L1101.07 378.71 L1100.8 379.82 L1100.14 380.37 L1096.12 375.81 L1098.32 380.67 L1097.39 380.79 L1096.75 381.36 L1096.09 381.9 L1095.81 383.04 L1094.9 383.18 L1094.27 383.77 L1093.42 383.99 L1092.54 384.18 L1091.63 384.3 L1091.27 385.36 L1090.51 385.73 L1089.75 386.12 L1089.05 386.6 L1088.04 386.52 L1087.41 387.13 L1087.08 388.29 L1086.25 388.55 L1085.51 388.96 L1084.92 389.68 L1083.81 389.38 L1083.11 389.88 L1082.7 390.95 L1080.17 387.75 L1080.79 390.93 L1079.94 391.11 L1079.24 391.61 L1078.39 391.81 L1078.01 393 L1077.13 393.13 L1074.93 390.29 L1075.48 393.62 L1074.71 393.99 L1074.04 394.58 L1071.26 390.16 L1072.07 394.27 L1071.69 395.58" fill="none" stroke="#2b2e8c" stroke-width="0.9" stroke-linejoin="round"/>
<path d="M1064.66 393.75 L1062.02 394.66 L1059.36 395.52 L1056.68 396.34 L1053.99 397.12 L1051.29 397.84 L1048.57 398.52 L1045.84 399.15 L1043.11 399.74 L1040.36 400.27 L1037.6 400.76 L1034.84 401.2 L1032.06 401.59 L1029.28 401.94 L1026.5 402.24 L1023.71 402.48 L1020.91 402.68 L1018.11 402.83 L1015.31 402.94 L1012.51 402.99 L1009.71 403 L1006.91 402.95 L1004.11 402.86 L1001.31 402.72 L998.52 402.53 L995.72 402.3 L992.94 402.01 L990.16 401.68 L987.38 401.29 L984.61 400.86 L981.86 400.39 L979.1 399.86 L976.36 399.29 L973.63 398.66 L970.92 398 L968.21 397.28 L965.52 396.52 L962.84 395.71 L960.18 394.86 L957.53 393.95 L954.9 393.01 L952.28 392.02 L949.69 390.98 L947.11 389.9 L944.55 388.77 L942.01 387.6 L939.5 386.38 L937.01 385.13 L934.54 383.82 L932.09 382.48 L929.67 381.09 L927.27 379.67 L924.9 378.2" fill="none" stroke="#f0f0f6" stroke-width="17"/>
<path d="M1070.55 409.84 L1067.61 410.85 L1064.66 411.81 L1061.69 412.72 L1058.71 413.57 L1055.71 414.38 L1052.7 415.13 L1049.67 415.83 L1046.64 416.48 L1043.59 417.07 L1040.53 417.62 L1037.46 418.11 L1034.39 418.54 L1031.3 418.92 L1028.21 419.25 L1025.12 419.53 L1022.02 419.75 L1018.91 419.92 L1015.81 420.03 L1012.7 420.09 L1009.59 420.1 L1006.48 420.05 L1003.38 419.95 L1000.27 419.79 L997.17 419.58 L994.08 419.32 L990.99 419 L987.9 418.63 L984.82 418.21 L981.75 417.73 L978.69 417.2 L975.64 416.62 L972.6 415.98 L969.57 415.29 L966.56 414.55 L963.56 413.76 L960.57 412.91 L957.6 412.01 L954.64 411.07 L951.71 410.07 L948.79 409.02 L945.89 407.92 L943.01 406.76 L940.15 405.56 L937.31 404.31 L934.5 403.02 L931.71 401.67 L928.94 400.27 L926.2 398.83 L923.49 397.34 L920.8 395.8 L918.14 394.22 L915.51 392.59" fill="none" stroke="#3cbdea" stroke-width="9.6"/>
<path d="M1073.44 417.74 L1071.92 418.27 L1070.39 418.79 L1068.86 419.3 L1067.33 419.79 L1065.79 420.27 L1064.25 420.73 L1062.7 421.18 L1061.15 421.62 L1059.59 422.05 L1058.03 422.46 L1056.47 422.86 L1054.91 423.25 L1053.34 423.62 L1051.77 423.98 L1050.19 424.32 L1048.61 424.65 L1047.03 424.97 L1045.45 425.28 L1043.86 425.57 L1042.27 425.84 L1040.68 426.11 L1039.09 426.36 L1037.49 426.59 L1035.9 426.82 L1034.3 427.02 L1032.69 427.22 L1031.09 427.4 L1029.49 427.57 L1027.88 427.72 L1026.27 427.86 L1024.66 427.99 L1023.05 428.1 L1021.44 428.2 L1019.83 428.28 L1018.22 428.35 L1016.61 428.41 L1015 428.45 L1013.38 428.48 L1011.77 428.5 L1010.15 428.5 L1008.54 428.49 L1006.93 428.46 L1005.31 428.42 L1003.7 428.37 L1002.09 428.3 L1000.48 428.22 L998.87 428.12 L997.26 428.01 L995.65 427.89 L994.04 427.75 L992.43 427.6 L990.83 427.44 L989.23 427.26 L987.62 427.06 L986.02 426.86 L984.43 426.64 L982.83 426.41 L981.24 426.16 L979.64 425.9 L978.05 425.62 L976.47 425.34 L974.88 425.03 L973.3 424.72 L971.72 424.39 L970.15 424.05 L968.58 423.69 L967.01 423.32 L965.44 422.94 L963.88 422.54 L962.32 422.13 L960.76 421.71 L959.21 421.27 L957.66 420.82 L956.12 420.36 L954.58 419.88 L953.05 419.39 L951.51 418.89 L949.99 418.38 L948.47 417.85 L946.95 417.31 L945.44 416.75 L943.93 416.18 L942.43 415.6 L940.93 415.01 L939.44 414.4 L937.96 413.78 L936.48 413.15 L935 412.51 L933.53 411.85 L932.07 411.18 L930.61 410.5 L929.16 409.8 L927.72 409.09 L926.28 408.37 L924.85 407.64 L923.42 406.9 L922 406.14 L920.59 405.37 L919.18 404.59 L917.79 403.8 L916.39 402.99 L915.01 402.18 L913.63 401.35 L912.26 400.51 L910.9 399.65" fill="none" stroke="#111" stroke-width="1.9"/>
<path d="M1073.71 418.49L1074.61 420.94M1068.04 420.4L1068.51 421.83M1062.3 422.13L1062.73 423.57M1056.52 423.68L1056.89 425.13M1050.68 425.04L1051.01 426.5M1044.81 426.21L1045.29 428.77M1038.89 427.2L1039.12 428.68M1032.95 428L1033.13 429.48M1026.99 428.6L1027.12 430.1M1021.01 429.02L1021.09 430.52M1015.01 429.25L1015.07 431.85M1009.02 429.29L1009 430.79M1003.02 429.14L1002.96 430.64M997.04 428.8L996.92 430.29M991.06 428.26L990.9 429.76M985.11 427.54L984.75 430.12M979.19 426.63L978.93 428.11M973.3 425.53L972.99 427M967.44 424.25L967.09 425.71M961.64 422.78L961.23 424.23M955.88 421.12L955.1 423.61M950.18 419.29L949.68 420.71M944.54 417.27L944 418.67M938.98 415.08L938.39 416.46M933.49 412.71L932.85 414.07M928.08 410.17L926.9 412.49M922.75 407.45L922.03 408.77M917.52 404.57L916.75 405.87M912.38 401.52L911.57 402.8" stroke="#111" stroke-width="1.1" fill="none"/>
<text x="1074.22" y="422.77" transform="rotate(-19.5 1074.22 422.77)" font-size="4.6" fill="#111" text-anchor="middle" dominant-baseline="middle">2250kb</text>
<text x="1044.61" y="430.52" transform="rotate(-10.25 1044.61 430.52)" font-size="4.6" fill="#111" text-anchor="middle" dominant-baseline="middle">2500kb</text>
<text x="1014.12" y="433.47" transform="rotate(-1 1014.12 433.47)" font-size="4.6" fill="#111" text-anchor="middle" dominant-baseline="middle">2750kb</text>
<text x="983.54" y="431.56" transform="rotate(8.25 983.54 431.56)" font-size="4.6" fill="#111" text-anchor="middle" dominant-baseline="middle">3000kb</text>
<text x="953.67" y="424.85" transform="rotate(17.5 953.67 424.85)" font-size="4.6" fill="#111" text-anchor="middle" dominant-baseline="middle">250kb</text>
<text x="925.28" y="413.49" transform="rotate(26.75 925.28 413.49)" font-size="4.6" fill="#111" text-anchor="middle" dominant-baseline="middle">500kb</text>
<path d="M1066.02 397.48 L1065.03 397.23 L1064.38 397.93 L1063.36 397.6 L1062.69 398.26 L1061.68 397.91 L1061.12 398.92 L1060.24 398.98 L1059.28 398.77 L1057.18 394.87 L1057.74 399.54 L1056.99 399.99 L1056.14 400.1 L1055.29 400.23 L1054.32 399.9 L1053.57 400.39 L1052.78 400.69 L1052.03 401.17 L1051.25 401.54 L1050.36 401.51 L1049.61 402 L1048.65 401.67 L1048.04 402.76 L1047.15 402.73 L1046.43 403.4 L1045.37 402.56 L1044.67 403.33 L1043.8 403.35 L1043.04 403.86 L1042.01 403.06 L1041.16 403.16 L1040.48 404.12 L1039.62 404.17 L1038.81 404.44 L1037.79 403.59 L1037.08 404.44 L1036.29 404.9 L1034.83 401.08 L1034.55 404.78 L1033.27 401.9 L1032.85 404.92 L1031.97 404.78 L1030.49 399.92 L1030.35 405.5 L1029.45 405.17 L1028.63 405.47 L1027.75 405.27 L1026.91 405.36 L1026.11 405.94 L1025.25 405.9 L1024.37 405.57 L1023.53 405.74 L1022.65 405.27 L1021.79 405.22 L1021.03 406.5 L1020.18 406.67 L1019.32 406.59 L1018.46 406.47 L1017.58 405.82 L1016.76 406.41 L1015.92 406.77 L1015.07 406.89 L1014.2 406.25 L1013.34 405.73 L1012.5 406.65 L1011.65 406.47 L1010.8 406.61 L1009.95 406.4 L1009.11 405.8 L1008.25 406.19 L1007.39 406.86 L1006.53 406.88 L1005.71 406.04 L1004.83 406.73 L1003.98 406.69 L1003.15 406.23 L1002.27 406.75 L1001.46 405.99 L1000.63 405.55 L999.74 406.16 L998.92 405.78 L998.13 404.97 L997.24 405.38 L996.33 406.05 L995.52 405.62 L995.15 400.84 L993.83 405.4 L992.99 405.29 L992.1 405.62 L991.24 405.57 L990.43 405.17 L989.62 404.85 L988.69 405.36 L987.93 404.69 L987.01 405.05 L986.16 404.98 L985.44 404.07 L984.51 404.51 L983.77 403.77 L982.85 404.13 L981.97 404.22 L981.29 403.22 L980.38 403.45 L979.58 403.14 L978.81 402.64 L977.82 403.25 L976.96 403.2 L976.11 403.08 L975.38 402.47 L974.6 402.05 L973.59 402.66 L972.71 402.65 L972.06 401.75 L971.24 401.53 L970.34 401.59 L969.34 402.03 L968.6 401.5 L967.66 401.72 L968.2 396.67 L966.05 401.14 L965.26 400.78 L964.43 400.57 L963.78 399.8 L962.94 399.62 L962.29 398.87 L961.27 399.26 L962.11 394 L959.78 398.35 L959.2 397.41 L958.11 397.98 L957.41 397.39 L956.52 397.36 L955.64 397.3 L955.03 396.5 L953.95 396.94 L954.85 392.24 L952.47 396.07 L951.63 395.87 L950.76 395.76 L950.04 395.27 L949.4 394.59 L948.49 394.56 L947.73 394.17 L947.19 393.27 L946.35 393.09 L945.45 393.02 L944.7 392.63 L943.88 392.37 L943 392.26 L942.3 391.75 L941.57 391.31 L940.83 390.88 L939.98 390.69 L939.31 390.12 L938.64 389.58 L937.8 389.36 L936.89 389.28 L936.32 388.53 L935.4 388.45 L935.09 387.23 L935.24 385.2 L933.62 386.41 L932.73 386.27 L931.58 386.59 L931.05 385.81 L930.12 385.73 L929.74 384.7 L928.74 384.71 L928.4 383.64 L927.6 383.33 L926.41 383.66 L926.01 382.69 L925.34 382.16 L924.59 381.77 L923.59 381.76 L922.78 381.44" fill="none" stroke="#2b2e8c" stroke-width="0.9" stroke-linejoin="round"/>
<path d="M920.28 375.17 L917.99 373.57 L915.72 371.94 L913.48 370.26 L911.28 368.55 L909.1 366.8 L906.96 365.01 L904.84 363.19 L902.77 361.33 L900.72 359.43 L898.71 357.5 L896.74 355.53 L894.8 353.53 L892.89 351.5 L891.03 349.43 L889.2 347.33 L887.41 345.2 L885.65 343.04 L883.94 340.85 L882.27 338.63 L880.63 336.38 L879.04 334.1 L877.49 331.79 L875.98 329.46 L874.51 327.1 L873.08 324.72 L871.7 322.31 L870.36 319.88 L869.06 317.43 L867.81 314.95 L866.61 312.45 L865.44 309.94 L864.33 307.4 L863.26 304.84 L862.23 302.27 L861.26 299.67 L860.32 297.06 L859.44 294.44 L858.6 291.8 L857.81 289.14 L857.07 286.48 L856.38 283.8 L855.73 281.11 L855.13 278.4 L854.59 275.69 L854.09 272.97 L853.64 270.24 L853.23 267.5 L852.88 264.76" fill="none" stroke="#f0f0f6" stroke-width="17"/>
<path d="M910.39 389.22 L907.85 387.46 L905.33 385.64 L902.85 383.79 L900.4 381.89 L897.99 379.95 L895.61 377.96 L893.27 375.94 L890.96 373.88 L888.69 371.77 L886.46 369.63 L884.27 367.45 L882.12 365.23 L880.01 362.97 L877.94 360.68 L875.91 358.35 L873.92 355.99 L871.98 353.59 L870.08 351.16 L868.22 348.69 L866.41 346.2 L864.64 343.67 L862.92 341.11 L861.24 338.53 L859.61 335.91 L858.03 333.27 L856.5 330.6 L855.01 327.9 L853.58 325.18 L852.19 322.43 L850.85 319.66 L849.56 316.87 L848.32 314.05 L847.14 311.22 L846 308.36 L844.91 305.48 L843.88 302.59 L842.9 299.68 L841.97 296.75 L841.1 293.8 L840.27 290.85 L839.5 287.87 L838.79 284.89 L838.13 281.89 L837.52 278.88 L836.96 275.86 L836.46 272.83 L836.02 269.8 L835.63 266.75" fill="none" stroke="#3cbdea" stroke-width="9.6"/>
<path d="M905.53 396.13 L904.21 395.22 L902.89 394.3 L901.58 393.36 L900.28 392.42 L898.99 391.46 L897.71 390.49 L896.43 389.51 L895.16 388.52 L893.91 387.52 L892.66 386.51 L891.42 385.49 L890.19 384.45 L888.97 383.41 L887.76 382.36 L886.55 381.29 L885.36 380.22 L884.18 379.13 L883 378.04 L881.84 376.93 L880.69 375.82 L879.54 374.69 L878.41 373.56 L877.28 372.42 L876.17 371.26 L875.07 370.1 L873.98 368.93 L872.89 367.74 L871.82 366.55 L870.76 365.35 L869.71 364.14 L868.67 362.92 L867.64 361.69 L866.62 360.46 L865.62 359.21 L864.62 357.96 L863.63 356.7 L862.66 355.43 L861.7 354.15 L860.75 352.86 L859.81 351.56 L858.88 350.26 L857.97 348.95 L857.06 347.63 L856.17 346.3 L855.29 344.97 L854.42 343.62 L853.56 342.28 L852.72 340.92 L851.88 339.55 L851.06 338.18 L850.26 336.8 L849.46 335.42 L848.68 334.03 L847.9 332.63 L847.15 331.22 L846.4 329.81 L845.66 328.39 L844.94 326.97 L844.23 325.54 L843.54 324.1 L842.86 322.66 L842.19 321.21 L841.53 319.76 L840.88 318.3 L840.25 316.83 L839.63 315.36 L839.03 313.89 L838.44 312.4 L837.86 310.92 L837.29 309.43 L836.74 307.93 L836.2 306.43 L835.68 304.93 L835.16 303.42 L834.66 301.9 L834.18 300.38 L833.71 298.86 L833.25 297.34 L832.8 295.81 L832.37 294.27 L831.95 292.73 L831.55 291.19 L831.16 289.65 L830.78 288.1 L830.42 286.55 L830.07 285 L829.74 283.44 L829.42 281.88 L829.11 280.32 L828.81 278.75 L828.53 277.18 L828.27 275.61 L828.02 274.04 L827.78 272.47 L827.56 270.89 L827.35 269.31 L827.15 267.73" fill="none" stroke="#111" stroke-width="1.9"/>
<path d="M905.07 396.79L903.57 398.93M900.2 393.35L899.29 394.56M895.44 389.76L894.49 390.93M890.8 386.02L889.81 387.16M886.29 382.13L885.26 383.25M881.9 378.11L880.07 379.98M877.65 373.94L876.56 374.99M873.54 369.64L872.41 370.66M869.57 365.22L868.41 366.19M865.75 360.67L864.56 361.61M862.08 356L859.97 357.56M858.57 351.22L857.32 352.08M855.21 346.33L853.94 347.15M852.02 341.33L850.72 342.11M848.99 336.24L847.67 336.97M846.13 331.05L843.79 332.25M843.45 325.77L842.07 326.42M840.93 320.41L839.54 321.02M838.6 314.98L837.19 315.54M836.44 309.47L835.01 309.99M834.47 303.9L831.96 304.71M832.68 298.27L831.22 298.69M831.07 292.58L829.6 292.96M829.65 286.84L828.17 287.17M828.43 281.07L826.93 281.35M827.39 275.25L824.78 275.66M826.54 269.41L825.03 269.6" stroke="#111" stroke-width="1.1" fill="none"/>
<text x="901.83" y="399.68" transform="rotate(35 901.83 399.68)" font-size="4.6" fill="#111" text-anchor="middle" dominant-baseline="middle">2250kb</text>
<text x="878.23" y="380.45" transform="rotate(44.25 878.23 380.45)" font-size="4.6" fill="#111" text-anchor="middle" dominant-baseline="middle">2500kb</text>
<text x="858.07" y="357.73" transform="rotate(53.5 858.07 357.73)" font-size="4.6" fill="#111" text-anchor="middle" dominant-baseline="middle">2750kb</text>
<text x="841.89" y="332.12" transform="rotate(62.75 841.89 332.12)" font-size="4.6" fill="#111" text-anchor="middle" dominant-baseline="middle">3000kb</text>
<text x="830.11" y="304.29" transform="rotate(72 830.11 304.29)" font-size="4.6" fill="#111" text-anchor="middle" dominant-baseline="middle">250kb</text>
<path d="M917.97 378.46 L917.26 377.99 L916.39 377.74 L916.35 376.36 L915.64 375.88 L914.39 376.16 L913.71 375.64 L913.32 374.75 L912.47 374.47 L911.75 374.02 L911.26 373.26 L910.67 372.64 L909.79 372.39 L908.85 372.2 L908.63 371.13 L908.25 370.26 L907.53 369.81 L906.11 370.18 L905.59 369.47 L904.81 369.08 L904.67 367.95 L903.97 367.46 L902.81 367.49 L902.25 366.84 L902.03 365.82 L901.19 365.48 L900.79 364.67 L899.87 364.41 L899.68 363.37 L898.52 363.36 L897.98 362.7 L897.04 362.44 L896.71 361.57 L900.33 356.76 L895.15 360.73 L894.9 359.78 L894.29 359.19 L893.74 358.54 L892.98 358.09 L892.82 357.08 L892.12 356.58 L891.42 356.07 L890.37 355.88 L890.33 354.77 L889.3 354.55 L888.53 354.1 L888.23 353.23 L890.98 349.74 L887.29 351.8 L886.97 350.96 L886.47 350.28 L885.91 349.65 L885.52 348.87 L884.59 348.54 L884.59 347.45 L887.46 344.11 L883.6 346.08 L885.24 343.75 L882.28 344.97 L881.33 344.63 L880.98 343.84 L880.53 343.12 L880 342.46 L879.58 341.72 L879.27 340.91 L878.82 340.19 L877.89 339.81 L877.54 339.02 L876.95 338.41 L876.87 337.44 L875.79 337.15 L875.76 336.15 L874.93 335.69 L875.1 334.57 L874.53 333.94 L873.94 333.31 L873.31 332.71 L873.1 331.85 L872.53 331.21 L872.73 330.1 L872.41 329.31 L871.53 328.86 L870.42 328.54 L870.38 327.59 L869.65 327.04 L869.79 325.98 L869.21 325.34 L869 324.5 L868.42 323.86 L871.03 321.51 L867.86 322.25 L867.76 321.36 L866.84 320.89 L866.96 319.88 L866.66 319.1 L866.02 318.48 L865.8 317.66 L865.38 316.93 L865.21 316.08 L864.32 315.58 L863.54 315.02 L863.02 314.33 L862.68 313.56 L863.31 312.35 L862.11 311.97 L861.56 311.29 L862.21 310.09 L861.05 309.67 L861.51 308.57 L861.38 307.72 L860.75 307.07 L859.6 306.63 L859.3 305.84 L863.78 303.21 L858.93 304.18 L859.4 303.11 L858.31 302.62 L858.08 301.81 L858.11 300.9 L861.95 298.67 L857.22 299.44 L856.78 298.7 L857.15 297.69 L857.09 296.83 L856.47 296.15 L855.97 295.43 L855.79 294.6 L855.12 293.93 L857.74 292.27 L854.6 292.33 L854.76 291.41 L853.91 290.78 L853.85 289.92 L853.7 289.09 L854.25 288.07 L853.85 287.31 L853.55 286.53 L852.62 285.89 L852.49 285.06 L852.18 284.27 L852 283.45 L852.21 282.54 L852.42 281.63 L851.41 280.99 L851.57 280.1 L851.5 279.26 L851.33 278.43 L851.51 277.54 L851.61 276.67 L851.18 275.9 L850.5 275.17 L850.9 274.25 L850.26 273.51 L850.82 272.57 L850.41 271.79 L849.71 271.04 L850.62 270.06 L852.98 268.88 L849.23 268.57 L849.61 267.67 L849.73 266.81 L849.36 266.01 L849.05 265.2" fill="none" stroke="#2b2e8c" stroke-width="0.9" stroke-linejoin="round"/>
<path d="M852.33 259.32 L852.13 256.6 L851.97 253.87 L851.87 251.14 L851.81 248.41 L851.8 245.68 L851.84 242.95 L851.92 240.22 L852.06 237.49 L852.24 234.77 L852.48 232.04 L852.76 229.33 L853.08 226.61 L853.46 223.91 L853.89 221.21 L854.36 218.52 L854.88 215.83 L855.45 213.16 L856.06 210.5 L856.72 207.84 L857.43 205.2 L858.19 202.58 L858.99 199.96 L859.84 197.36 L860.73 194.77 L861.67 192.2 L862.66 189.65 L863.69 187.12 L864.76 184.6 L865.88 182.1 L867.05 179.62" fill="none" stroke="#f0f0f6" stroke-width="17"/>
<path d="M835.02 260.72 L834.79 257.7 L834.62 254.68 L834.5 251.65 L834.44 248.62 L834.42 245.59 L834.47 242.56 L834.56 239.53 L834.71 236.51 L834.92 233.48 L835.18 230.46 L835.49 227.45 L835.85 224.44 L836.27 221.44 L836.74 218.45 L837.26 215.46 L837.84 212.48 L838.47 209.52 L839.15 206.56 L839.89 203.62 L840.67 200.69 L841.51 197.78 L842.4 194.88 L843.34 191.99 L844.33 189.12 L845.38 186.27 L846.47 183.44 L847.61 180.63 L848.81 177.83 L850.05 175.06 L851.34 172.31" fill="none" stroke="#3cbdea" stroke-width="9.6"/>
<path d="M826.51 261.41 L826.38 259.83 L826.27 258.24 L826.18 256.66 L826.09 255.07 L826.02 253.49 L825.97 251.9 L825.93 250.31 L825.9 248.72 L825.89 247.14 L825.89 245.55 L825.91 243.96 L825.94 242.37 L825.98 240.78 L826.04 239.2 L826.11 237.61 L826.19 236.02 L826.29 234.44 L826.41 232.85 L826.54 231.27 L826.68 229.69 L826.83 228.11 L827 226.53 L827.19 224.95 L827.39 223.37 L827.6 221.8 L827.82 220.23 L828.06 218.66 L828.32 217.09 L828.59 215.52 L828.87 213.96 L829.16 212.4 L829.47 210.84 L829.8 209.28 L830.13 207.73 L830.48 206.18 L830.85 204.63 L831.23 203.09 L831.62 201.55 L832.02 200.01 L832.44 198.48 L832.87 196.94 L833.32 195.42 L833.78 193.9 L834.25 192.38 L834.74 190.86 L835.24 189.35 L835.75 187.85 L836.28 186.35 L836.82 184.85 L837.37 183.36 L837.94 181.87 L838.52 180.39 L839.11 178.91 L839.72 177.44 L840.34 175.97 L840.97 174.51 L841.61 173.05 L842.27 171.6 L842.94 170.16 L843.62 168.72" fill="none" stroke="#111" stroke-width="1.9"/>
<path d="M825.7 261.48L823.07 261.69M825.3 255.59L823.78 255.66M825.1 249.69L823.58 249.72M825.1 243.79L823.57 243.77M825.28 237.89L823.76 237.82M825.66 232L823.03 231.79M826.23 226.12L824.72 225.96M827 220.27L825.49 220.05M827.95 214.44L826.45 214.18M829.1 208.65L827.61 208.34M830.44 202.9L827.87 202.28M831.96 197.19L830.49 196.78M833.67 191.53L832.22 191.08M835.57 185.93L834.13 185.43M837.64 180.4L836.22 179.85M839.9 174.93L837.47 173.91M842.34 169.53L840.96 168.9" stroke="#111" stroke-width="1.1" fill="none"/>
<text x="821.37" y="260.85" transform="rotate(85.6 821.37 260.85)" font-size="4.6" fill="#111" text-anchor="middle" dominant-baseline="middle">2250kb</text>
<text x="821.49" y="230.69" transform="rotate(274.85 821.49 230.69)" font-size="4.6" fill="#111" text-anchor="middle" dominant-baseline="middle">2500kb</text>
<text x="826.53" y="200.94" transform="rotate(284.1 826.53 200.94)" font-size="4.6" fill="#111" text-anchor="middle" dominant-baseline="middle">2750kb</text>
<path d="M853.45 259.23 L848.6 258.78 L848.97 257.92 L848.1 257.14 L848.63 256.26 L848.08 255.45 L848.33 254.6 L848.19 253.77 L847.3 252.96 L847.2 252.12 L847.69 251.26 L847.67 250.42 L847.66 249.58 L848.07 248.74 L847.73 247.9 L847.73 247.06 L848.16 246.22 L847.68 245.38 L848.15 244.54 L847.53 243.69 L847.88 242.86 L848.17 242.03 L847.66 241.17 L847.81 240.34 L848.25 239.51 L848.2 238.67 L848.83 237.87 L848.7 237.02 L848.86 236.19 L852.07 235.58 L848.19 234.47 L848.82 233.67 L849.14 232.86 L849.31 232.03 L849.2 231.19 L849.25 230.35 L849.38 229.52 L849.21 228.66 L850.18 227.93 L849.95 227.06 L850.25 226.26 L849.65 225.34 L850.33 224.58 L850.15 223.71 L850.46 222.91 L850.37 222.06 L850.33 221.2 L850.94 220.45 L850.54 219.54 L851.13 218.79 L851.43 217.99 L851.51 217.16 L851.28 216.27 L851.32 215.42 L852.45 214.79 L852.53 213.96 L852.15 213.02 L852.45 212.23 L852.36 211.36 L852.27 210.48 L853.27 209.85 L852.91 208.9 L853.43 208.17 L853.74 207.38 L854.05 206.6 L853.87 205.69 L854.37 204.96 L854.65 204.17 L854.72 203.32 L855.49 202.67 L855.63 201.84 L855.14 200.83 L855.92 200.19 L855.95 199.32 L856.51 198.62 L855.98 197.58 L856.5 196.86 L856.46 195.97 L857.39 195.39 L857.2 194.44 L857.61 193.7 L857.56 192.79 L857.94 192.04 L857.94 191.14 L858.8 190.56 L858.73 189.64 L859.16 188.91 L860.05 188.35 L859.9 187.4 L860.87 186.88 L863.45 187.02 L864.88 186.72 L861.36 184.37 L861.41 183.48 L862.39 182.98 L867.57 184.32 L862.91 181.39 L862.8 180.42 L862.99 179.59 L863.71 178.99 L864.19 178.29" fill="none" stroke="#2b2e8c" stroke-width="0.9" stroke-linejoin="round"/>
<path d="M869.51 174.72 L870.8 172.31 L872.14 169.91 L873.52 167.54 L874.94 165.2 L876.4 162.87 L877.9 160.58 L879.45 158.31 L881.03 156.07 L882.65 153.85 L884.32 151.66 L886.02 149.5 L887.76 147.38 L889.53 145.28 L891.35 143.21 L893.2 141.17 L895.08 139.17 L897 137.2 L898.96 135.26 L900.95 133.36 L902.97 131.49 L905.03 129.65 L907.11 127.85" fill="none" stroke="#f0f0f6" stroke-width="17"/>
<path d="M854.07 166.88 L855.5 164.2 L856.99 161.54 L858.52 158.91 L860.09 156.31 L861.71 153.74 L863.38 151.19 L865.09 148.67 L866.85 146.18 L868.65 143.73 L870.5 141.3 L872.38 138.91 L874.31 136.55 L876.28 134.22 L878.29 131.92 L880.35 129.67 L882.44 127.44 L884.57 125.26 L886.74 123.11 L888.94 120.99 L891.19 118.92 L893.47 116.88 L895.78 114.89" fill="none" stroke="#3cbdea" stroke-width="9.6"/>
<path d="M846.48 163.03 L847.23 161.62 L847.99 160.22 L848.76 158.82 L849.54 157.43 L850.34 156.05 L851.15 154.68 L851.97 153.31 L852.8 151.95 L853.64 150.59 L854.5 149.25 L855.37 147.91 L856.25 146.58 L857.14 145.25 L858.04 143.94 L858.96 142.63 L859.89 141.33 L860.82 140.04 L861.77 138.75 L862.74 137.48 L863.71 136.21 L864.69 134.95 L865.69 133.7 L866.69 132.46 L867.71 131.22 L868.74 130 L869.77 128.78 L870.82 127.58 L871.88 126.38 L872.95 125.19 L874.03 124.01 L875.12 122.84 L876.23 121.68 L877.34 120.53 L878.46 119.39 L879.59 118.26 L880.73 117.13 L881.89 116.02 L883.05 114.92 L884.22 113.83 L885.4 112.75 L886.59 111.67 L887.79 110.61 L889 109.56 L890.22 108.52" fill="none" stroke="#111" stroke-width="1.9"/>
<path d="M845.76 162.66L843.41 161.47M848.6 157.46L847.27 156.73M851.6 152.35L850.3 151.58M854.77 147.34L853.49 146.53M858.11 142.44L856.85 141.58M861.6 137.64L859.48 136.09M865.25 132.95L864.05 132.02M869.05 128.39L867.89 127.42M873 123.95L871.87 122.94M877.09 119.63L875.99 118.59M881.32 115.45L879.48 113.58M885.69 111.4L884.66 110.29" stroke="#111" stroke-width="1.1" fill="none"/>
<text x="842.43" y="159.86" transform="rotate(297.6 842.43 159.86)" font-size="4.6" fill="#111" text-anchor="middle" dominant-baseline="middle">2250kb</text>
<text x="858.77" y="134.35" transform="rotate(306.85 858.77 134.35)" font-size="4.6" fill="#111" text-anchor="middle" dominant-baseline="middle">2500kb</text>
<path d="M866.64 173.26 L866.69 172.35 L867.02 171.57 L867.48 170.86 L868.54 170.48 L868.39 169.44 L869.14 168.89 L868.87 167.79 L869.69 167.28 L870.01 166.49 L870.32 165.7 L870.34 164.74 L871.62 164.52 L872.05 163.79 L871.93 162.74 L873.05 162.44 L873.56 161.76 L873.06 160.47 L873.54 159.77 L874.74 159.54 L874.71 158.51 L874.87 157.61 L875.21 156.82 L875.67 156.11 L876.65 155.76 L876.96 154.94 L878.05 154.67 L878.52 153.97 L878.85 153.18 L878.82 152.12 L880.05 151.97 L880.04 150.92 L880.22 150 L881.38 149.81 L881.65 148.96 L882.25 148.36 L883.22 148.04 L883.14 146.91 L883.6 146.2 L884.07 145.49 L884.94 145.11 L885.65 144.6 L885.91 143.72 L886.83 143.39 L887.58 142.91 L887.95 142.13 L888.99 141.91 L889.52 141.26 L889.16 139.83 L890.22 139.64 L890.68 138.92 L890.98 138.06 L891.74 137.61 L891.84 136.55 L892.82 136.3 L893.16 135.47 L894.27 135.35 L898.5 138.26 L895.25 133.95 L895.77 133.29 L896.85 133.16 L897.15 132.28 L897.75 131.68 L898.13 130.86 L898.76 130.29 L899.38 129.72 L900.24 129.4 L900.73 128.68 L901.16 127.9 L901.59 127.13 L902.18 126.5 L903.41 126.61 L907.15 129.55 L904.55 125.34" fill="none" stroke="#2b2e8c" stroke-width="0.9" stroke-linejoin="round"/>
<path d="M911.38 124.36 L913.62 122.63 L915.89 120.94 L918.18 119.29 L920.51 117.68 L922.87 116.11 L925.25 114.58 L927.66 113.1 L930.1 111.66 L932.56 110.26 L935.05 108.9 L937.56 107.59 L940.1 106.32 L942.66 105.1 L945.24 103.92 L947.84 102.79 L950.46 101.7 L953.11 100.67 L955.77 99.67 L958.44 98.73 L961.14 97.83" fill="none" stroke="#f0f0f6" stroke-width="17"/>
<path d="M900.52 111.02 L903 109.1 L905.52 107.22 L908.06 105.39 L910.65 103.6 L913.26 101.86 L915.9 100.17 L918.58 98.52 L921.28 96.92 L924.01 95.37 L926.78 93.87 L929.56 92.41 L932.38 91 L935.21 89.65 L938.08 88.34 L940.96 87.09 L943.87 85.88 L946.8 84.73 L949.75 83.63 L952.72 82.58 L955.71 81.58" fill="none" stroke="#3cbdea" stroke-width="9.6"/>
<path d="M895.19 104.46 L896.45 103.47 L897.72 102.5 L899 101.53 L900.29 100.58 L901.59 99.63 L902.9 98.7 L904.21 97.78 L905.53 96.87 L906.86 95.97 L908.2 95.08 L909.55 94.21 L910.9 93.35 L912.26 92.49 L913.63 91.65 L915.01 90.82 L916.39 90.01 L917.79 89.2 L919.18 88.41 L920.59 87.63 L922 86.86 L923.42 86.1 L924.85 85.36 L926.28 84.63 L927.72 83.91 L929.16 83.2 L930.61 82.5 L932.07 81.82 L933.53 81.15 L935 80.49 L936.48 79.85 L937.96 79.22 L939.44 78.6 L940.93 77.99 L942.43 77.4 L943.93 76.82 L945.44 76.25 L946.95 75.69 L948.47 75.15 L949.99 74.62 L951.51 74.11 L953.05 73.61" fill="none" stroke="#111" stroke-width="1.9"/>
<path d="M894.68 103.84L893.03 101.81M899.42 100.22L898.5 99.02M904.27 96.76L903.4 95.53M909.24 93.45L908.41 92.2M914.31 90.3L913.52 89.02M919.49 87.32L918.19 85.06M924.75 84.5L924.05 83.17M930.11 81.85L929.45 80.5M935.56 79.37L934.94 78M941.08 77.07L940.5 75.68M946.67 74.94L945.76 72.5M952.33 73L951.85 71.57" stroke="#111" stroke-width="1.1" fill="none"/>
<text x="892.79" y="99.95" transform="rotate(321.6 892.79 99.95)" font-size="4.6" fill="#111" text-anchor="middle" dominant-baseline="middle">2250kb</text>
<text x="918.26" y="83.18" transform="rotate(330.85 918.26 83.18)" font-size="4.6" fill="#111" text-anchor="middle" dominant-baseline="middle">2500kb</text>
<path d="M912.73 126.02 L910.02 121.35 L910.68 120.83 L911.25 120.18 L911.54 119.18 L912.82 119.45 L913.22 118.58 L914.09 118.32 L914.8 117.87 L914.97 116.68 L915.92 116.54 L916.48 115.87 L917.44 115.75 L917.89 114.93 L918.55 114.39 L919.72 114.59 L920.48 114.21 L920.67 112.99 L921.87 113.24 L922.42 112.56 L922.77 111.54 L923.53 111.16 L924.77 111.52 L925.46 111.03 L926.15 110.54 L926.78 109.95 L927.63 109.72 L928.23 109.08 L928.77 108.34 L929.62 108.11 L930.39 107.75 L931.22 107.49 L932.08 107.3 L932.7 106.67 L933.38 106.15 L933.9 105.35 L934.65 104.95 L935.79 105.27 L936.16 104.17 L938.64 107.1 L937.75 103.55 L938.78 103.71 L939.12 102.49 L939.99 102.32 L940.6 101.64 L941.51 101.58 L944.02 104.91 L943.23 101.25 L943.79 100.43 L944.73 100.44 L945.69 100.52 L946.24 99.67 L947.27 99.91 L948.86 101.48 L948.45 98.35 L949.51 98.67 L950.23 98.2 L950.8 97.35 L951.51 96.84 L952.53 97.09 L953.36 96.87 L954.2 96.7 L954.81 95.9 L955.68 95.82 L956.34 95.14 L957.15 94.87 L958.32 95.63 L958.74 94.23 L959.53 93.91" fill="none" stroke="#2b2e8c" stroke-width="0.9" stroke-linejoin="round"/>
<path d="M966.44 96.21 L969.23 95.44 L972.04 94.72 L974.87 94.05 L977.7 93.43 L980.54 92.86 L983.4 92.34 L986.26 91.87 L989.14 91.46 L992.02 91.1 L994.9 90.78 L997.79 90.52 L1000.69 90.32 L1003.59 90.16" fill="none" stroke="#f0f0f6" stroke-width="17"/>
<path d="M961.59 79.79 L964.69 78.94 L967.81 78.14 L970.94 77.39 L974.08 76.7 L977.24 76.07 L980.41 75.5 L983.58 74.98 L986.77 74.52 L989.96 74.12 L993.16 73.77 L996.37 73.48 L999.58 73.25 L1002.8 73.08" fill="none" stroke="#3cbdea" stroke-width="9.6"/>
<path d="M959.21 71.73 L960.77 71.29 L962.34 70.86 L963.91 70.45 L965.49 70.05 L967.06 69.66 L968.65 69.29 L970.23 68.93 L971.82 68.59 L973.41 68.26 L975 67.94 L976.6 67.64 L978.2 67.35 L979.8 67.08 L981.4 66.81 L983.01 66.57 L984.62 66.33 L986.23 66.11 L987.84 65.91 L989.45 65.72 L991.07 65.54 L992.68 65.38 L994.3 65.23 L995.92 65.09 L997.54 64.97 L999.17 64.86 L1000.79 64.77 L1002.41 64.69" fill="none" stroke="#111" stroke-width="1.9"/>
<path d="M958.98 70.96L958.25 68.46M964.77 69.4L964.39 67.95M970.6 68.03L970.27 66.57M976.48 66.85L976.19 65.37M982.39 65.85L982.15 64.37M988.33 65.04L988.01 62.46M994.29 64.42L994.15 62.93M1000.27 63.99L1000.18 62.5" stroke="#111" stroke-width="1.1" fill="none"/>
<text x="958.75" y="66.65" transform="rotate(344.1 958.75 66.65)" font-size="4.6" fill="#111" text-anchor="middle" dominant-baseline="middle">2250kb</text>
<text x="988.8" y="60.76" transform="rotate(353.35 988.8 60.76)" font-size="4.6" fill="#111" text-anchor="middle" dominant-baseline="middle">2500kb</text>
<path d="M965.28 92.29 L966.33 92.85 L967.2 92.8 L968.03 92.61 L970.02 96.7 L970.83 96.56 L970.43 91.73 L971.13 91.06 L971.89 90.57 L972.83 90.84 L973.79 91.21 L974.49 90.48 L975.47 90.92 L976.28 90.69 L976.93 89.69 L977.69 89.15 L978.67 89.64 L979.43 89.1 L980.26 88.92 L981.23 89.47 L982.05 89.24 L982.83 88.78 L983.65 88.5 L984.43 88.03 L985.38 88.51 L986.88 92.67 L987.06 88.27 L987.91 88.2 L988.69 87.63 L989.58 87.84 L991.22 93.95 L991.35 88.34 L992.21 88.38 L992.96 87.45 L993.86 87.84 L994.75 88.23 L995.5 87.23 L996.34 87.02 L997.28 88.04 L998.09 87.53 L998.92 87.3 L999.8 87.64 L1000.62 87.31 L1001.47 87.29 L1002.32 87.32 L1003.17 87.33" fill="none" stroke="#2b2e8c" stroke-width="0.9" stroke-linejoin="round"/>
<path d="M1009.13 90.01 L1011.96 90 L1014.79 90.05 L1017.61 90.14 L1020.43 90.29 L1023.25 90.48 L1026.06 90.72 L1028.87 91.01 L1031.68 91.36 L1034.48 91.74 L1037.27 92.18 L1040.05 92.67" fill="none" stroke="#f0f0f6" stroke-width="17"/>
<path d="M1008.95 72.91 L1012.09 72.9 L1015.22 72.95 L1018.35 73.06 L1021.48 73.22 L1024.61 73.43 L1027.73 73.7 L1030.85 74.03 L1033.96 74.4 L1037.06 74.84 L1040.16 75.32 L1043.24 75.86" fill="none" stroke="#3cbdea" stroke-width="9.6"/>
<path d="M1008.86 64.51 L1010.51 64.5 L1012.15 64.5 L1013.79 64.52 L1015.44 64.56 L1017.08 64.6 L1018.72 64.67 L1020.36 64.74 L1022 64.83 L1023.64 64.94 L1025.28 65.06 L1026.92 65.19 L1028.55 65.34 L1030.19 65.5 L1031.82 65.68 L1033.45 65.87 L1035.08 66.08 L1036.71 66.3 L1038.33 66.53 L1039.96 66.78 L1041.58 67.04 L1043.2 67.32 L1044.81 67.61" fill="none" stroke="#111" stroke-width="1.9"/>
<path d="M1008.86 63.71L1008.83 61.11M1014.85 63.74L1014.88 62.24M1020.84 63.97L1020.93 62.47M1026.83 64.38L1026.96 62.89M1032.79 64.99L1032.97 63.5M1038.73 65.78L1039.13 63.21M1044.65 66.76L1044.92 65.29" stroke="#111" stroke-width="1.1" fill="none"/>
<text x="1009.81" y="59.5" transform="rotate(359.7 1009.81 59.5)" font-size="4.6" fill="#111" text-anchor="middle" dominant-baseline="middle">2250kb</text>
<path d="M1009.09 86.24 L1009.95 86.21 L1010.8 86.21 L1011.65 86.41 L1012.5 86.63 L1013.35 86.81 L1014.11 90.91 L1015.06 86.28 L1015.77 90.69 L1016.78 86.05 L1017.59 86.96 L1018.47 86.49 L1019.29 87 L1020.15 86.83 L1020.97 87.42 L1021.86 86.82 L1022.26 92.88 L1023.18 91.62 L1024.44 86.68 L1024.97 90.22 L1026.1 87.17 L1026.9 87.79 L1027.76 87.67 L1028.59 87.88 L1029.55 87 L1030.33 87.63 L1031.18 87.69 L1032.14 86.93 L1032.96 87.25 L1033.86 87.02 L1034.62 87.74 L1035.42 88.16 L1036.4 87.4 L1037.19 87.88 L1038.01 88.15 L1038.8 88.61 L1039.71 88.38 L1040.62 88.16" fill="none" stroke="#2b2e8c" stroke-width="0.9" stroke-linejoin="round"/>
<path d="M1045.49 93.77 L1048.27 94.41 L1051.04 95.09 L1053.8 95.83 L1056.54 96.62 L1059.27 97.45 L1061.99 98.33 L1064.69 99.26 L1067.37 100.24 L1070.03 101.26 L1072.67 102.33" fill="none" stroke="#f0f0f6" stroke-width="17"/>
<path d="M1049.28 77.08 L1052.36 77.79 L1055.44 78.55 L1058.5 79.37 L1061.54 80.24 L1064.57 81.16 L1067.58 82.14 L1070.57 83.17 L1073.55 84.26 L1076.5 85.39 L1079.43 86.58" fill="none" stroke="#3cbdea" stroke-width="9.6"/>
<path d="M1051.14 68.88 L1052.76 69.25 L1054.37 69.63 L1055.99 70.02 L1057.6 70.43 L1059.2 70.85 L1060.81 71.28 L1062.4 71.73 L1064 72.19 L1065.59 72.67 L1067.17 73.16 L1068.75 73.67 L1070.33 74.19 L1071.9 74.72 L1073.47 75.27 L1075.03 75.83 L1076.58 76.41 L1078.13 77 L1079.68 77.6 L1081.22 78.21 L1082.75 78.84" fill="none" stroke="#111" stroke-width="1.9"/>
<path d="M1051.31 68.1L1051.89 65.57M1057.14 69.48L1057.53 68.03M1062.93 71.05L1063.35 69.61M1068.65 72.8L1069.13 71.37M1074.32 74.72L1074.84 73.31M1079.92 76.83L1080.91 74.42" stroke="#111" stroke-width="1.1" fill="none"/>
<text x="1053.22" y="64.22" transform="rotate(372.9 1053.22 64.22)" font-size="4.6" fill="#111" text-anchor="middle" dominant-baseline="middle">2250kb</text>
<path d="M1046.32 90.12 L1047.19 90.11 L1047.17 93.87 L1048.84 90.56 L1049.62 90.92 L1050.32 91.64 L1051.25 91.43 L1052.19 91.22 L1052.85 92.04 L1053.9 91.42 L1054.65 91.92 L1055.37 92.5 L1056.35 92.18 L1057.13 92.55 L1057.92 92.88 L1058.89 92.66 L1059.58 93.31 L1060.3 93.85 L1061.36 93.35 L1061.99 94.15 L1063.01 93.79 L1063.53 94.91 L1062.96 99.08 L1065.33 94.94 L1066.11 95.29 L1066.71 96.12 L1067.79 95.67 L1068.6 95.93 L1069.25 96.63 L1070.13 96.72 L1070.63 97.76 L1071.67 97.47 L1072.25 98.28 L1073.14 98.36 L1073.79 99.01" fill="none" stroke="#2b2e8c" stroke-width="0.9" stroke-linejoin="round"/>
<path d="M1077.75 104.55 L1080.44 105.81 L1083.11 107.12 L1085.75 108.48 L1088.37 109.89 L1090.96 111.34 L1093.52 112.85 L1096.06 114.4 L1098.56 116" fill="none" stroke="#f0f0f6" stroke-width="17"/>
<path d="M1085.06 89.04 L1088.05 90.44 L1091.01 91.89 L1093.94 93.4 L1096.85 94.96 L1099.72 96.58 L1102.56 98.24 L1105.37 99.97 L1108.15 101.74" fill="none" stroke="#3cbdea" stroke-width="9.6"/>
<path d="M1088.65 81.42 L1090.13 82.1 L1091.6 82.8 L1093.07 83.51 L1094.53 84.23 L1095.98 84.96 L1097.43 85.71 L1098.87 86.47 L1100.3 87.24 L1101.72 88.02 L1103.14 88.82 L1104.55 89.63 L1105.96 90.45 L1107.35 91.28 L1108.74 92.13 L1110.12 92.98 L1111.49 93.85 L1112.86 94.73" fill="none" stroke="#111" stroke-width="1.9"/>
<path d="M1089 80.69L1090.11 78.33M1094.39 83.26L1095.08 81.92M1099.7 86L1100.43 84.69M1104.92 88.91L1105.7 87.62M1110.04 91.99L1110.86 90.72" stroke="#111" stroke-width="1.1" fill="none"/>
<text x="1091.69" y="77.3" transform="rotate(385.2 1091.69 77.3)" font-size="4.6" fill="#111" text-anchor="middle" dominant-baseline="middle">2250kb</text>
<path d="M1079.17 101.52 L1080.11 101.54 L1080.59 102.49 L1081.5 102.56 L1082.05 103.35 L1083.09 103.16 L1083.67 103.9 L1084.59 103.95 L1085.62 103.82 L1086.18 104.59 L1086.84 105.15 L1087.63 105.47 L1088.37 105.89 L1089.18 106.18 L1089.94 106.56 L1088.7 110.42 L1091.5 107.24 L1091.97 108.12 L1092.97 108.09 L1093.43 108.98 L1094.26 109.24 L1095.19 109.34 L1095.83 109.93 L1094.72 113.28 L1097.31 110.76 L1098.19 110.96 L1098.73 111.7 L1099.12 112.64 L1099.73 113.25" fill="none" stroke="#2b2e8c" stroke-width="0.9" stroke-linejoin="round"/>
<path d="M1103.13 119.09 L1105.78 120.99 L1108.39 122.94 L1110.95 124.95 L1113.47 127 L1115.95 129.11" fill="none" stroke="#f0f0f6" stroke-width="17"/>
<path d="M1113.22 105.17 L1116.16 107.28 L1119.05 109.44 L1121.89 111.66 L1124.69 113.94 L1127.44 116.28" fill="none" stroke="#3cbdea" stroke-width="9.6"/>
<path d="M1118.18 98.33 L1119.58 99.33 L1120.98 100.34 L1122.36 101.36 L1123.74 102.39 L1125.11 103.44 L1126.46 104.5 L1127.81 105.57 L1129.14 106.65 L1130.47 107.75 L1131.78 108.86 L1133.08 109.98" fill="none" stroke="#111" stroke-width="1.9"/>
<path d="M1118.65 97.68L1120.18 95.56M1123.48 101.18L1124.4 99.99M1128.18 104.84L1129.15 103.68M1132.77 108.64L1133.77 107.51" stroke="#111" stroke-width="1.1" fill="none"/>
<path d="M1105.12 116.34 L1105.96 116.64 L1106.91 116.77 L1105.31 120.33 L1108.17 117.93 L1108.97 118.28 L1106.15 123.31 L1109.84 119.92 L1110.5 120.45 L1111.23 120.89 L1112.04 121.23 L1113 121.39 L1113.4 122.24 L1112.3 124.88 L1114.66 123.37 L1115.12 124.13 L1113.41 127.41 L1116.75 124.83 L1117.35 125.43 L1113.86 130.63" fill="none" stroke="#2b2e8c" stroke-width="0.9" stroke-linejoin="round"/>
<path d="M1120.05 132.79 L1122.49 135.12 L1124.89 137.49 L1127.23 139.92 L1129.52 142.39" fill="none" stroke="#f0f0f6" stroke-width="17"/>
<path d="M1131.99 120.37 L1134.7 122.95 L1137.35 125.58 L1139.95 128.27 L1142.49 131.02" fill="none" stroke="#3cbdea" stroke-width="9.6"/>
<path d="M1137.85 114.26 L1139.12 115.46 L1140.38 116.66 L1141.63 117.88 L1142.86 119.11 L1144.09 120.35 L1145.3 121.6 L1146.5 122.87 L1147.69 124.14 L1148.86 125.43" fill="none" stroke="#111" stroke-width="1.9"/>
<path d="M1138.41 113.68L1140.22 111.79M1142.7 117.81L1143.78 116.75M1146.85 122.06L1147.97 121.04" stroke="#111" stroke-width="1.1" fill="none"/>
<path d="M1122.26 130.49 L1123 130.94 L1123.99 131.14 L1124.36 131.96 L1124.8 132.71 L1125.24 133.46 L1126.24 133.67 L1126.75 134.35 L1126.82 135.45 L1127.42 136.04 L1128.06 136.59 L1129.45 136.45 L1129.7 137.37 L1130.46 137.82 L1130.9 138.56 L1131.21 139.41 L1131.42 140.35" fill="none" stroke="#2b2e8c" stroke-width="0.9" stroke-linejoin="round"/>
<path d="M1134.89 148.65 L1136.89 151.16 L1138.84 153.7 L1140.73 156.29" fill="none" stroke="#f0f0f6" stroke-width="17"/>
<path d="M1148.45 137.96 L1150.67 140.74 L1152.83 143.56 L1154.93 146.43" fill="none" stroke="#3cbdea" stroke-width="9.6"/>
<path d="M1158.28 130.2L1155.9 132.08L1162.73 141.01L1165.22 139.28" fill="none" stroke="#111" stroke-width="1.6"/>
<text x="1165.07" y="132.29" font-size="4.6" fill="#333" text-anchor="middle" dominant-baseline="middle" transform="rotate(413.05 1165.07 132.29)">0kb</text>
<path d="M1137.45 146.63 L1138.52 146.87 L1139.12 147.47 L1139.06 148.58 L1140.13 148.82 L1140.76 149.41 L1140.81 150.42 L1141.54 150.94 L1141.54 151.98 L1141.84 152.79 L1143.06 152.96 L1143.33 153.8" fill="none" stroke="#2b2e8c" stroke-width="0.9" stroke-linejoin="round"/>
<path d="M1143.24 159.89 L1145.35 163.1 L1147.38 166.37" fill="none" stroke="#f0f0f6" stroke-width="17"/>
<path d="M1157.71 150.43 L1160.05 153.99 L1162.3 157.61" fill="none" stroke="#3cbdea" stroke-width="9.6"/>
<path d="M1168.2 143.57L1165.66 145.23L1170.5 152.8L1173.12 151.26" fill="none" stroke="#111" stroke-width="1.6"/>
<text x="1174.15" y="145.25" font-size="4.6" fill="#333" text-anchor="middle" dominant-baseline="middle" transform="rotate(417.8 1174.15 145.25)">0kb</text>
<path d="M1146.02 158.07 L1146.73 158.62 L1147.16 159.34 L1147.58 160.07 L1147.74 160.96 L1148.8 161.29 L1148.37 162.55 L1149.25 163 L1149.69 163.71 L1149.91 164.55" fill="none" stroke="#2b2e8c" stroke-width="0.9" stroke-linejoin="round"/>
<path d="M1148.92 168.96 L1150.67 172.06 L1152.35 175.21" fill="none" stroke="#f0f0f6" stroke-width="17"/>
<path d="M1164.01 160.49 L1165.95 163.93 L1167.81 167.42" fill="none" stroke="#3cbdea" stroke-width="9.6"/>
<path d="M1174.95 154.34L1172.3 155.83L1176.32 163.14L1179.03 161.77" fill="none" stroke="#111" stroke-width="1.6"/>
<text x="1180.61" y="156.13" font-size="4.6" fill="#333" text-anchor="middle" dominant-baseline="middle" transform="rotate(421.6 1180.61 156.13)">0kb</text>
<path d="M1152.41 167 L1152.4 167.97 L1152.82 168.7 L1153.76 169.15 L1153.37 170.31 L1154.45 170.69 L1154.78 171.47 L1155.26 172.17 L1154.83 173.33" fill="none" stroke="#2b2e8c" stroke-width="0.9" stroke-linejoin="round"/>
<path d="M1153.95 178.39 L1155.37 181.35 L1156.73 184.35" fill="none" stroke="#f0f0f6" stroke-width="17"/>
<path d="M1169.6 170.94 L1171.17 174.23 L1172.67 177.56" fill="none" stroke="#3cbdea" stroke-width="9.6"/>
<path d="M1180.94 165.55L1178.19 166.85L1181.44 173.82L1184.23 172.63" fill="none" stroke="#111" stroke-width="1.6"/>
<text x="1186.32" y="167.41" font-size="4.6" fill="#333" text-anchor="middle" dominant-baseline="middle" transform="rotate(425.4 1186.32 167.41)">0kb</text>
<path d="M1156.84 177.01 L1157.92 177.43 L1158.07 178.29 L1158.64 178.96 L1158.01 180.16 L1158.68 180.78 L1158.78 181.65 L1159.18 182.39 L1159.04 183.36" fill="none" stroke="#2b2e8c" stroke-width="0.9" stroke-linejoin="round"/>
<path d="M1158.12 187.62 L1159.14 190.16 L1160.12 192.72" fill="none" stroke="#f0f0f6" stroke-width="17"/>
<path d="M1174.22 181.19 L1175.35 184 L1176.44 186.84" fill="none" stroke="#3cbdea" stroke-width="9.6"/>
<path d="M1160.95 186.49 L1161.68 187.1 L1157.3 189.7 L1161.68 188.9 L1162.72 189.4 L1163 190.19 L1162.85 191.14" fill="none" stroke="#2b2e8c" stroke-width="0.9" stroke-linejoin="round"/>
<path d="M1161.23 195.81 L1162.86 200.74" fill="none" stroke="#f0f0f6" stroke-width="17"/>
<path d="M1177.67 190.27 L1179.47 195.74" fill="none" stroke="#3cbdea" stroke-width="9.6"/>
<path d="M1164.17 194.82 L1164.76 195.5 L1165.35 196.19 L1164.92 197.21 L1165.73 197.83 L1166.26 198.55 L1166.73 199.28" fill="none" stroke="#2b2e8c" stroke-width="0.9" stroke-linejoin="round"/>
<path d="M1163.87 204.15 L1165.01 208.37" fill="none" stroke="#f0f0f6" stroke-width="17"/>
<path d="M1180.6 199.52 L1181.86 204.21" fill="none" stroke="#3cbdea" stroke-width="9.6"/>
<path d="M1167.08 203.26 L1168.06 203.87 L1167.58 204.86 L1168.04 205.61 L1168.51 206.36 L1168.15 207.31" fill="none" stroke="#2b2e8c" stroke-width="0.9" stroke-linejoin="round"/>
<path d="M1165.91 212.09 L1166.72 215.83" fill="none" stroke="#f0f0f6" stroke-width="17"/>
<path d="M1182.86 208.33 L1183.76 212.48" fill="none" stroke="#3cbdea" stroke-width="9.6"/>
<path d="M1169.9 211.21 L1170.18 212.01 L1169.21 213.07 L1170.22 213.72 L1170.1 214.6" fill="none" stroke="#2b2e8c" stroke-width="0.9" stroke-linejoin="round"/>
<path d="M1167.48 219.86 L1167.89 222.29" fill="none" stroke="#f0f0f6" stroke-width="17"/>
<path d="M1184.6 216.95 L1185.05 219.64" fill="none" stroke="#3cbdea" stroke-width="9.6"/>
<path d="M1170.45 219.36 L1171.22 220.08 L1170.94 220.97 L1166.92 222.44" fill="none" stroke="#2b2e8c" stroke-width="0.9" stroke-linejoin="round"/>
<path d="M1168.55 226.89 L1168.78 228.78" fill="none" stroke="#f0f0f6" stroke-width="17"/>
<path d="M1185.79 224.74 L1186.04 226.85" fill="none" stroke="#3cbdea" stroke-width="9.6"/>
<path d="M1171.79 226.48 L1172.73 227.21 L1172.89 228.04" fill="none" stroke="#2b2e8c" stroke-width="0.9" stroke-linejoin="round"/>
<path d="M1169.27 233.68 L1169.38 235.04" fill="none" stroke="#f0f0f6" stroke-width="17"/>
<path d="M1186.58 232.28 L1186.7 233.79" fill="none" stroke="#3cbdea" stroke-width="9.6"/>
<path d="M1173.11 233.37 L1173.22 234.2" fill="none" stroke="#2b2e8c" stroke-width="0.9" stroke-linejoin="round"/>
<path d="M1169.66 239.95 L1169.71 241.04" fill="none" stroke="#f0f0f6" stroke-width="17"/>
<path d="M1187.02 239.23 L1187.07 240.44" fill="none" stroke="#3cbdea" stroke-width="9.6"/>
<path d="M1172.95 239.81 L1173.37 240.63" fill="none" stroke="#2b2e8c" stroke-width="0.9" stroke-linejoin="round"/>
<line x1="939.06" y1="132.61" x2="934.78" y2="125.82" stroke="#e33382" stroke-width="1.3" stroke-opacity="1"/>
<line x1="1112.67" y1="162.66" x2="1118.91" y2="157.53" stroke="#e33382" stroke-width="1.3" stroke-opacity="1"/>
<line x1="1119.66" y1="171.48" x2="1126.32" y2="166.89" stroke="#e33382" stroke-width="1.3" stroke-opacity="1"/>
<line x1="1150.95" y1="242.65" x2="1159.08" y2="242.42" stroke="#e33382" stroke-width="1.3" stroke-opacity="1"/>
<line x1="1085.98" y1="352.17" x2="1090.64" y2="358.72" stroke="#e33382" stroke-width="1.3" stroke-opacity="1"/>
<line x1="973.97" y1="146.89" x2="969.1" y2="133.74" stroke="#3a9478" stroke-width="0.6" stroke-opacity="0.4"/>
<line x1="981.96" y1="168.51" x2="977.09" y2="155.35" stroke="#7d6cb0" stroke-width="0.6" stroke-opacity="0.4"/>
<line x1="989.6" y1="189.18" x2="984.74" y2="176.02" stroke="#e39a5f" stroke-width="0.6" stroke-opacity="0.4"/>
<line x1="955.33" y1="155.64" x2="948.01" y2="143.64" stroke="#3a9478" stroke-width="0.6" stroke-opacity="0.4"/>
<line x1="967.37" y1="175.36" x2="960.04" y2="163.35" stroke="#7d6cb0" stroke-width="0.6" stroke-opacity="0.4"/>
<line x1="978.88" y1="194.21" x2="971.55" y2="182.21" stroke="#e39a5f" stroke-width="0.6" stroke-opacity="0.4"/>
<line x1="929.52" y1="176.96" x2="918.79" y2="167.77" stroke="#3a9478" stroke-width="0.6" stroke-opacity="0.4"/>
<line x1="947.16" y1="192.05" x2="936.42" y2="182.86" stroke="#7d6cb0" stroke-width="0.6" stroke-opacity="0.4"/>
<line x1="964.03" y1="206.48" x2="953.29" y2="197.3" stroke="#e39a5f" stroke-width="0.6" stroke-opacity="0.4"/>
<line x1="1081.45" y1="166.5" x2="1090.79" y2="155.93" stroke="#3a9478" stroke-width="0.6" stroke-opacity="0.4"/>
<line x1="1066.12" y1="183.86" x2="1075.46" y2="173.29" stroke="#7d6cb0" stroke-width="0.6" stroke-opacity="0.4"/>
<line x1="1051.46" y1="200.46" x2="1060.79" y2="189.9" stroke="#e39a5f" stroke-width="0.6" stroke-opacity="0.4"/>
<line x1="1091.88" y1="176.72" x2="1102.63" y2="167.55" stroke="#3a9478" stroke-width="0.6" stroke-opacity="0.4"/>
<line x1="1092.53" y1="177.48" x2="1103.28" y2="168.31" stroke="#3a9478" stroke-width="0.6" stroke-opacity="0.4"/>
<line x1="1074.21" y1="191.78" x2="1084.96" y2="182.61" stroke="#7d6cb0" stroke-width="0.6" stroke-opacity="0.4"/>
<line x1="1074.87" y1="192.53" x2="1085.62" y2="183.37" stroke="#7d6cb0" stroke-width="0.6" stroke-opacity="0.4"/>
<line x1="1057.32" y1="206.18" x2="1068.07" y2="197.02" stroke="#e39a5f" stroke-width="0.6" stroke-opacity="0.4"/>
<line x1="1057.97" y1="206.94" x2="1068.72" y2="197.77" stroke="#e39a5f" stroke-width="0.6" stroke-opacity="0.4"/>
<line x1="1097.86" y1="184.09" x2="1109.39" y2="175.9" stroke="#3a9478" stroke-width="0.6" stroke-opacity="0.4"/>
<line x1="1098.44" y1="184.9" x2="1109.98" y2="176.71" stroke="#3a9478" stroke-width="0.6" stroke-opacity="0.4"/>
<line x1="1078.9" y1="197.54" x2="1090.44" y2="189.35" stroke="#7d6cb0" stroke-width="0.6" stroke-opacity="0.4"/>
<line x1="1079.49" y1="198.35" x2="1091.02" y2="190.16" stroke="#7d6cb0" stroke-width="0.6" stroke-opacity="0.4"/>
<line x1="1060.77" y1="210.41" x2="1072.31" y2="202.22" stroke="#e39a5f" stroke-width="0.6" stroke-opacity="0.4"/>
<line x1="1061.36" y1="211.22" x2="1072.9" y2="203.03" stroke="#e39a5f" stroke-width="0.6" stroke-opacity="0.4"/>
<line x1="1118.39" y1="241.88" x2="1132.6" y2="241.27" stroke="#3a9478" stroke-width="0.6" stroke-opacity="0.4"/>
<line x1="1095.05" y1="242.88" x2="1109.26" y2="242.27" stroke="#7d6cb0" stroke-width="0.6" stroke-opacity="0.4"/>
<line x1="1072.72" y1="243.84" x2="1086.93" y2="243.23" stroke="#e39a5f" stroke-width="0.6" stroke-opacity="0.4"/>
<line x1="1118.33" y1="240.58" x2="1132.53" y2="239.8" stroke="#3a9478" stroke-width="0.6" stroke-opacity="0.4"/>
<line x1="1095" y1="241.87" x2="1109.2" y2="241.09" stroke="#7d6cb0" stroke-width="0.6" stroke-opacity="0.4"/>
<line x1="1072.68" y1="243.09" x2="1086.88" y2="242.31" stroke="#e39a5f" stroke-width="0.6" stroke-opacity="0.4"/>
<line x1="903.37" y1="253.89" x2="889.18" y2="254.87" stroke="#3a9478" stroke-width="0.6" stroke-opacity="0.4"/>
<line x1="926.68" y1="252.29" x2="912.49" y2="253.27" stroke="#7d6cb0" stroke-width="0.6" stroke-opacity="0.4"/>
<line x1="948.97" y1="250.76" x2="934.79" y2="251.73" stroke="#e39a5f" stroke-width="0.6" stroke-opacity="0.4"/>
<line x1="1046.93" y1="297.29" x2="1080.73" y2="344.8" stroke="#9a9aa8" stroke-width="0.5" stroke-opacity="0.4"/>
<line x1="974.67" y1="297.29" x2="940.87" y2="344.8" stroke="#9a9aa8" stroke-width="0.5" stroke-opacity="0.4"/>
<text x="955.1" y="238.9" font-size="12.16" fill="#1e1e1e" font-weight="bold" font-style="italic">B. thetaiotaomicron</text>
<text x="988.8" y="253.7" font-size="12.1" fill="#1e1e1e" font-weight="bold">SNP=190</text>
<rect x="56" y="481.3" width="168.15" height="247.92" fill="#a5a6a9"/>
<rect x="57.35" y="482.5" width="5.6" height="9.6" fill="#b690c9"/><rect x="57.35" y="494.8" width="5.6" height="8.4" fill="#cbcbcb"/><rect x="64.3" y="482.5" width="5.6" height="9.6" fill="#b690c9"/><rect x="64.3" y="494.8" width="5.6" height="8.4" fill="#cbcbcb"/><rect x="71.25" y="482.5" width="5.6" height="9.6" fill="#b690c9"/><rect x="71.25" y="494.8" width="5.6" height="8.4" fill="#cbcbcb"/><rect x="78.2" y="482.5" width="5.6" height="9.6" fill="#b690c9"/><rect x="78.2" y="494.8" width="5.6" height="8.4" fill="#cbcbcb"/><rect x="85.15" y="482.5" width="5.6" height="9.6" fill="#b690c9"/><rect x="85.15" y="494.8" width="5.6" height="8.4" fill="#cbcbcb"/><rect x="92.1" y="482.5" width="5.6" height="9.6" fill="#b690c9"/><rect x="92.1" y="494.8" width="5.6" height="8.4" fill="#cbcbcb"/><rect x="99.05" y="482.5" width="5.6" height="9.6" fill="#b690c9"/><rect x="99.05" y="494.8" width="5.6" height="8.4" fill="#a9a9a9"/><rect x="106" y="482.5" width="5.6" height="9.6" fill="#b690c9"/><rect x="106" y="494.8" width="5.6" height="8.4" fill="#a9a9a9"/><rect x="112.95" y="482.5" width="5.6" height="9.6" fill="#b690c9"/><rect x="112.95" y="494.8" width="5.6" height="8.4" fill="#a9a9a9"/><rect x="119.9" y="482.5" width="5.6" height="9.6" fill="#b690c9"/><rect x="119.9" y="494.8" width="5.6" height="8.4" fill="#a9a9a9"/><rect x="126.85" y="482.5" width="5.6" height="9.6" fill="#b690c9"/><rect x="126.85" y="494.8" width="5.6" height="8.4" fill="#a9a9a9"/><rect x="133.8" y="482.5" width="5.6" height="9.6" fill="#b690c9"/><rect x="133.8" y="494.8" width="5.6" height="8.4" fill="#a9a9a9"/><rect x="140.75" y="482.5" width="5.6" height="9.6" fill="#b690c9"/><rect x="140.75" y="494.8" width="5.6" height="8.4" fill="#868686"/><rect x="147.7" y="482.5" width="5.6" height="9.6" fill="#b690c9"/><rect x="147.7" y="494.8" width="5.6" height="8.4" fill="#868686"/><rect x="154.65" y="482.5" width="5.6" height="9.6" fill="#b690c9"/><rect x="154.65" y="494.8" width="5.6" height="8.4" fill="#868686"/><rect x="161.6" y="482.5" width="5.6" height="9.6" fill="#b690c9"/><rect x="161.6" y="494.8" width="5.6" height="8.4" fill="#868686"/><rect x="168.55" y="482.5" width="5.6" height="9.6" fill="#b690c9"/><rect x="168.55" y="494.8" width="5.6" height="8.4" fill="#868686"/><rect x="175.5" y="482.5" width="5.6" height="9.6" fill="#b690c9"/><rect x="175.5" y="494.8" width="5.6" height="8.4" fill="#868686"/><rect x="182.45" y="482.5" width="5.6" height="9.6" fill="#b690c9"/><rect x="182.45" y="494.8" width="5.6" height="8.4" fill="#3a3a3c"/><rect x="189.4" y="482.5" width="5.6" height="9.6" fill="#b690c9"/><rect x="189.4" y="494.8" width="5.6" height="8.4" fill="#3a3a3c"/><rect x="196.35" y="482.5" width="5.6" height="9.6" fill="#b690c9"/><rect x="196.35" y="494.8" width="5.6" height="8.4" fill="#3a3a3c"/><rect x="203.3" y="482.5" width="5.6" height="9.6" fill="#b690c9"/><rect x="203.3" y="494.8" width="5.6" height="8.4" fill="#3a3a3c"/><rect x="210.25" y="482.5" width="5.6" height="9.6" fill="#b690c9"/><rect x="210.25" y="494.8" width="5.6" height="8.4" fill="#3a3a3c"/><rect x="217.2" y="482.5" width="5.6" height="9.6" fill="#b690c9"/><rect x="217.2" y="494.8" width="5.6" height="8.4" fill="#3a3a3c"/>
<path d="M64.3 506.9h5.6v5.95h-5.6zM71.25 506.9h5.6v5.95h-5.6zM78.2 506.9h5.6v5.95h-5.6zM99.05 506.9h5.6v5.95h-5.6zM106 506.9h5.6v5.95h-5.6zM112.95 506.9h5.6v5.95h-5.6zM119.9 506.9h5.6v5.95h-5.6zM126.85 506.9h5.6v5.95h-5.6zM147.7 506.9h5.6v5.95h-5.6zM154.65 506.9h5.6v5.95h-5.6zM161.6 506.9h5.6v5.95h-5.6zM168.55 506.9h5.6v5.95h-5.6zM189.4 506.9h5.6v5.95h-5.6zM196.35 506.9h5.6v5.95h-5.6zM203.3 506.9h5.6v5.95h-5.6zM210.25 506.9h5.6v5.95h-5.6zM217.2 506.9h5.6v5.95h-5.6zM57.35 514.81h5.6v5.95h-5.6zM64.3 514.81h5.6v5.95h-5.6zM78.2 514.81h5.6v5.95h-5.6zM85.15 514.81h5.6v5.95h-5.6zM112.95 514.81h5.6v5.95h-5.6zM119.9 514.81h5.6v5.95h-5.6zM126.85 514.81h5.6v5.95h-5.6zM140.75 514.81h5.6v5.95h-5.6zM147.7 514.81h5.6v5.95h-5.6zM154.65 514.81h5.6v5.95h-5.6zM161.6 514.81h5.6v5.95h-5.6zM168.55 514.81h5.6v5.95h-5.6zM175.5 514.81h5.6v5.95h-5.6zM182.45 514.81h5.6v5.95h-5.6zM189.4 514.81h5.6v5.95h-5.6zM196.35 514.81h5.6v5.95h-5.6zM203.3 514.81h5.6v5.95h-5.6zM210.25 514.81h5.6v5.95h-5.6zM217.2 514.81h5.6v5.95h-5.6zM57.35 522.73h5.6v5.95h-5.6zM78.2 522.73h5.6v5.95h-5.6zM85.15 522.73h5.6v5.95h-5.6zM99.05 522.73h5.6v5.95h-5.6zM112.95 522.73h5.6v5.95h-5.6zM119.9 522.73h5.6v5.95h-5.6zM140.75 522.73h5.6v5.95h-5.6zM147.7 522.73h5.6v5.95h-5.6zM154.65 522.73h5.6v5.95h-5.6zM168.55 522.73h5.6v5.95h-5.6zM175.5 522.73h5.6v5.95h-5.6zM182.45 522.73h5.6v5.95h-5.6zM189.4 522.73h5.6v5.95h-5.6zM203.3 522.73h5.6v5.95h-5.6zM210.25 522.73h5.6v5.95h-5.6zM64.3 530.64h5.6v5.95h-5.6zM71.25 530.64h5.6v5.95h-5.6zM78.2 530.64h5.6v5.95h-5.6zM85.15 530.64h5.6v5.95h-5.6zM92.1 530.64h5.6v5.95h-5.6zM99.05 530.64h5.6v5.95h-5.6zM112.95 530.64h5.6v5.95h-5.6zM119.9 530.64h5.6v5.95h-5.6zM126.85 530.64h5.6v5.95h-5.6zM147.7 530.64h5.6v5.95h-5.6zM154.65 530.64h5.6v5.95h-5.6zM161.6 530.64h5.6v5.95h-5.6zM168.55 530.64h5.6v5.95h-5.6zM182.45 530.64h5.6v5.95h-5.6zM64.3 538.56h5.6v5.95h-5.6zM71.25 538.56h5.6v5.95h-5.6zM78.2 538.56h5.6v5.95h-5.6zM85.15 538.56h5.6v5.95h-5.6zM92.1 538.56h5.6v5.95h-5.6zM99.05 538.56h5.6v5.95h-5.6zM106 538.56h5.6v5.95h-5.6zM112.95 538.56h5.6v5.95h-5.6zM119.9 538.56h5.6v5.95h-5.6zM126.85 538.56h5.6v5.95h-5.6zM133.8 538.56h5.6v5.95h-5.6zM140.75 538.56h5.6v5.95h-5.6zM154.65 538.56h5.6v5.95h-5.6zM161.6 538.56h5.6v5.95h-5.6zM168.55 538.56h5.6v5.95h-5.6zM175.5 538.56h5.6v5.95h-5.6zM182.45 538.56h5.6v5.95h-5.6zM196.35 538.56h5.6v5.95h-5.6zM203.3 538.56h5.6v5.95h-5.6zM210.25 538.56h5.6v5.95h-5.6zM217.2 538.56h5.6v5.95h-5.6zM64.3 546.48h5.6v5.95h-5.6zM71.25 546.48h5.6v5.95h-5.6zM78.2 546.48h5.6v5.95h-5.6zM85.15 546.48h5.6v5.95h-5.6zM92.1 546.48h5.6v5.95h-5.6zM99.05 546.48h5.6v5.95h-5.6zM112.95 546.48h5.6v5.95h-5.6zM119.9 546.48h5.6v5.95h-5.6zM126.85 546.48h5.6v5.95h-5.6zM133.8 546.48h5.6v5.95h-5.6zM147.7 546.48h5.6v5.95h-5.6zM154.65 546.48h5.6v5.95h-5.6zM161.6 546.48h5.6v5.95h-5.6zM168.55 546.48h5.6v5.95h-5.6zM175.5 546.48h5.6v5.95h-5.6zM182.45 546.48h5.6v5.95h-5.6zM189.4 546.48h5.6v5.95h-5.6zM196.35 546.48h5.6v5.95h-5.6zM203.3 546.48h5.6v5.95h-5.6zM210.25 546.48h5.6v5.95h-5.6zM217.2 546.48h5.6v5.95h-5.6zM57.35 554.39h5.6v5.95h-5.6zM71.25 554.39h5.6v5.95h-5.6zM78.2 554.39h5.6v5.95h-5.6zM85.15 554.39h5.6v5.95h-5.6zM92.1 554.39h5.6v5.95h-5.6zM106 554.39h5.6v5.95h-5.6zM112.95 554.39h5.6v5.95h-5.6zM133.8 554.39h5.6v5.95h-5.6zM140.75 554.39h5.6v5.95h-5.6zM154.65 554.39h5.6v5.95h-5.6zM175.5 554.39h5.6v5.95h-5.6zM196.35 554.39h5.6v5.95h-5.6zM203.3 554.39h5.6v5.95h-5.6zM217.2 554.39h5.6v5.95h-5.6zM57.35 562.3h5.6v5.95h-5.6zM71.25 562.3h5.6v5.95h-5.6zM78.2 562.3h5.6v5.95h-5.6zM92.1 562.3h5.6v5.95h-5.6zM99.05 562.3h5.6v5.95h-5.6zM106 562.3h5.6v5.95h-5.6zM112.95 562.3h5.6v5.95h-5.6zM119.9 562.3h5.6v5.95h-5.6zM126.85 562.3h5.6v5.95h-5.6zM133.8 562.3h5.6v5.95h-5.6zM140.75 562.3h5.6v5.95h-5.6zM147.7 562.3h5.6v5.95h-5.6zM154.65 562.3h5.6v5.95h-5.6zM168.55 562.3h5.6v5.95h-5.6zM175.5 562.3h5.6v5.95h-5.6zM182.45 562.3h5.6v5.95h-5.6zM189.4 562.3h5.6v5.95h-5.6zM196.35 562.3h5.6v5.95h-5.6zM203.3 562.3h5.6v5.95h-5.6zM210.25 562.3h5.6v5.95h-5.6zM217.2 562.3h5.6v5.95h-5.6zM57.35 570.22h5.6v5.95h-5.6zM64.3 570.22h5.6v5.95h-5.6zM71.25 570.22h5.6v5.95h-5.6zM78.2 570.22h5.6v5.95h-5.6zM85.15 570.22h5.6v5.95h-5.6zM92.1 570.22h5.6v5.95h-5.6zM99.05 570.22h5.6v5.95h-5.6zM106 570.22h5.6v5.95h-5.6zM112.95 570.22h5.6v5.95h-5.6zM119.9 570.22h5.6v5.95h-5.6zM126.85 570.22h5.6v5.95h-5.6zM133.8 570.22h5.6v5.95h-5.6zM140.75 570.22h5.6v5.95h-5.6zM147.7 570.22h5.6v5.95h-5.6zM154.65 570.22h5.6v5.95h-5.6zM161.6 570.22h5.6v5.95h-5.6zM168.55 570.22h5.6v5.95h-5.6zM175.5 570.22h5.6v5.95h-5.6zM182.45 570.22h5.6v5.95h-5.6zM203.3 570.22h5.6v5.95h-5.6zM210.25 570.22h5.6v5.95h-5.6zM57.35 578.13h5.6v5.95h-5.6zM64.3 578.13h5.6v5.95h-5.6zM78.2 578.13h5.6v5.95h-5.6zM85.15 578.13h5.6v5.95h-5.6zM92.1 578.13h5.6v5.95h-5.6zM99.05 578.13h5.6v5.95h-5.6zM106 578.13h5.6v5.95h-5.6zM119.9 578.13h5.6v5.95h-5.6zM133.8 578.13h5.6v5.95h-5.6zM140.75 578.13h5.6v5.95h-5.6zM147.7 578.13h5.6v5.95h-5.6zM161.6 578.13h5.6v5.95h-5.6zM168.55 578.13h5.6v5.95h-5.6zM182.45 578.13h5.6v5.95h-5.6zM203.3 578.13h5.6v5.95h-5.6zM57.35 586.05h5.6v5.95h-5.6zM85.15 586.05h5.6v5.95h-5.6zM92.1 586.05h5.6v5.95h-5.6zM112.95 586.05h5.6v5.95h-5.6zM119.9 586.05h5.6v5.95h-5.6zM140.75 586.05h5.6v5.95h-5.6zM147.7 586.05h5.6v5.95h-5.6zM154.65 586.05h5.6v5.95h-5.6zM161.6 586.05h5.6v5.95h-5.6zM182.45 586.05h5.6v5.95h-5.6zM189.4 586.05h5.6v5.95h-5.6zM203.3 586.05h5.6v5.95h-5.6zM57.35 593.96h5.6v5.95h-5.6zM71.25 593.96h5.6v5.95h-5.6zM85.15 593.96h5.6v5.95h-5.6zM92.1 593.96h5.6v5.95h-5.6zM112.95 593.96h5.6v5.95h-5.6zM119.9 593.96h5.6v5.95h-5.6zM140.75 593.96h5.6v5.95h-5.6zM147.7 593.96h5.6v5.95h-5.6zM154.65 593.96h5.6v5.95h-5.6zM161.6 593.96h5.6v5.95h-5.6zM168.55 593.96h5.6v5.95h-5.6zM175.5 593.96h5.6v5.95h-5.6zM182.45 593.96h5.6v5.95h-5.6zM189.4 593.96h5.6v5.95h-5.6zM196.35 593.96h5.6v5.95h-5.6zM203.3 593.96h5.6v5.95h-5.6zM210.25 593.96h5.6v5.95h-5.6zM57.35 601.88h5.6v5.95h-5.6zM64.3 601.88h5.6v5.95h-5.6zM71.25 601.88h5.6v5.95h-5.6zM85.15 601.88h5.6v5.95h-5.6zM92.1 601.88h5.6v5.95h-5.6zM106 601.88h5.6v5.95h-5.6zM112.95 601.88h5.6v5.95h-5.6zM119.9 601.88h5.6v5.95h-5.6zM126.85 601.88h5.6v5.95h-5.6zM133.8 601.88h5.6v5.95h-5.6zM140.75 601.88h5.6v5.95h-5.6zM147.7 601.88h5.6v5.95h-5.6zM154.65 601.88h5.6v5.95h-5.6zM161.6 601.88h5.6v5.95h-5.6zM168.55 601.88h5.6v5.95h-5.6zM175.5 601.88h5.6v5.95h-5.6zM182.45 601.88h5.6v5.95h-5.6zM189.4 601.88h5.6v5.95h-5.6zM196.35 601.88h5.6v5.95h-5.6zM203.3 601.88h5.6v5.95h-5.6zM210.25 601.88h5.6v5.95h-5.6zM57.35 609.79h5.6v5.95h-5.6zM64.3 609.79h5.6v5.95h-5.6zM71.25 609.79h5.6v5.95h-5.6zM85.15 609.79h5.6v5.95h-5.6zM92.1 609.79h5.6v5.95h-5.6zM99.05 609.79h5.6v5.95h-5.6zM106 609.79h5.6v5.95h-5.6zM112.95 609.79h5.6v5.95h-5.6zM119.9 609.79h5.6v5.95h-5.6zM126.85 609.79h5.6v5.95h-5.6zM133.8 609.79h5.6v5.95h-5.6zM140.75 609.79h5.6v5.95h-5.6zM147.7 609.79h5.6v5.95h-5.6zM154.65 609.79h5.6v5.95h-5.6zM161.6 609.79h5.6v5.95h-5.6zM168.55 609.79h5.6v5.95h-5.6zM175.5 609.79h5.6v5.95h-5.6zM182.45 609.79h5.6v5.95h-5.6zM189.4 609.79h5.6v5.95h-5.6zM196.35 609.79h5.6v5.95h-5.6zM203.3 609.79h5.6v5.95h-5.6zM210.25 609.79h5.6v5.95h-5.6zM217.2 609.79h5.6v5.95h-5.6zM57.35 617.71h5.6v5.95h-5.6zM64.3 617.71h5.6v5.95h-5.6zM71.25 617.71h5.6v5.95h-5.6zM85.15 617.71h5.6v5.95h-5.6zM92.1 617.71h5.6v5.95h-5.6zM99.05 617.71h5.6v5.95h-5.6zM106 617.71h5.6v5.95h-5.6zM112.95 617.71h5.6v5.95h-5.6zM119.9 617.71h5.6v5.95h-5.6zM126.85 617.71h5.6v5.95h-5.6zM133.8 617.71h5.6v5.95h-5.6zM140.75 617.71h5.6v5.95h-5.6zM147.7 617.71h5.6v5.95h-5.6zM154.65 617.71h5.6v5.95h-5.6zM161.6 617.71h5.6v5.95h-5.6zM168.55 617.71h5.6v5.95h-5.6zM175.5 617.71h5.6v5.95h-5.6zM182.45 617.71h5.6v5.95h-5.6zM189.4 617.71h5.6v5.95h-5.6zM196.35 617.71h5.6v5.95h-5.6zM57.35 625.62h5.6v5.95h-5.6zM64.3 625.62h5.6v5.95h-5.6zM71.25 625.62h5.6v5.95h-5.6zM78.2 625.62h5.6v5.95h-5.6zM85.15 625.62h5.6v5.95h-5.6zM92.1 625.62h5.6v5.95h-5.6zM99.05 625.62h5.6v5.95h-5.6zM106 625.62h5.6v5.95h-5.6zM112.95 625.62h5.6v5.95h-5.6zM119.9 625.62h5.6v5.95h-5.6zM126.85 625.62h5.6v5.95h-5.6zM133.8 625.62h5.6v5.95h-5.6zM140.75 625.62h5.6v5.95h-5.6zM147.7 625.62h5.6v5.95h-5.6zM154.65 625.62h5.6v5.95h-5.6zM161.6 625.62h5.6v5.95h-5.6zM168.55 625.62h5.6v5.95h-5.6zM175.5 625.62h5.6v5.95h-5.6zM182.45 625.62h5.6v5.95h-5.6zM189.4 625.62h5.6v5.95h-5.6zM217.2 625.62h5.6v5.95h-5.6zM57.35 633.54h5.6v5.95h-5.6zM64.3 633.54h5.6v5.95h-5.6zM71.25 633.54h5.6v5.95h-5.6zM78.2 633.54h5.6v5.95h-5.6zM85.15 633.54h5.6v5.95h-5.6zM92.1 633.54h5.6v5.95h-5.6zM99.05 633.54h5.6v5.95h-5.6zM112.95 633.54h5.6v5.95h-5.6zM119.9 633.54h5.6v5.95h-5.6zM126.85 633.54h5.6v5.95h-5.6zM140.75 633.54h5.6v5.95h-5.6zM147.7 633.54h5.6v5.95h-5.6zM154.65 633.54h5.6v5.95h-5.6zM161.6 633.54h5.6v5.95h-5.6zM168.55 633.54h5.6v5.95h-5.6zM182.45 633.54h5.6v5.95h-5.6zM189.4 633.54h5.6v5.95h-5.6zM196.35 633.54h5.6v5.95h-5.6zM203.3 633.54h5.6v5.95h-5.6zM210.25 633.54h5.6v5.95h-5.6zM217.2 633.54h5.6v5.95h-5.6zM57.35 641.45h5.6v5.95h-5.6zM64.3 641.45h5.6v5.95h-5.6zM71.25 641.45h5.6v5.95h-5.6zM78.2 641.45h5.6v5.95h-5.6zM85.15 641.45h5.6v5.95h-5.6zM92.1 641.45h5.6v5.95h-5.6zM99.05 641.45h5.6v5.95h-5.6zM106 641.45h5.6v5.95h-5.6zM112.95 641.45h5.6v5.95h-5.6zM119.9 641.45h5.6v5.95h-5.6zM133.8 641.45h5.6v5.95h-5.6zM140.75 641.45h5.6v5.95h-5.6zM154.65 641.45h5.6v5.95h-5.6zM161.6 641.45h5.6v5.95h-5.6zM168.55 641.45h5.6v5.95h-5.6zM175.5 641.45h5.6v5.95h-5.6zM182.45 641.45h5.6v5.95h-5.6zM189.4 641.45h5.6v5.95h-5.6zM196.35 641.45h5.6v5.95h-5.6zM203.3 641.45h5.6v5.95h-5.6zM210.25 641.45h5.6v5.95h-5.6zM217.2 641.45h5.6v5.95h-5.6zM57.35 649.37h5.6v5.95h-5.6zM64.3 649.37h5.6v5.95h-5.6zM71.25 649.37h5.6v5.95h-5.6zM85.15 649.37h5.6v5.95h-5.6zM99.05 649.37h5.6v5.95h-5.6zM106 649.37h5.6v5.95h-5.6zM112.95 649.37h5.6v5.95h-5.6zM119.9 649.37h5.6v5.95h-5.6zM126.85 649.37h5.6v5.95h-5.6zM133.8 649.37h5.6v5.95h-5.6zM140.75 649.37h5.6v5.95h-5.6zM154.65 649.37h5.6v5.95h-5.6zM161.6 649.37h5.6v5.95h-5.6zM168.55 649.37h5.6v5.95h-5.6zM175.5 649.37h5.6v5.95h-5.6zM182.45 649.37h5.6v5.95h-5.6zM189.4 649.37h5.6v5.95h-5.6zM196.35 649.37h5.6v5.95h-5.6zM203.3 649.37h5.6v5.95h-5.6zM210.25 649.37h5.6v5.95h-5.6zM217.2 649.37h5.6v5.95h-5.6zM57.35 657.28h5.6v5.95h-5.6zM64.3 657.28h5.6v5.95h-5.6zM78.2 657.28h5.6v5.95h-5.6zM85.15 657.28h5.6v5.95h-5.6zM99.05 657.28h5.6v5.95h-5.6zM106 657.28h5.6v5.95h-5.6zM112.95 657.28h5.6v5.95h-5.6zM119.9 657.28h5.6v5.95h-5.6zM126.85 657.28h5.6v5.95h-5.6zM133.8 657.28h5.6v5.95h-5.6zM154.65 657.28h5.6v5.95h-5.6zM161.6 657.28h5.6v5.95h-5.6zM168.55 657.28h5.6v5.95h-5.6zM175.5 657.28h5.6v5.95h-5.6zM182.45 657.28h5.6v5.95h-5.6zM189.4 657.28h5.6v5.95h-5.6zM196.35 657.28h5.6v5.95h-5.6zM203.3 657.28h5.6v5.95h-5.6zM210.25 657.28h5.6v5.95h-5.6zM217.2 657.28h5.6v5.95h-5.6zM57.35 665.2h5.6v5.95h-5.6zM64.3 665.2h5.6v5.95h-5.6zM78.2 665.2h5.6v5.95h-5.6zM85.15 665.2h5.6v5.95h-5.6zM99.05 665.2h5.6v5.95h-5.6zM119.9 665.2h5.6v5.95h-5.6zM126.85 665.2h5.6v5.95h-5.6zM133.8 665.2h5.6v5.95h-5.6zM140.75 665.2h5.6v5.95h-5.6zM161.6 665.2h5.6v5.95h-5.6zM168.55 665.2h5.6v5.95h-5.6zM175.5 665.2h5.6v5.95h-5.6zM182.45 665.2h5.6v5.95h-5.6zM189.4 665.2h5.6v5.95h-5.6zM196.35 665.2h5.6v5.95h-5.6zM203.3 665.2h5.6v5.95h-5.6zM210.25 665.2h5.6v5.95h-5.6zM217.2 665.2h5.6v5.95h-5.6zM57.35 673.12h5.6v5.95h-5.6zM64.3 673.12h5.6v5.95h-5.6zM71.25 673.12h5.6v5.95h-5.6zM85.15 673.12h5.6v5.95h-5.6zM92.1 673.12h5.6v5.95h-5.6zM99.05 673.12h5.6v5.95h-5.6zM106 673.12h5.6v5.95h-5.6zM112.95 673.12h5.6v5.95h-5.6zM119.9 673.12h5.6v5.95h-5.6zM126.85 673.12h5.6v5.95h-5.6zM133.8 673.12h5.6v5.95h-5.6zM140.75 673.12h5.6v5.95h-5.6zM154.65 673.12h5.6v5.95h-5.6zM161.6 673.12h5.6v5.95h-5.6zM175.5 673.12h5.6v5.95h-5.6zM182.45 673.12h5.6v5.95h-5.6zM189.4 673.12h5.6v5.95h-5.6zM196.35 673.12h5.6v5.95h-5.6zM203.3 673.12h5.6v5.95h-5.6zM210.25 673.12h5.6v5.95h-5.6zM217.2 673.12h5.6v5.95h-5.6zM57.35 681.03h5.6v5.95h-5.6zM64.3 681.03h5.6v5.95h-5.6zM71.25 681.03h5.6v5.95h-5.6zM78.2 681.03h5.6v5.95h-5.6zM85.15 681.03h5.6v5.95h-5.6zM92.1 681.03h5.6v5.95h-5.6zM99.05 681.03h5.6v5.95h-5.6zM106 681.03h5.6v5.95h-5.6zM112.95 681.03h5.6v5.95h-5.6zM119.9 681.03h5.6v5.95h-5.6zM126.85 681.03h5.6v5.95h-5.6zM133.8 681.03h5.6v5.95h-5.6zM140.75 681.03h5.6v5.95h-5.6zM147.7 681.03h5.6v5.95h-5.6zM154.65 681.03h5.6v5.95h-5.6zM161.6 681.03h5.6v5.95h-5.6zM168.55 681.03h5.6v5.95h-5.6zM175.5 681.03h5.6v5.95h-5.6zM182.45 681.03h5.6v5.95h-5.6zM189.4 681.03h5.6v5.95h-5.6zM196.35 681.03h5.6v5.95h-5.6zM203.3 681.03h5.6v5.95h-5.6zM210.25 681.03h5.6v5.95h-5.6zM217.2 681.03h5.6v5.95h-5.6zM57.35 688.94h5.6v5.95h-5.6zM64.3 688.94h5.6v5.95h-5.6zM71.25 688.94h5.6v5.95h-5.6zM78.2 688.94h5.6v5.95h-5.6zM85.15 688.94h5.6v5.95h-5.6zM92.1 688.94h5.6v5.95h-5.6zM99.05 688.94h5.6v5.95h-5.6zM106 688.94h5.6v5.95h-5.6zM112.95 688.94h5.6v5.95h-5.6zM119.9 688.94h5.6v5.95h-5.6zM126.85 688.94h5.6v5.95h-5.6zM133.8 688.94h5.6v5.95h-5.6zM140.75 688.94h5.6v5.95h-5.6zM147.7 688.94h5.6v5.95h-5.6zM154.65 688.94h5.6v5.95h-5.6zM161.6 688.94h5.6v5.95h-5.6zM168.55 688.94h5.6v5.95h-5.6zM175.5 688.94h5.6v5.95h-5.6zM182.45 688.94h5.6v5.95h-5.6zM189.4 688.94h5.6v5.95h-5.6zM196.35 688.94h5.6v5.95h-5.6zM203.3 688.94h5.6v5.95h-5.6zM210.25 688.94h5.6v5.95h-5.6zM217.2 688.94h5.6v5.95h-5.6zM57.35 696.86h5.6v5.95h-5.6zM64.3 696.86h5.6v5.95h-5.6zM71.25 696.86h5.6v5.95h-5.6zM78.2 696.86h5.6v5.95h-5.6zM85.15 696.86h5.6v5.95h-5.6zM92.1 696.86h5.6v5.95h-5.6zM99.05 696.86h5.6v5.95h-5.6zM106 696.86h5.6v5.95h-5.6zM112.95 696.86h5.6v5.95h-5.6zM119.9 696.86h5.6v5.95h-5.6zM133.8 696.86h5.6v5.95h-5.6zM140.75 696.86h5.6v5.95h-5.6zM147.7 696.86h5.6v5.95h-5.6zM154.65 696.86h5.6v5.95h-5.6zM161.6 696.86h5.6v5.95h-5.6zM175.5 696.86h5.6v5.95h-5.6zM182.45 696.86h5.6v5.95h-5.6zM189.4 696.86h5.6v5.95h-5.6zM196.35 696.86h5.6v5.95h-5.6zM203.3 696.86h5.6v5.95h-5.6zM210.25 696.86h5.6v5.95h-5.6zM217.2 696.86h5.6v5.95h-5.6zM57.35 704.77h5.6v5.95h-5.6zM64.3 704.77h5.6v5.95h-5.6zM71.25 704.77h5.6v5.95h-5.6zM78.2 704.77h5.6v5.95h-5.6zM85.15 704.77h5.6v5.95h-5.6zM92.1 704.77h5.6v5.95h-5.6zM99.05 704.77h5.6v5.95h-5.6zM106 704.77h5.6v5.95h-5.6zM112.95 704.77h5.6v5.95h-5.6zM119.9 704.77h5.6v5.95h-5.6zM126.85 704.77h5.6v5.95h-5.6zM133.8 704.77h5.6v5.95h-5.6zM154.65 704.77h5.6v5.95h-5.6zM161.6 704.77h5.6v5.95h-5.6zM168.55 704.77h5.6v5.95h-5.6zM189.4 704.77h5.6v5.95h-5.6zM196.35 704.77h5.6v5.95h-5.6zM203.3 704.77h5.6v5.95h-5.6zM217.2 704.77h5.6v5.95h-5.6zM57.35 712.69h5.6v5.95h-5.6zM64.3 712.69h5.6v5.95h-5.6zM71.25 712.69h5.6v5.95h-5.6zM92.1 712.69h5.6v5.95h-5.6zM106 712.69h5.6v5.95h-5.6zM119.9 712.69h5.6v5.95h-5.6zM133.8 712.69h5.6v5.95h-5.6zM140.75 712.69h5.6v5.95h-5.6zM154.65 712.69h5.6v5.95h-5.6zM168.55 712.69h5.6v5.95h-5.6zM175.5 712.69h5.6v5.95h-5.6zM182.45 712.69h5.6v5.95h-5.6zM189.4 712.69h5.6v5.95h-5.6zM203.3 712.69h5.6v5.95h-5.6zM210.25 712.69h5.6v5.95h-5.6zM57.35 720.61h5.6v5.95h-5.6zM64.3 720.61h5.6v5.95h-5.6zM71.25 720.61h5.6v5.95h-5.6zM92.1 720.61h5.6v5.95h-5.6zM106 720.61h5.6v5.95h-5.6zM112.95 720.61h5.6v5.95h-5.6zM119.9 720.61h5.6v5.95h-5.6zM126.85 720.61h5.6v5.95h-5.6zM133.8 720.61h5.6v5.95h-5.6zM140.75 720.61h5.6v5.95h-5.6zM154.65 720.61h5.6v5.95h-5.6zM168.55 720.61h5.6v5.95h-5.6zM175.5 720.61h5.6v5.95h-5.6zM182.45 720.61h5.6v5.95h-5.6zM189.4 720.61h5.6v5.95h-5.6zM203.3 720.61h5.6v5.95h-5.6zM210.25 720.61h5.6v5.95h-5.6zM217.2 720.61h5.6v5.95h-5.6z" fill="#fff"/>
<path d="M57.35 506.9h5.6v5.95h-5.6zM85.15 506.9h5.6v5.95h-5.6zM92.1 506.9h5.6v5.95h-5.6zM133.8 506.9h5.6v5.95h-5.6zM140.75 506.9h5.6v5.95h-5.6zM175.5 506.9h5.6v5.95h-5.6zM182.45 506.9h5.6v5.95h-5.6zM71.25 514.81h5.6v5.95h-5.6zM92.1 514.81h5.6v5.95h-5.6zM99.05 514.81h5.6v5.95h-5.6zM106 514.81h5.6v5.95h-5.6zM133.8 514.81h5.6v5.95h-5.6zM64.3 522.73h5.6v5.95h-5.6zM71.25 522.73h5.6v5.95h-5.6zM92.1 522.73h5.6v5.95h-5.6zM106 522.73h5.6v5.95h-5.6zM126.85 522.73h5.6v5.95h-5.6zM133.8 522.73h5.6v5.95h-5.6zM161.6 522.73h5.6v5.95h-5.6zM196.35 522.73h5.6v5.95h-5.6zM217.2 522.73h5.6v5.95h-5.6zM57.35 530.64h5.6v5.95h-5.6zM106 530.64h5.6v5.95h-5.6zM133.8 530.64h5.6v5.95h-5.6zM140.75 530.64h5.6v5.95h-5.6zM175.5 530.64h5.6v5.95h-5.6zM189.4 530.64h5.6v5.95h-5.6zM196.35 530.64h5.6v5.95h-5.6zM203.3 530.64h5.6v5.95h-5.6zM210.25 530.64h5.6v5.95h-5.6zM217.2 530.64h5.6v5.95h-5.6zM57.35 538.56h5.6v5.95h-5.6zM147.7 538.56h5.6v5.95h-5.6zM189.4 538.56h5.6v5.95h-5.6zM57.35 546.48h5.6v5.95h-5.6zM106 546.48h5.6v5.95h-5.6zM140.75 546.48h5.6v5.95h-5.6zM64.3 554.39h5.6v5.95h-5.6zM99.05 554.39h5.6v5.95h-5.6zM119.9 554.39h5.6v5.95h-5.6zM126.85 554.39h5.6v5.95h-5.6zM147.7 554.39h5.6v5.95h-5.6zM161.6 554.39h5.6v5.95h-5.6zM168.55 554.39h5.6v5.95h-5.6zM182.45 554.39h5.6v5.95h-5.6zM189.4 554.39h5.6v5.95h-5.6zM210.25 554.39h5.6v5.95h-5.6zM64.3 562.3h5.6v5.95h-5.6zM85.15 562.3h5.6v5.95h-5.6zM161.6 562.3h5.6v5.95h-5.6zM189.4 570.22h5.6v5.95h-5.6zM196.35 570.22h5.6v5.95h-5.6zM217.2 570.22h5.6v5.95h-5.6zM71.25 578.13h5.6v5.95h-5.6zM112.95 578.13h5.6v5.95h-5.6zM126.85 578.13h5.6v5.95h-5.6zM154.65 578.13h5.6v5.95h-5.6zM175.5 578.13h5.6v5.95h-5.6zM189.4 578.13h5.6v5.95h-5.6zM196.35 578.13h5.6v5.95h-5.6zM210.25 578.13h5.6v5.95h-5.6zM217.2 578.13h5.6v5.95h-5.6zM64.3 586.05h5.6v5.95h-5.6zM71.25 586.05h5.6v5.95h-5.6zM78.2 586.05h5.6v5.95h-5.6zM99.05 586.05h5.6v5.95h-5.6zM106 586.05h5.6v5.95h-5.6zM126.85 586.05h5.6v5.95h-5.6zM133.8 586.05h5.6v5.95h-5.6zM168.55 586.05h5.6v5.95h-5.6zM175.5 586.05h5.6v5.95h-5.6zM196.35 586.05h5.6v5.95h-5.6zM210.25 586.05h5.6v5.95h-5.6zM217.2 586.05h5.6v5.95h-5.6zM64.3 593.96h5.6v5.95h-5.6zM78.2 593.96h5.6v5.95h-5.6zM99.05 593.96h5.6v5.95h-5.6zM106 593.96h5.6v5.95h-5.6zM126.85 593.96h5.6v5.95h-5.6zM133.8 593.96h5.6v5.95h-5.6zM217.2 593.96h5.6v5.95h-5.6zM78.2 601.88h5.6v5.95h-5.6zM99.05 601.88h5.6v5.95h-5.6zM217.2 601.88h5.6v5.95h-5.6zM78.2 609.79h5.6v5.95h-5.6zM78.2 617.71h5.6v5.95h-5.6zM203.3 617.71h5.6v5.95h-5.6zM210.25 617.71h5.6v5.95h-5.6zM217.2 617.71h5.6v5.95h-5.6zM196.35 625.62h5.6v5.95h-5.6zM203.3 625.62h5.6v5.95h-5.6zM210.25 625.62h5.6v5.95h-5.6zM106 633.54h5.6v5.95h-5.6zM133.8 633.54h5.6v5.95h-5.6zM175.5 633.54h5.6v5.95h-5.6zM126.85 641.45h5.6v5.95h-5.6zM147.7 641.45h5.6v5.95h-5.6zM78.2 649.37h5.6v5.95h-5.6zM92.1 649.37h5.6v5.95h-5.6zM147.7 649.37h5.6v5.95h-5.6zM71.25 657.28h5.6v5.95h-5.6zM92.1 657.28h5.6v5.95h-5.6zM140.75 657.28h5.6v5.95h-5.6zM147.7 657.28h5.6v5.95h-5.6zM71.25 665.2h5.6v5.95h-5.6zM92.1 665.2h5.6v5.95h-5.6zM106 665.2h5.6v5.95h-5.6zM112.95 665.2h5.6v5.95h-5.6zM147.7 665.2h5.6v5.95h-5.6zM154.65 665.2h5.6v5.95h-5.6zM78.2 673.12h5.6v5.95h-5.6zM147.7 673.12h5.6v5.95h-5.6zM168.55 673.12h5.6v5.95h-5.6zM126.85 696.86h5.6v5.95h-5.6zM168.55 696.86h5.6v5.95h-5.6zM140.75 704.77h5.6v5.95h-5.6zM147.7 704.77h5.6v5.95h-5.6zM175.5 704.77h5.6v5.95h-5.6zM182.45 704.77h5.6v5.95h-5.6zM210.25 704.77h5.6v5.95h-5.6zM78.2 712.69h5.6v5.95h-5.6zM85.15 712.69h5.6v5.95h-5.6zM99.05 712.69h5.6v5.95h-5.6zM112.95 712.69h5.6v5.95h-5.6zM126.85 712.69h5.6v5.95h-5.6zM147.7 712.69h5.6v5.95h-5.6zM161.6 712.69h5.6v5.95h-5.6zM196.35 712.69h5.6v5.95h-5.6zM217.2 712.69h5.6v5.95h-5.6zM78.2 720.61h5.6v5.95h-5.6zM85.15 720.61h5.6v5.95h-5.6zM99.05 720.61h5.6v5.95h-5.6zM147.7 720.61h5.6v5.95h-5.6zM161.6 720.61h5.6v5.95h-5.6zM196.35 720.61h5.6v5.95h-5.6z" fill="#176ea8"/>
<rect x="226.2" y="481.3" width="168.15" height="247.92" fill="#a5a6a9"/>
<rect x="227.55" y="482.5" width="5.6" height="9.6" fill="#f39224"/><rect x="227.55" y="494.8" width="5.6" height="8.4" fill="#cbcbcb"/><rect x="234.5" y="482.5" width="5.6" height="9.6" fill="#f39224"/><rect x="234.5" y="494.8" width="5.6" height="8.4" fill="#cbcbcb"/><rect x="241.45" y="482.5" width="5.6" height="9.6" fill="#f39224"/><rect x="241.45" y="494.8" width="5.6" height="8.4" fill="#cbcbcb"/><rect x="248.4" y="482.5" width="5.6" height="9.6" fill="#f39224"/><rect x="248.4" y="494.8" width="5.6" height="8.4" fill="#cbcbcb"/><rect x="255.35" y="482.5" width="5.6" height="9.6" fill="#f39224"/><rect x="255.35" y="494.8" width="5.6" height="8.4" fill="#cbcbcb"/><rect x="262.3" y="482.5" width="5.6" height="9.6" fill="#f39224"/><rect x="262.3" y="494.8" width="5.6" height="8.4" fill="#cbcbcb"/><rect x="269.25" y="482.5" width="5.6" height="9.6" fill="#f39224"/><rect x="269.25" y="494.8" width="5.6" height="8.4" fill="#a9a9a9"/><rect x="276.2" y="482.5" width="5.6" height="9.6" fill="#f39224"/><rect x="276.2" y="494.8" width="5.6" height="8.4" fill="#a9a9a9"/><rect x="283.15" y="482.5" width="5.6" height="9.6" fill="#f39224"/><rect x="283.15" y="494.8" width="5.6" height="8.4" fill="#a9a9a9"/><rect x="290.1" y="482.5" width="5.6" height="9.6" fill="#f39224"/><rect x="290.1" y="494.8" width="5.6" height="8.4" fill="#a9a9a9"/><rect x="297.05" y="482.5" width="5.6" height="9.6" fill="#f39224"/><rect x="297.05" y="494.8" width="5.6" height="8.4" fill="#a9a9a9"/><rect x="304" y="482.5" width="5.6" height="9.6" fill="#f39224"/><rect x="304" y="494.8" width="5.6" height="8.4" fill="#a9a9a9"/><rect x="310.95" y="482.5" width="5.6" height="9.6" fill="#f39224"/><rect x="310.95" y="494.8" width="5.6" height="8.4" fill="#868686"/><rect x="317.9" y="482.5" width="5.6" height="9.6" fill="#f39224"/><rect x="317.9" y="494.8" width="5.6" height="8.4" fill="#868686"/><rect x="324.85" y="482.5" width="5.6" height="9.6" fill="#f39224"/><rect x="324.85" y="494.8" width="5.6" height="8.4" fill="#868686"/><rect x="331.8" y="482.5" width="5.6" height="9.6" fill="#f39224"/><rect x="331.8" y="494.8" width="5.6" height="8.4" fill="#868686"/><rect x="338.75" y="482.5" width="5.6" height="9.6" fill="#f39224"/><rect x="338.75" y="494.8" width="5.6" height="8.4" fill="#868686"/><rect x="345.7" y="482.5" width="5.6" height="9.6" fill="#f39224"/><rect x="345.7" y="494.8" width="5.6" height="8.4" fill="#868686"/><rect x="352.65" y="482.5" width="5.6" height="9.6" fill="#f39224"/><rect x="352.65" y="494.8" width="5.6" height="8.4" fill="#3a3a3c"/><rect x="359.6" y="482.5" width="5.6" height="9.6" fill="#f39224"/><rect x="359.6" y="494.8" width="5.6" height="8.4" fill="#3a3a3c"/><rect x="366.55" y="482.5" width="5.6" height="9.6" fill="#f39224"/><rect x="366.55" y="494.8" width="5.6" height="8.4" fill="#3a3a3c"/><rect x="373.5" y="482.5" width="5.6" height="9.6" fill="#f39224"/><rect x="373.5" y="494.8" width="5.6" height="8.4" fill="#3a3a3c"/><rect x="380.45" y="482.5" width="5.6" height="9.6" fill="#f39224"/><rect x="380.45" y="494.8" width="5.6" height="8.4" fill="#3a3a3c"/><rect x="387.4" y="482.5" width="5.6" height="9.6" fill="#f39224"/><rect x="387.4" y="494.8" width="5.6" height="8.4" fill="#3a3a3c"/>
<path d="M227.55 506.9h5.6v5.95h-5.6zM255.35 506.9h5.6v5.95h-5.6zM262.3 506.9h5.6v5.95h-5.6zM276.2 506.9h5.6v5.95h-5.6zM290.1 506.9h5.6v5.95h-5.6zM297.05 506.9h5.6v5.95h-5.6zM310.95 506.9h5.6v5.95h-5.6zM317.9 506.9h5.6v5.95h-5.6zM324.85 506.9h5.6v5.95h-5.6zM331.8 506.9h5.6v5.95h-5.6zM345.7 506.9h5.6v5.95h-5.6zM352.65 506.9h5.6v5.95h-5.6zM359.6 506.9h5.6v5.95h-5.6zM366.55 506.9h5.6v5.95h-5.6zM373.5 506.9h5.6v5.95h-5.6zM380.45 506.9h5.6v5.95h-5.6zM387.4 506.9h5.6v5.95h-5.6zM234.5 514.81h5.6v5.95h-5.6zM248.4 514.81h5.6v5.95h-5.6zM255.35 514.81h5.6v5.95h-5.6zM262.3 514.81h5.6v5.95h-5.6zM269.25 514.81h5.6v5.95h-5.6zM276.2 514.81h5.6v5.95h-5.6zM297.05 514.81h5.6v5.95h-5.6zM304 514.81h5.6v5.95h-5.6zM310.95 514.81h5.6v5.95h-5.6zM317.9 514.81h5.6v5.95h-5.6zM324.85 514.81h5.6v5.95h-5.6zM331.8 514.81h5.6v5.95h-5.6zM338.75 514.81h5.6v5.95h-5.6zM359.6 514.81h5.6v5.95h-5.6zM366.55 514.81h5.6v5.95h-5.6zM373.5 514.81h5.6v5.95h-5.6zM380.45 514.81h5.6v5.95h-5.6zM387.4 514.81h5.6v5.95h-5.6zM227.55 522.73h5.6v5.95h-5.6zM234.5 522.73h5.6v5.95h-5.6zM262.3 522.73h5.6v5.95h-5.6zM269.25 522.73h5.6v5.95h-5.6zM297.05 522.73h5.6v5.95h-5.6zM304 522.73h5.6v5.95h-5.6zM310.95 522.73h5.6v5.95h-5.6zM324.85 522.73h5.6v5.95h-5.6zM359.6 522.73h5.6v5.95h-5.6zM366.55 522.73h5.6v5.95h-5.6zM373.5 522.73h5.6v5.95h-5.6zM380.45 522.73h5.6v5.95h-5.6zM387.4 522.73h5.6v5.95h-5.6zM234.5 530.64h5.6v5.95h-5.6zM262.3 530.64h5.6v5.95h-5.6zM276.2 530.64h5.6v5.95h-5.6zM297.05 530.64h5.6v5.95h-5.6zM310.95 530.64h5.6v5.95h-5.6zM317.9 530.64h5.6v5.95h-5.6zM345.7 530.64h5.6v5.95h-5.6zM373.5 530.64h5.6v5.95h-5.6zM227.55 538.56h5.6v5.95h-5.6zM234.5 538.56h5.6v5.95h-5.6zM241.45 538.56h5.6v5.95h-5.6zM248.4 538.56h5.6v5.95h-5.6zM255.35 538.56h5.6v5.95h-5.6zM262.3 538.56h5.6v5.95h-5.6zM269.25 538.56h5.6v5.95h-5.6zM283.15 538.56h5.6v5.95h-5.6zM297.05 538.56h5.6v5.95h-5.6zM304 538.56h5.6v5.95h-5.6zM317.9 538.56h5.6v5.95h-5.6zM345.7 538.56h5.6v5.95h-5.6zM227.55 546.48h5.6v5.95h-5.6zM234.5 546.48h5.6v5.95h-5.6zM241.45 546.48h5.6v5.95h-5.6zM248.4 546.48h5.6v5.95h-5.6zM255.35 546.48h5.6v5.95h-5.6zM262.3 546.48h5.6v5.95h-5.6zM269.25 546.48h5.6v5.95h-5.6zM276.2 546.48h5.6v5.95h-5.6zM283.15 546.48h5.6v5.95h-5.6zM290.1 546.48h5.6v5.95h-5.6zM297.05 546.48h5.6v5.95h-5.6zM304 546.48h5.6v5.95h-5.6zM310.95 546.48h5.6v5.95h-5.6zM324.85 546.48h5.6v5.95h-5.6zM359.6 546.48h5.6v5.95h-5.6zM227.55 554.39h5.6v5.95h-5.6zM248.4 554.39h5.6v5.95h-5.6zM262.3 554.39h5.6v5.95h-5.6zM269.25 554.39h5.6v5.95h-5.6zM297.05 554.39h5.6v5.95h-5.6zM317.9 554.39h5.6v5.95h-5.6zM345.7 554.39h5.6v5.95h-5.6zM373.5 554.39h5.6v5.95h-5.6zM227.55 562.3h5.6v5.95h-5.6zM234.5 562.3h5.6v5.95h-5.6zM241.45 562.3h5.6v5.95h-5.6zM248.4 562.3h5.6v5.95h-5.6zM262.3 562.3h5.6v5.95h-5.6zM276.2 562.3h5.6v5.95h-5.6zM290.1 562.3h5.6v5.95h-5.6zM297.05 562.3h5.6v5.95h-5.6zM304 562.3h5.6v5.95h-5.6zM317.9 562.3h5.6v5.95h-5.6zM324.85 562.3h5.6v5.95h-5.6zM331.8 562.3h5.6v5.95h-5.6zM338.75 562.3h5.6v5.95h-5.6zM352.65 562.3h5.6v5.95h-5.6zM359.6 562.3h5.6v5.95h-5.6zM366.55 562.3h5.6v5.95h-5.6zM373.5 562.3h5.6v5.95h-5.6zM387.4 562.3h5.6v5.95h-5.6zM227.55 570.22h5.6v5.95h-5.6zM234.5 570.22h5.6v5.95h-5.6zM248.4 570.22h5.6v5.95h-5.6zM262.3 570.22h5.6v5.95h-5.6zM269.25 570.22h5.6v5.95h-5.6zM283.15 570.22h5.6v5.95h-5.6zM297.05 570.22h5.6v5.95h-5.6zM304 570.22h5.6v5.95h-5.6zM317.9 570.22h5.6v5.95h-5.6zM324.85 570.22h5.6v5.95h-5.6zM331.8 570.22h5.6v5.95h-5.6zM338.75 570.22h5.6v5.95h-5.6zM345.7 570.22h5.6v5.95h-5.6zM352.65 570.22h5.6v5.95h-5.6zM227.55 578.13h5.6v5.95h-5.6zM234.5 578.13h5.6v5.95h-5.6zM248.4 578.13h5.6v5.95h-5.6zM262.3 578.13h5.6v5.95h-5.6zM283.15 578.13h5.6v5.95h-5.6zM297.05 578.13h5.6v5.95h-5.6zM304 578.13h5.6v5.95h-5.6zM317.9 578.13h5.6v5.95h-5.6zM324.85 578.13h5.6v5.95h-5.6zM331.8 578.13h5.6v5.95h-5.6zM338.75 578.13h5.6v5.95h-5.6zM345.7 578.13h5.6v5.95h-5.6zM352.65 578.13h5.6v5.95h-5.6zM359.6 578.13h5.6v5.95h-5.6zM234.5 586.05h5.6v5.95h-5.6zM255.35 586.05h5.6v5.95h-5.6zM262.3 586.05h5.6v5.95h-5.6zM317.9 586.05h5.6v5.95h-5.6zM324.85 586.05h5.6v5.95h-5.6zM331.8 586.05h5.6v5.95h-5.6zM338.75 586.05h5.6v5.95h-5.6zM345.7 586.05h5.6v5.95h-5.6zM352.65 586.05h5.6v5.95h-5.6zM359.6 586.05h5.6v5.95h-5.6zM366.55 586.05h5.6v5.95h-5.6zM373.5 586.05h5.6v5.95h-5.6zM380.45 586.05h5.6v5.95h-5.6zM387.4 586.05h5.6v5.95h-5.6zM227.55 593.96h5.6v5.95h-5.6zM234.5 593.96h5.6v5.95h-5.6zM241.45 593.96h5.6v5.95h-5.6zM255.35 593.96h5.6v5.95h-5.6zM262.3 593.96h5.6v5.95h-5.6zM269.25 593.96h5.6v5.95h-5.6zM276.2 593.96h5.6v5.95h-5.6zM283.15 593.96h5.6v5.95h-5.6zM290.1 593.96h5.6v5.95h-5.6zM304 593.96h5.6v5.95h-5.6zM310.95 593.96h5.6v5.95h-5.6zM317.9 593.96h5.6v5.95h-5.6zM324.85 593.96h5.6v5.95h-5.6zM331.8 593.96h5.6v5.95h-5.6zM338.75 593.96h5.6v5.95h-5.6zM345.7 593.96h5.6v5.95h-5.6zM352.65 593.96h5.6v5.95h-5.6zM359.6 593.96h5.6v5.95h-5.6zM366.55 593.96h5.6v5.95h-5.6zM380.45 593.96h5.6v5.95h-5.6zM387.4 593.96h5.6v5.95h-5.6zM227.55 601.88h5.6v5.95h-5.6zM234.5 601.88h5.6v5.95h-5.6zM241.45 601.88h5.6v5.95h-5.6zM255.35 601.88h5.6v5.95h-5.6zM262.3 601.88h5.6v5.95h-5.6zM269.25 601.88h5.6v5.95h-5.6zM290.1 601.88h5.6v5.95h-5.6zM304 601.88h5.6v5.95h-5.6zM317.9 601.88h5.6v5.95h-5.6zM324.85 601.88h5.6v5.95h-5.6zM331.8 601.88h5.6v5.95h-5.6zM338.75 601.88h5.6v5.95h-5.6zM352.65 601.88h5.6v5.95h-5.6zM359.6 601.88h5.6v5.95h-5.6zM366.55 601.88h5.6v5.95h-5.6zM373.5 601.88h5.6v5.95h-5.6zM380.45 601.88h5.6v5.95h-5.6zM387.4 601.88h5.6v5.95h-5.6zM227.55 609.79h5.6v5.95h-5.6zM234.5 609.79h5.6v5.95h-5.6zM255.35 609.79h5.6v5.95h-5.6zM262.3 609.79h5.6v5.95h-5.6zM269.25 609.79h5.6v5.95h-5.6zM290.1 609.79h5.6v5.95h-5.6zM297.05 609.79h5.6v5.95h-5.6zM304 609.79h5.6v5.95h-5.6zM310.95 609.79h5.6v5.95h-5.6zM317.9 609.79h5.6v5.95h-5.6zM324.85 609.79h5.6v5.95h-5.6zM331.8 609.79h5.6v5.95h-5.6zM338.75 609.79h5.6v5.95h-5.6zM352.65 609.79h5.6v5.95h-5.6zM359.6 609.79h5.6v5.95h-5.6zM366.55 609.79h5.6v5.95h-5.6zM373.5 609.79h5.6v5.95h-5.6zM380.45 609.79h5.6v5.95h-5.6zM387.4 609.79h5.6v5.95h-5.6zM241.45 617.71h5.6v5.95h-5.6zM248.4 617.71h5.6v5.95h-5.6zM255.35 617.71h5.6v5.95h-5.6zM262.3 617.71h5.6v5.95h-5.6zM269.25 617.71h5.6v5.95h-5.6zM276.2 617.71h5.6v5.95h-5.6zM283.15 617.71h5.6v5.95h-5.6zM290.1 617.71h5.6v5.95h-5.6zM297.05 617.71h5.6v5.95h-5.6zM310.95 617.71h5.6v5.95h-5.6zM317.9 617.71h5.6v5.95h-5.6zM324.85 617.71h5.6v5.95h-5.6zM331.8 617.71h5.6v5.95h-5.6zM338.75 617.71h5.6v5.95h-5.6zM345.7 617.71h5.6v5.95h-5.6zM352.65 617.71h5.6v5.95h-5.6zM359.6 617.71h5.6v5.95h-5.6zM366.55 617.71h5.6v5.95h-5.6zM373.5 617.71h5.6v5.95h-5.6zM380.45 617.71h5.6v5.95h-5.6zM387.4 617.71h5.6v5.95h-5.6zM227.55 625.62h5.6v5.95h-5.6zM234.5 625.62h5.6v5.95h-5.6zM241.45 625.62h5.6v5.95h-5.6zM248.4 625.62h5.6v5.95h-5.6zM255.35 625.62h5.6v5.95h-5.6zM262.3 625.62h5.6v5.95h-5.6zM269.25 625.62h5.6v5.95h-5.6zM283.15 625.62h5.6v5.95h-5.6zM290.1 625.62h5.6v5.95h-5.6zM297.05 625.62h5.6v5.95h-5.6zM310.95 625.62h5.6v5.95h-5.6zM317.9 625.62h5.6v5.95h-5.6zM331.8 625.62h5.6v5.95h-5.6zM338.75 625.62h5.6v5.95h-5.6zM345.7 625.62h5.6v5.95h-5.6zM352.65 625.62h5.6v5.95h-5.6zM366.55 625.62h5.6v5.95h-5.6zM373.5 625.62h5.6v5.95h-5.6zM380.45 625.62h5.6v5.95h-5.6zM387.4 625.62h5.6v5.95h-5.6zM227.55 633.54h5.6v5.95h-5.6zM234.5 633.54h5.6v5.95h-5.6zM255.35 633.54h5.6v5.95h-5.6zM262.3 633.54h5.6v5.95h-5.6zM269.25 633.54h5.6v5.95h-5.6zM276.2 633.54h5.6v5.95h-5.6zM283.15 633.54h5.6v5.95h-5.6zM290.1 633.54h5.6v5.95h-5.6zM297.05 633.54h5.6v5.95h-5.6zM304 633.54h5.6v5.95h-5.6zM310.95 633.54h5.6v5.95h-5.6zM317.9 633.54h5.6v5.95h-5.6zM324.85 633.54h5.6v5.95h-5.6zM331.8 633.54h5.6v5.95h-5.6zM338.75 633.54h5.6v5.95h-5.6zM352.65 633.54h5.6v5.95h-5.6zM366.55 633.54h5.6v5.95h-5.6zM373.5 633.54h5.6v5.95h-5.6zM380.45 633.54h5.6v5.95h-5.6zM387.4 633.54h5.6v5.95h-5.6zM227.55 641.45h5.6v5.95h-5.6zM241.45 641.45h5.6v5.95h-5.6zM255.35 641.45h5.6v5.95h-5.6zM262.3 641.45h5.6v5.95h-5.6zM276.2 641.45h5.6v5.95h-5.6zM283.15 641.45h5.6v5.95h-5.6zM290.1 641.45h5.6v5.95h-5.6zM297.05 641.45h5.6v5.95h-5.6zM304 641.45h5.6v5.95h-5.6zM310.95 641.45h5.6v5.95h-5.6zM317.9 641.45h5.6v5.95h-5.6zM324.85 641.45h5.6v5.95h-5.6zM331.8 641.45h5.6v5.95h-5.6zM338.75 641.45h5.6v5.95h-5.6zM345.7 641.45h5.6v5.95h-5.6zM352.65 641.45h5.6v5.95h-5.6zM366.55 641.45h5.6v5.95h-5.6zM373.5 641.45h5.6v5.95h-5.6zM380.45 641.45h5.6v5.95h-5.6zM387.4 641.45h5.6v5.95h-5.6zM227.55 649.37h5.6v5.95h-5.6zM241.45 649.37h5.6v5.95h-5.6zM248.4 649.37h5.6v5.95h-5.6zM255.35 649.37h5.6v5.95h-5.6zM262.3 649.37h5.6v5.95h-5.6zM276.2 649.37h5.6v5.95h-5.6zM283.15 649.37h5.6v5.95h-5.6zM290.1 649.37h5.6v5.95h-5.6zM297.05 649.37h5.6v5.95h-5.6zM304 649.37h5.6v5.95h-5.6zM317.9 649.37h5.6v5.95h-5.6zM324.85 649.37h5.6v5.95h-5.6zM331.8 649.37h5.6v5.95h-5.6zM338.75 649.37h5.6v5.95h-5.6zM352.65 649.37h5.6v5.95h-5.6zM366.55 649.37h5.6v5.95h-5.6zM373.5 649.37h5.6v5.95h-5.6zM380.45 649.37h5.6v5.95h-5.6zM387.4 649.37h5.6v5.95h-5.6zM227.55 657.28h5.6v5.95h-5.6zM248.4 657.28h5.6v5.95h-5.6zM255.35 657.28h5.6v5.95h-5.6zM262.3 657.28h5.6v5.95h-5.6zM269.25 657.28h5.6v5.95h-5.6zM276.2 657.28h5.6v5.95h-5.6zM283.15 657.28h5.6v5.95h-5.6zM290.1 657.28h5.6v5.95h-5.6zM297.05 657.28h5.6v5.95h-5.6zM304 657.28h5.6v5.95h-5.6zM310.95 657.28h5.6v5.95h-5.6zM317.9 657.28h5.6v5.95h-5.6zM324.85 657.28h5.6v5.95h-5.6zM331.8 657.28h5.6v5.95h-5.6zM338.75 657.28h5.6v5.95h-5.6zM345.7 657.28h5.6v5.95h-5.6zM352.65 657.28h5.6v5.95h-5.6zM359.6 657.28h5.6v5.95h-5.6zM366.55 657.28h5.6v5.95h-5.6zM373.5 657.28h5.6v5.95h-5.6zM380.45 657.28h5.6v5.95h-5.6zM387.4 657.28h5.6v5.95h-5.6zM227.55 665.2h5.6v5.95h-5.6zM234.5 665.2h5.6v5.95h-5.6zM241.45 665.2h5.6v5.95h-5.6zM248.4 665.2h5.6v5.95h-5.6zM255.35 665.2h5.6v5.95h-5.6zM269.25 665.2h5.6v5.95h-5.6zM276.2 665.2h5.6v5.95h-5.6zM283.15 665.2h5.6v5.95h-5.6zM297.05 665.2h5.6v5.95h-5.6zM304 665.2h5.6v5.95h-5.6zM310.95 665.2h5.6v5.95h-5.6zM317.9 665.2h5.6v5.95h-5.6zM324.85 665.2h5.6v5.95h-5.6zM331.8 665.2h5.6v5.95h-5.6zM338.75 665.2h5.6v5.95h-5.6zM345.7 665.2h5.6v5.95h-5.6zM352.65 665.2h5.6v5.95h-5.6zM359.6 665.2h5.6v5.95h-5.6zM366.55 665.2h5.6v5.95h-5.6zM373.5 665.2h5.6v5.95h-5.6zM380.45 665.2h5.6v5.95h-5.6zM387.4 665.2h5.6v5.95h-5.6zM227.55 673.12h5.6v5.95h-5.6zM234.5 673.12h5.6v5.95h-5.6zM241.45 673.12h5.6v5.95h-5.6zM248.4 673.12h5.6v5.95h-5.6zM255.35 673.12h5.6v5.95h-5.6zM262.3 673.12h5.6v5.95h-5.6zM269.25 673.12h5.6v5.95h-5.6zM283.15 673.12h5.6v5.95h-5.6zM290.1 673.12h5.6v5.95h-5.6zM297.05 673.12h5.6v5.95h-5.6zM304 673.12h5.6v5.95h-5.6zM310.95 673.12h5.6v5.95h-5.6zM324.85 673.12h5.6v5.95h-5.6zM331.8 673.12h5.6v5.95h-5.6zM338.75 673.12h5.6v5.95h-5.6zM345.7 673.12h5.6v5.95h-5.6zM352.65 673.12h5.6v5.95h-5.6zM359.6 673.12h5.6v5.95h-5.6zM366.55 673.12h5.6v5.95h-5.6zM373.5 673.12h5.6v5.95h-5.6zM387.4 673.12h5.6v5.95h-5.6zM227.55 681.03h5.6v5.95h-5.6zM234.5 681.03h5.6v5.95h-5.6zM248.4 681.03h5.6v5.95h-5.6zM262.3 681.03h5.6v5.95h-5.6zM269.25 681.03h5.6v5.95h-5.6zM283.15 681.03h5.6v5.95h-5.6zM290.1 681.03h5.6v5.95h-5.6zM297.05 681.03h5.6v5.95h-5.6zM304 681.03h5.6v5.95h-5.6zM310.95 681.03h5.6v5.95h-5.6zM324.85 681.03h5.6v5.95h-5.6zM331.8 681.03h5.6v5.95h-5.6zM338.75 681.03h5.6v5.95h-5.6zM352.65 681.03h5.6v5.95h-5.6zM359.6 681.03h5.6v5.95h-5.6zM366.55 681.03h5.6v5.95h-5.6zM373.5 681.03h5.6v5.95h-5.6zM380.45 681.03h5.6v5.95h-5.6zM387.4 681.03h5.6v5.95h-5.6zM227.55 688.94h5.6v5.95h-5.6zM234.5 688.94h5.6v5.95h-5.6zM241.45 688.94h5.6v5.95h-5.6zM248.4 688.94h5.6v5.95h-5.6zM255.35 688.94h5.6v5.95h-5.6zM262.3 688.94h5.6v5.95h-5.6zM276.2 688.94h5.6v5.95h-5.6zM283.15 688.94h5.6v5.95h-5.6zM290.1 688.94h5.6v5.95h-5.6zM297.05 688.94h5.6v5.95h-5.6zM304 688.94h5.6v5.95h-5.6zM317.9 688.94h5.6v5.95h-5.6zM324.85 688.94h5.6v5.95h-5.6zM331.8 688.94h5.6v5.95h-5.6zM338.75 688.94h5.6v5.95h-5.6zM345.7 688.94h5.6v5.95h-5.6zM352.65 688.94h5.6v5.95h-5.6zM359.6 688.94h5.6v5.95h-5.6zM366.55 688.94h5.6v5.95h-5.6zM373.5 688.94h5.6v5.95h-5.6zM380.45 688.94h5.6v5.95h-5.6zM387.4 688.94h5.6v5.95h-5.6zM227.55 696.86h5.6v5.95h-5.6zM234.5 696.86h5.6v5.95h-5.6zM241.45 696.86h5.6v5.95h-5.6zM248.4 696.86h5.6v5.95h-5.6zM262.3 696.86h5.6v5.95h-5.6zM283.15 696.86h5.6v5.95h-5.6zM290.1 696.86h5.6v5.95h-5.6zM297.05 696.86h5.6v5.95h-5.6zM304 696.86h5.6v5.95h-5.6zM310.95 696.86h5.6v5.95h-5.6zM317.9 696.86h5.6v5.95h-5.6zM324.85 696.86h5.6v5.95h-5.6zM331.8 696.86h5.6v5.95h-5.6zM338.75 696.86h5.6v5.95h-5.6zM345.7 696.86h5.6v5.95h-5.6zM352.65 696.86h5.6v5.95h-5.6zM359.6 696.86h5.6v5.95h-5.6zM366.55 696.86h5.6v5.95h-5.6zM373.5 696.86h5.6v5.95h-5.6zM380.45 696.86h5.6v5.95h-5.6zM387.4 696.86h5.6v5.95h-5.6zM234.5 704.77h5.6v5.95h-5.6zM241.45 704.77h5.6v5.95h-5.6zM248.4 704.77h5.6v5.95h-5.6zM255.35 704.77h5.6v5.95h-5.6zM269.25 704.77h5.6v5.95h-5.6zM276.2 704.77h5.6v5.95h-5.6zM283.15 704.77h5.6v5.95h-5.6zM297.05 704.77h5.6v5.95h-5.6zM310.95 704.77h5.6v5.95h-5.6zM317.9 704.77h5.6v5.95h-5.6zM331.8 704.77h5.6v5.95h-5.6zM338.75 704.77h5.6v5.95h-5.6zM345.7 704.77h5.6v5.95h-5.6zM359.6 704.77h5.6v5.95h-5.6zM366.55 704.77h5.6v5.95h-5.6zM373.5 704.77h5.6v5.95h-5.6zM380.45 704.77h5.6v5.95h-5.6zM387.4 704.77h5.6v5.95h-5.6zM234.5 712.69h5.6v5.95h-5.6zM241.45 712.69h5.6v5.95h-5.6zM248.4 712.69h5.6v5.95h-5.6zM255.35 712.69h5.6v5.95h-5.6zM269.25 712.69h5.6v5.95h-5.6zM276.2 712.69h5.6v5.95h-5.6zM283.15 712.69h5.6v5.95h-5.6zM290.1 712.69h5.6v5.95h-5.6zM304 712.69h5.6v5.95h-5.6zM310.95 712.69h5.6v5.95h-5.6zM317.9 712.69h5.6v5.95h-5.6zM324.85 712.69h5.6v5.95h-5.6zM331.8 712.69h5.6v5.95h-5.6zM338.75 712.69h5.6v5.95h-5.6zM345.7 712.69h5.6v5.95h-5.6zM352.65 712.69h5.6v5.95h-5.6zM359.6 712.69h5.6v5.95h-5.6zM366.55 712.69h5.6v5.95h-5.6zM373.5 712.69h5.6v5.95h-5.6zM380.45 712.69h5.6v5.95h-5.6zM387.4 712.69h5.6v5.95h-5.6zM234.5 720.61h5.6v5.95h-5.6zM241.45 720.61h5.6v5.95h-5.6zM248.4 720.61h5.6v5.95h-5.6zM255.35 720.61h5.6v5.95h-5.6zM269.25 720.61h5.6v5.95h-5.6zM276.2 720.61h5.6v5.95h-5.6zM283.15 720.61h5.6v5.95h-5.6zM290.1 720.61h5.6v5.95h-5.6zM304 720.61h5.6v5.95h-5.6zM310.95 720.61h5.6v5.95h-5.6zM317.9 720.61h5.6v5.95h-5.6zM324.85 720.61h5.6v5.95h-5.6zM331.8 720.61h5.6v5.95h-5.6zM338.75 720.61h5.6v5.95h-5.6zM345.7 720.61h5.6v5.95h-5.6zM352.65 720.61h5.6v5.95h-5.6zM359.6 720.61h5.6v5.95h-5.6zM366.55 720.61h5.6v5.95h-5.6zM373.5 720.61h5.6v5.95h-5.6zM380.45 720.61h5.6v5.95h-5.6zM387.4 720.61h5.6v5.95h-5.6z" fill="#fff"/>
<path d="M234.5 506.9h5.6v5.95h-5.6zM241.45 506.9h5.6v5.95h-5.6zM248.4 506.9h5.6v5.95h-5.6zM269.25 506.9h5.6v5.95h-5.6zM283.15 506.9h5.6v5.95h-5.6zM304 506.9h5.6v5.95h-5.6zM338.75 506.9h5.6v5.95h-5.6zM227.55 514.81h5.6v5.95h-5.6zM241.45 514.81h5.6v5.95h-5.6zM283.15 514.81h5.6v5.95h-5.6zM290.1 514.81h5.6v5.95h-5.6zM345.7 514.81h5.6v5.95h-5.6zM352.65 514.81h5.6v5.95h-5.6zM241.45 522.73h5.6v5.95h-5.6zM248.4 522.73h5.6v5.95h-5.6zM255.35 522.73h5.6v5.95h-5.6zM276.2 522.73h5.6v5.95h-5.6zM283.15 522.73h5.6v5.95h-5.6zM290.1 522.73h5.6v5.95h-5.6zM317.9 522.73h5.6v5.95h-5.6zM331.8 522.73h5.6v5.95h-5.6zM338.75 522.73h5.6v5.95h-5.6zM345.7 522.73h5.6v5.95h-5.6zM352.65 522.73h5.6v5.95h-5.6zM227.55 530.64h5.6v5.95h-5.6zM241.45 530.64h5.6v5.95h-5.6zM248.4 530.64h5.6v5.95h-5.6zM255.35 530.64h5.6v5.95h-5.6zM269.25 530.64h5.6v5.95h-5.6zM283.15 530.64h5.6v5.95h-5.6zM290.1 530.64h5.6v5.95h-5.6zM304 530.64h5.6v5.95h-5.6zM324.85 530.64h5.6v5.95h-5.6zM331.8 530.64h5.6v5.95h-5.6zM338.75 530.64h5.6v5.95h-5.6zM352.65 530.64h5.6v5.95h-5.6zM359.6 530.64h5.6v5.95h-5.6zM366.55 530.64h5.6v5.95h-5.6zM380.45 530.64h5.6v5.95h-5.6zM387.4 530.64h5.6v5.95h-5.6zM276.2 538.56h5.6v5.95h-5.6zM290.1 538.56h5.6v5.95h-5.6zM310.95 538.56h5.6v5.95h-5.6zM324.85 538.56h5.6v5.95h-5.6zM331.8 538.56h5.6v5.95h-5.6zM338.75 538.56h5.6v5.95h-5.6zM352.65 538.56h5.6v5.95h-5.6zM359.6 538.56h5.6v5.95h-5.6zM366.55 538.56h5.6v5.95h-5.6zM373.5 538.56h5.6v5.95h-5.6zM380.45 538.56h5.6v5.95h-5.6zM387.4 538.56h5.6v5.95h-5.6zM317.9 546.48h5.6v5.95h-5.6zM331.8 546.48h5.6v5.95h-5.6zM338.75 546.48h5.6v5.95h-5.6zM345.7 546.48h5.6v5.95h-5.6zM352.65 546.48h5.6v5.95h-5.6zM366.55 546.48h5.6v5.95h-5.6zM373.5 546.48h5.6v5.95h-5.6zM380.45 546.48h5.6v5.95h-5.6zM387.4 546.48h5.6v5.95h-5.6zM234.5 554.39h5.6v5.95h-5.6zM241.45 554.39h5.6v5.95h-5.6zM255.35 554.39h5.6v5.95h-5.6zM276.2 554.39h5.6v5.95h-5.6zM283.15 554.39h5.6v5.95h-5.6zM290.1 554.39h5.6v5.95h-5.6zM304 554.39h5.6v5.95h-5.6zM310.95 554.39h5.6v5.95h-5.6zM324.85 554.39h5.6v5.95h-5.6zM331.8 554.39h5.6v5.95h-5.6zM338.75 554.39h5.6v5.95h-5.6zM352.65 554.39h5.6v5.95h-5.6zM359.6 554.39h5.6v5.95h-5.6zM366.55 554.39h5.6v5.95h-5.6zM380.45 554.39h5.6v5.95h-5.6zM387.4 554.39h5.6v5.95h-5.6zM255.35 562.3h5.6v5.95h-5.6zM269.25 562.3h5.6v5.95h-5.6zM283.15 562.3h5.6v5.95h-5.6zM310.95 562.3h5.6v5.95h-5.6zM345.7 562.3h5.6v5.95h-5.6zM380.45 562.3h5.6v5.95h-5.6zM241.45 570.22h5.6v5.95h-5.6zM255.35 570.22h5.6v5.95h-5.6zM276.2 570.22h5.6v5.95h-5.6zM290.1 570.22h5.6v5.95h-5.6zM310.95 570.22h5.6v5.95h-5.6zM359.6 570.22h5.6v5.95h-5.6zM366.55 570.22h5.6v5.95h-5.6zM373.5 570.22h5.6v5.95h-5.6zM380.45 570.22h5.6v5.95h-5.6zM387.4 570.22h5.6v5.95h-5.6zM241.45 578.13h5.6v5.95h-5.6zM255.35 578.13h5.6v5.95h-5.6zM269.25 578.13h5.6v5.95h-5.6zM276.2 578.13h5.6v5.95h-5.6zM290.1 578.13h5.6v5.95h-5.6zM310.95 578.13h5.6v5.95h-5.6zM366.55 578.13h5.6v5.95h-5.6zM373.5 578.13h5.6v5.95h-5.6zM380.45 578.13h5.6v5.95h-5.6zM387.4 578.13h5.6v5.95h-5.6zM227.55 586.05h5.6v5.95h-5.6zM241.45 586.05h5.6v5.95h-5.6zM248.4 586.05h5.6v5.95h-5.6zM269.25 586.05h5.6v5.95h-5.6zM276.2 586.05h5.6v5.95h-5.6zM283.15 586.05h5.6v5.95h-5.6zM290.1 586.05h5.6v5.95h-5.6zM297.05 586.05h5.6v5.95h-5.6zM304 586.05h5.6v5.95h-5.6zM310.95 586.05h5.6v5.95h-5.6zM248.4 593.96h5.6v5.95h-5.6zM297.05 593.96h5.6v5.95h-5.6zM373.5 593.96h5.6v5.95h-5.6zM248.4 601.88h5.6v5.95h-5.6zM276.2 601.88h5.6v5.95h-5.6zM283.15 601.88h5.6v5.95h-5.6zM297.05 601.88h5.6v5.95h-5.6zM310.95 601.88h5.6v5.95h-5.6zM345.7 601.88h5.6v5.95h-5.6zM241.45 609.79h5.6v5.95h-5.6zM248.4 609.79h5.6v5.95h-5.6zM276.2 609.79h5.6v5.95h-5.6zM283.15 609.79h5.6v5.95h-5.6zM345.7 609.79h5.6v5.95h-5.6zM227.55 617.71h5.6v5.95h-5.6zM234.5 617.71h5.6v5.95h-5.6zM304 617.71h5.6v5.95h-5.6zM276.2 625.62h5.6v5.95h-5.6zM304 625.62h5.6v5.95h-5.6zM324.85 625.62h5.6v5.95h-5.6zM359.6 625.62h5.6v5.95h-5.6zM241.45 633.54h5.6v5.95h-5.6zM248.4 633.54h5.6v5.95h-5.6zM345.7 633.54h5.6v5.95h-5.6zM359.6 633.54h5.6v5.95h-5.6zM234.5 641.45h5.6v5.95h-5.6zM248.4 641.45h5.6v5.95h-5.6zM269.25 641.45h5.6v5.95h-5.6zM359.6 641.45h5.6v5.95h-5.6zM234.5 649.37h5.6v5.95h-5.6zM269.25 649.37h5.6v5.95h-5.6zM310.95 649.37h5.6v5.95h-5.6zM345.7 649.37h5.6v5.95h-5.6zM359.6 649.37h5.6v5.95h-5.6zM234.5 657.28h5.6v5.95h-5.6zM241.45 657.28h5.6v5.95h-5.6zM262.3 665.2h5.6v5.95h-5.6zM290.1 665.2h5.6v5.95h-5.6zM276.2 673.12h5.6v5.95h-5.6zM317.9 673.12h5.6v5.95h-5.6zM380.45 673.12h5.6v5.95h-5.6zM241.45 681.03h5.6v5.95h-5.6zM255.35 681.03h5.6v5.95h-5.6zM276.2 681.03h5.6v5.95h-5.6zM317.9 681.03h5.6v5.95h-5.6zM345.7 681.03h5.6v5.95h-5.6zM269.25 688.94h5.6v5.95h-5.6zM310.95 688.94h5.6v5.95h-5.6zM255.35 696.86h5.6v5.95h-5.6zM269.25 696.86h5.6v5.95h-5.6zM276.2 696.86h5.6v5.95h-5.6zM227.55 704.77h5.6v5.95h-5.6zM262.3 704.77h5.6v5.95h-5.6zM290.1 704.77h5.6v5.95h-5.6zM304 704.77h5.6v5.95h-5.6zM324.85 704.77h5.6v5.95h-5.6zM352.65 704.77h5.6v5.95h-5.6zM227.55 712.69h5.6v5.95h-5.6zM262.3 712.69h5.6v5.95h-5.6zM297.05 712.69h5.6v5.95h-5.6zM227.55 720.61h5.6v5.95h-5.6zM262.3 720.61h5.6v5.95h-5.6zM297.05 720.61h5.6v5.95h-5.6z" fill="#176ea8"/>
<rect x="396.7" y="481.3" width="168.15" height="247.92" fill="#a5a6a9"/>
<rect x="398.05" y="482.5" width="5.6" height="9.6" fill="#17a27a"/><rect x="398.05" y="494.8" width="5.6" height="8.4" fill="#cbcbcb"/><rect x="405" y="482.5" width="5.6" height="9.6" fill="#17a27a"/><rect x="405" y="494.8" width="5.6" height="8.4" fill="#cbcbcb"/><rect x="411.95" y="482.5" width="5.6" height="9.6" fill="#17a27a"/><rect x="411.95" y="494.8" width="5.6" height="8.4" fill="#cbcbcb"/><rect x="418.9" y="482.5" width="5.6" height="9.6" fill="#17a27a"/><rect x="418.9" y="494.8" width="5.6" height="8.4" fill="#cbcbcb"/><rect x="425.85" y="482.5" width="5.6" height="9.6" fill="#17a27a"/><rect x="425.85" y="494.8" width="5.6" height="8.4" fill="#cbcbcb"/><rect x="432.8" y="482.5" width="5.6" height="9.6" fill="#17a27a"/><rect x="432.8" y="494.8" width="5.6" height="8.4" fill="#cbcbcb"/><rect x="439.75" y="482.5" width="5.6" height="9.6" fill="#17a27a"/><rect x="439.75" y="494.8" width="5.6" height="8.4" fill="#a9a9a9"/><rect x="446.7" y="482.5" width="5.6" height="9.6" fill="#17a27a"/><rect x="446.7" y="494.8" width="5.6" height="8.4" fill="#a9a9a9"/><rect x="453.65" y="482.5" width="5.6" height="9.6" fill="#17a27a"/><rect x="453.65" y="494.8" width="5.6" height="8.4" fill="#a9a9a9"/><rect x="460.6" y="482.5" width="5.6" height="9.6" fill="#17a27a"/><rect x="460.6" y="494.8" width="5.6" height="8.4" fill="#a9a9a9"/><rect x="467.55" y="482.5" width="5.6" height="9.6" fill="#17a27a"/><rect x="467.55" y="494.8" width="5.6" height="8.4" fill="#a9a9a9"/><rect x="474.5" y="482.5" width="5.6" height="9.6" fill="#17a27a"/><rect x="474.5" y="494.8" width="5.6" height="8.4" fill="#a9a9a9"/><rect x="481.45" y="482.5" width="5.6" height="9.6" fill="#17a27a"/><rect x="481.45" y="494.8" width="5.6" height="8.4" fill="#868686"/><rect x="488.4" y="482.5" width="5.6" height="9.6" fill="#17a27a"/><rect x="488.4" y="494.8" width="5.6" height="8.4" fill="#868686"/><rect x="495.35" y="482.5" width="5.6" height="9.6" fill="#17a27a"/><rect x="495.35" y="494.8" width="5.6" height="8.4" fill="#868686"/><rect x="502.3" y="482.5" width="5.6" height="9.6" fill="#17a27a"/><rect x="502.3" y="494.8" width="5.6" height="8.4" fill="#868686"/><rect x="509.25" y="482.5" width="5.6" height="9.6" fill="#17a27a"/><rect x="509.25" y="494.8" width="5.6" height="8.4" fill="#868686"/><rect x="516.2" y="482.5" width="5.6" height="9.6" fill="#17a27a"/><rect x="516.2" y="494.8" width="5.6" height="8.4" fill="#868686"/><rect x="523.15" y="482.5" width="5.6" height="9.6" fill="#17a27a"/><rect x="523.15" y="494.8" width="5.6" height="8.4" fill="#3a3a3c"/><rect x="530.1" y="482.5" width="5.6" height="9.6" fill="#17a27a"/><rect x="530.1" y="494.8" width="5.6" height="8.4" fill="#3a3a3c"/><rect x="537.05" y="482.5" width="5.6" height="9.6" fill="#17a27a"/><rect x="537.05" y="494.8" width="5.6" height="8.4" fill="#3a3a3c"/><rect x="544" y="482.5" width="5.6" height="9.6" fill="#17a27a"/><rect x="544" y="494.8" width="5.6" height="8.4" fill="#3a3a3c"/><rect x="550.95" y="482.5" width="5.6" height="9.6" fill="#17a27a"/><rect x="550.95" y="494.8" width="5.6" height="8.4" fill="#3a3a3c"/><rect x="557.9" y="482.5" width="5.6" height="9.6" fill="#17a27a"/><rect x="557.9" y="494.8" width="5.6" height="8.4" fill="#3a3a3c"/>
<path d="M398.05 506.9h5.6v5.95h-5.6zM405 506.9h5.6v5.95h-5.6zM411.95 506.9h5.6v5.95h-5.6zM418.9 506.9h5.6v5.95h-5.6zM425.85 506.9h5.6v5.95h-5.6zM432.8 506.9h5.6v5.95h-5.6zM439.75 506.9h5.6v5.95h-5.6zM446.7 506.9h5.6v5.95h-5.6zM453.65 506.9h5.6v5.95h-5.6zM460.6 506.9h5.6v5.95h-5.6zM467.55 506.9h5.6v5.95h-5.6zM474.5 506.9h5.6v5.95h-5.6zM488.4 506.9h5.6v5.95h-5.6zM495.35 506.9h5.6v5.95h-5.6zM509.25 506.9h5.6v5.95h-5.6zM523.15 506.9h5.6v5.95h-5.6zM530.1 506.9h5.6v5.95h-5.6zM537.05 506.9h5.6v5.95h-5.6zM550.95 506.9h5.6v5.95h-5.6zM557.9 506.9h5.6v5.95h-5.6zM398.05 514.81h5.6v5.95h-5.6zM411.95 514.81h5.6v5.95h-5.6zM418.9 514.81h5.6v5.95h-5.6zM432.8 514.81h5.6v5.95h-5.6zM439.75 514.81h5.6v5.95h-5.6zM446.7 514.81h5.6v5.95h-5.6zM453.65 514.81h5.6v5.95h-5.6zM460.6 514.81h5.6v5.95h-5.6zM467.55 514.81h5.6v5.95h-5.6zM474.5 514.81h5.6v5.95h-5.6zM495.35 514.81h5.6v5.95h-5.6zM509.25 514.81h5.6v5.95h-5.6zM523.15 514.81h5.6v5.95h-5.6zM530.1 514.81h5.6v5.95h-5.6zM537.05 514.81h5.6v5.95h-5.6zM544 514.81h5.6v5.95h-5.6zM557.9 514.81h5.6v5.95h-5.6zM398.05 522.73h5.6v5.95h-5.6zM405 522.73h5.6v5.95h-5.6zM411.95 522.73h5.6v5.95h-5.6zM418.9 522.73h5.6v5.95h-5.6zM425.85 522.73h5.6v5.95h-5.6zM439.75 522.73h5.6v5.95h-5.6zM446.7 522.73h5.6v5.95h-5.6zM453.65 522.73h5.6v5.95h-5.6zM460.6 522.73h5.6v5.95h-5.6zM467.55 522.73h5.6v5.95h-5.6zM474.5 522.73h5.6v5.95h-5.6zM488.4 522.73h5.6v5.95h-5.6zM495.35 522.73h5.6v5.95h-5.6zM502.3 522.73h5.6v5.95h-5.6zM509.25 522.73h5.6v5.95h-5.6zM530.1 522.73h5.6v5.95h-5.6zM537.05 522.73h5.6v5.95h-5.6zM544 522.73h5.6v5.95h-5.6zM550.95 522.73h5.6v5.95h-5.6zM557.9 522.73h5.6v5.95h-5.6zM398.05 530.64h5.6v5.95h-5.6zM411.95 530.64h5.6v5.95h-5.6zM418.9 530.64h5.6v5.95h-5.6zM446.7 530.64h5.6v5.95h-5.6zM453.65 530.64h5.6v5.95h-5.6zM460.6 530.64h5.6v5.95h-5.6zM467.55 530.64h5.6v5.95h-5.6zM474.5 530.64h5.6v5.95h-5.6zM488.4 530.64h5.6v5.95h-5.6zM495.35 530.64h5.6v5.95h-5.6zM509.25 530.64h5.6v5.95h-5.6zM516.2 530.64h5.6v5.95h-5.6zM530.1 530.64h5.6v5.95h-5.6zM398.05 538.56h5.6v5.95h-5.6zM405 538.56h5.6v5.95h-5.6zM411.95 538.56h5.6v5.95h-5.6zM418.9 538.56h5.6v5.95h-5.6zM425.85 538.56h5.6v5.95h-5.6zM432.8 538.56h5.6v5.95h-5.6zM439.75 538.56h5.6v5.95h-5.6zM446.7 538.56h5.6v5.95h-5.6zM453.65 538.56h5.6v5.95h-5.6zM460.6 538.56h5.6v5.95h-5.6zM467.55 538.56h5.6v5.95h-5.6zM474.5 538.56h5.6v5.95h-5.6zM481.45 538.56h5.6v5.95h-5.6zM488.4 538.56h5.6v5.95h-5.6zM495.35 538.56h5.6v5.95h-5.6zM502.3 538.56h5.6v5.95h-5.6zM509.25 538.56h5.6v5.95h-5.6zM516.2 538.56h5.6v5.95h-5.6zM523.15 538.56h5.6v5.95h-5.6zM530.1 538.56h5.6v5.95h-5.6zM544 538.56h5.6v5.95h-5.6zM550.95 538.56h5.6v5.95h-5.6zM398.05 546.48h5.6v5.95h-5.6zM405 546.48h5.6v5.95h-5.6zM411.95 546.48h5.6v5.95h-5.6zM418.9 546.48h5.6v5.95h-5.6zM425.85 546.48h5.6v5.95h-5.6zM432.8 546.48h5.6v5.95h-5.6zM439.75 546.48h5.6v5.95h-5.6zM446.7 546.48h5.6v5.95h-5.6zM453.65 546.48h5.6v5.95h-5.6zM460.6 546.48h5.6v5.95h-5.6zM467.55 546.48h5.6v5.95h-5.6zM474.5 546.48h5.6v5.95h-5.6zM481.45 546.48h5.6v5.95h-5.6zM488.4 546.48h5.6v5.95h-5.6zM495.35 546.48h5.6v5.95h-5.6zM502.3 546.48h5.6v5.95h-5.6zM509.25 546.48h5.6v5.95h-5.6zM516.2 546.48h5.6v5.95h-5.6zM523.15 546.48h5.6v5.95h-5.6zM530.1 546.48h5.6v5.95h-5.6zM537.05 546.48h5.6v5.95h-5.6zM544 546.48h5.6v5.95h-5.6zM550.95 546.48h5.6v5.95h-5.6zM398.05 554.39h5.6v5.95h-5.6zM405 554.39h5.6v5.95h-5.6zM411.95 554.39h5.6v5.95h-5.6zM418.9 554.39h5.6v5.95h-5.6zM425.85 554.39h5.6v5.95h-5.6zM432.8 554.39h5.6v5.95h-5.6zM446.7 554.39h5.6v5.95h-5.6zM474.5 554.39h5.6v5.95h-5.6zM488.4 554.39h5.6v5.95h-5.6zM502.3 554.39h5.6v5.95h-5.6zM523.15 554.39h5.6v5.95h-5.6zM530.1 554.39h5.6v5.95h-5.6zM537.05 554.39h5.6v5.95h-5.6zM557.9 554.39h5.6v5.95h-5.6zM398.05 562.3h5.6v5.95h-5.6zM405 562.3h5.6v5.95h-5.6zM411.95 562.3h5.6v5.95h-5.6zM418.9 562.3h5.6v5.95h-5.6zM425.85 562.3h5.6v5.95h-5.6zM432.8 562.3h5.6v5.95h-5.6zM439.75 562.3h5.6v5.95h-5.6zM474.5 562.3h5.6v5.95h-5.6zM481.45 562.3h5.6v5.95h-5.6zM495.35 562.3h5.6v5.95h-5.6zM502.3 562.3h5.6v5.95h-5.6zM516.2 562.3h5.6v5.95h-5.6zM523.15 562.3h5.6v5.95h-5.6zM537.05 562.3h5.6v5.95h-5.6zM544 562.3h5.6v5.95h-5.6zM557.9 562.3h5.6v5.95h-5.6zM398.05 570.22h5.6v5.95h-5.6zM405 570.22h5.6v5.95h-5.6zM411.95 570.22h5.6v5.95h-5.6zM425.85 570.22h5.6v5.95h-5.6zM432.8 570.22h5.6v5.95h-5.6zM439.75 570.22h5.6v5.95h-5.6zM453.65 570.22h5.6v5.95h-5.6zM460.6 570.22h5.6v5.95h-5.6zM467.55 570.22h5.6v5.95h-5.6zM474.5 570.22h5.6v5.95h-5.6zM488.4 570.22h5.6v5.95h-5.6zM495.35 570.22h5.6v5.95h-5.6zM502.3 570.22h5.6v5.95h-5.6zM509.25 570.22h5.6v5.95h-5.6zM523.15 570.22h5.6v5.95h-5.6zM537.05 570.22h5.6v5.95h-5.6zM544 570.22h5.6v5.95h-5.6zM550.95 570.22h5.6v5.95h-5.6zM557.9 570.22h5.6v5.95h-5.6zM398.05 578.13h5.6v5.95h-5.6zM405 578.13h5.6v5.95h-5.6zM411.95 578.13h5.6v5.95h-5.6zM418.9 578.13h5.6v5.95h-5.6zM425.85 578.13h5.6v5.95h-5.6zM432.8 578.13h5.6v5.95h-5.6zM460.6 578.13h5.6v5.95h-5.6zM474.5 578.13h5.6v5.95h-5.6zM481.45 578.13h5.6v5.95h-5.6zM495.35 578.13h5.6v5.95h-5.6zM502.3 578.13h5.6v5.95h-5.6zM509.25 578.13h5.6v5.95h-5.6zM516.2 578.13h5.6v5.95h-5.6zM523.15 578.13h5.6v5.95h-5.6zM544 578.13h5.6v5.95h-5.6zM557.9 578.13h5.6v5.95h-5.6zM405 586.05h5.6v5.95h-5.6zM411.95 586.05h5.6v5.95h-5.6zM432.8 586.05h5.6v5.95h-5.6zM481.45 586.05h5.6v5.95h-5.6zM488.4 586.05h5.6v5.95h-5.6zM509.25 586.05h5.6v5.95h-5.6zM523.15 586.05h5.6v5.95h-5.6zM530.1 586.05h5.6v5.95h-5.6zM537.05 586.05h5.6v5.95h-5.6zM544 586.05h5.6v5.95h-5.6zM550.95 586.05h5.6v5.95h-5.6zM398.05 593.96h5.6v5.95h-5.6zM405 593.96h5.6v5.95h-5.6zM411.95 593.96h5.6v5.95h-5.6zM425.85 593.96h5.6v5.95h-5.6zM432.8 593.96h5.6v5.95h-5.6zM439.75 593.96h5.6v5.95h-5.6zM453.65 593.96h5.6v5.95h-5.6zM460.6 593.96h5.6v5.95h-5.6zM467.55 593.96h5.6v5.95h-5.6zM474.5 593.96h5.6v5.95h-5.6zM481.45 593.96h5.6v5.95h-5.6zM488.4 593.96h5.6v5.95h-5.6zM495.35 593.96h5.6v5.95h-5.6zM502.3 593.96h5.6v5.95h-5.6zM509.25 593.96h5.6v5.95h-5.6zM516.2 593.96h5.6v5.95h-5.6zM530.1 593.96h5.6v5.95h-5.6zM537.05 593.96h5.6v5.95h-5.6zM544 593.96h5.6v5.95h-5.6zM550.95 593.96h5.6v5.95h-5.6zM405 601.88h5.6v5.95h-5.6zM432.8 601.88h5.6v5.95h-5.6zM460.6 601.88h5.6v5.95h-5.6zM481.45 601.88h5.6v5.95h-5.6zM488.4 601.88h5.6v5.95h-5.6zM495.35 601.88h5.6v5.95h-5.6zM502.3 601.88h5.6v5.95h-5.6zM509.25 601.88h5.6v5.95h-5.6zM516.2 601.88h5.6v5.95h-5.6zM523.15 601.88h5.6v5.95h-5.6zM530.1 601.88h5.6v5.95h-5.6zM537.05 601.88h5.6v5.95h-5.6zM544 601.88h5.6v5.95h-5.6zM550.95 601.88h5.6v5.95h-5.6zM557.9 601.88h5.6v5.95h-5.6zM398.05 609.79h5.6v5.95h-5.6zM405 609.79h5.6v5.95h-5.6zM425.85 609.79h5.6v5.95h-5.6zM432.8 609.79h5.6v5.95h-5.6zM460.6 609.79h5.6v5.95h-5.6zM481.45 609.79h5.6v5.95h-5.6zM488.4 609.79h5.6v5.95h-5.6zM495.35 609.79h5.6v5.95h-5.6zM502.3 609.79h5.6v5.95h-5.6zM509.25 609.79h5.6v5.95h-5.6zM516.2 609.79h5.6v5.95h-5.6zM523.15 609.79h5.6v5.95h-5.6zM530.1 609.79h5.6v5.95h-5.6zM537.05 609.79h5.6v5.95h-5.6zM544 609.79h5.6v5.95h-5.6zM550.95 609.79h5.6v5.95h-5.6zM557.9 609.79h5.6v5.95h-5.6zM398.05 617.71h5.6v5.95h-5.6zM411.95 617.71h5.6v5.95h-5.6zM418.9 617.71h5.6v5.95h-5.6zM439.75 617.71h5.6v5.95h-5.6zM446.7 617.71h5.6v5.95h-5.6zM453.65 617.71h5.6v5.95h-5.6zM467.55 617.71h5.6v5.95h-5.6zM474.5 617.71h5.6v5.95h-5.6zM488.4 617.71h5.6v5.95h-5.6zM502.3 617.71h5.6v5.95h-5.6zM523.15 617.71h5.6v5.95h-5.6zM530.1 617.71h5.6v5.95h-5.6zM537.05 617.71h5.6v5.95h-5.6zM544 617.71h5.6v5.95h-5.6zM550.95 617.71h5.6v5.95h-5.6zM557.9 617.71h5.6v5.95h-5.6zM398.05 625.62h5.6v5.95h-5.6zM411.95 625.62h5.6v5.95h-5.6zM425.85 625.62h5.6v5.95h-5.6zM432.8 625.62h5.6v5.95h-5.6zM439.75 625.62h5.6v5.95h-5.6zM446.7 625.62h5.6v5.95h-5.6zM453.65 625.62h5.6v5.95h-5.6zM460.6 625.62h5.6v5.95h-5.6zM467.55 625.62h5.6v5.95h-5.6zM474.5 625.62h5.6v5.95h-5.6zM481.45 625.62h5.6v5.95h-5.6zM488.4 625.62h5.6v5.95h-5.6zM495.35 625.62h5.6v5.95h-5.6zM502.3 625.62h5.6v5.95h-5.6zM509.25 625.62h5.6v5.95h-5.6zM516.2 625.62h5.6v5.95h-5.6zM523.15 625.62h5.6v5.95h-5.6zM537.05 625.62h5.6v5.95h-5.6zM544 625.62h5.6v5.95h-5.6zM550.95 625.62h5.6v5.95h-5.6zM557.9 625.62h5.6v5.95h-5.6zM398.05 633.54h5.6v5.95h-5.6zM405 633.54h5.6v5.95h-5.6zM411.95 633.54h5.6v5.95h-5.6zM418.9 633.54h5.6v5.95h-5.6zM425.85 633.54h5.6v5.95h-5.6zM432.8 633.54h5.6v5.95h-5.6zM439.75 633.54h5.6v5.95h-5.6zM446.7 633.54h5.6v5.95h-5.6zM453.65 633.54h5.6v5.95h-5.6zM460.6 633.54h5.6v5.95h-5.6zM467.55 633.54h5.6v5.95h-5.6zM474.5 633.54h5.6v5.95h-5.6zM502.3 633.54h5.6v5.95h-5.6zM530.1 633.54h5.6v5.95h-5.6zM544 633.54h5.6v5.95h-5.6zM550.95 633.54h5.6v5.95h-5.6zM557.9 633.54h5.6v5.95h-5.6zM398.05 641.45h5.6v5.95h-5.6zM411.95 641.45h5.6v5.95h-5.6zM432.8 641.45h5.6v5.95h-5.6zM439.75 641.45h5.6v5.95h-5.6zM446.7 641.45h5.6v5.95h-5.6zM453.65 641.45h5.6v5.95h-5.6zM460.6 641.45h5.6v5.95h-5.6zM467.55 641.45h5.6v5.95h-5.6zM474.5 641.45h5.6v5.95h-5.6zM481.45 641.45h5.6v5.95h-5.6zM488.4 641.45h5.6v5.95h-5.6zM523.15 641.45h5.6v5.95h-5.6zM530.1 641.45h5.6v5.95h-5.6zM544 641.45h5.6v5.95h-5.6zM550.95 641.45h5.6v5.95h-5.6zM557.9 641.45h5.6v5.95h-5.6zM398.05 649.37h5.6v5.95h-5.6zM405 649.37h5.6v5.95h-5.6zM411.95 649.37h5.6v5.95h-5.6zM418.9 649.37h5.6v5.95h-5.6zM425.85 649.37h5.6v5.95h-5.6zM432.8 649.37h5.6v5.95h-5.6zM439.75 649.37h5.6v5.95h-5.6zM446.7 649.37h5.6v5.95h-5.6zM453.65 649.37h5.6v5.95h-5.6zM467.55 649.37h5.6v5.95h-5.6zM474.5 649.37h5.6v5.95h-5.6zM481.45 649.37h5.6v5.95h-5.6zM488.4 649.37h5.6v5.95h-5.6zM523.15 649.37h5.6v5.95h-5.6zM530.1 649.37h5.6v5.95h-5.6zM544 649.37h5.6v5.95h-5.6zM550.95 649.37h5.6v5.95h-5.6zM557.9 649.37h5.6v5.95h-5.6zM398.05 657.28h5.6v5.95h-5.6zM405 657.28h5.6v5.95h-5.6zM411.95 657.28h5.6v5.95h-5.6zM418.9 657.28h5.6v5.95h-5.6zM425.85 657.28h5.6v5.95h-5.6zM439.75 657.28h5.6v5.95h-5.6zM446.7 657.28h5.6v5.95h-5.6zM453.65 657.28h5.6v5.95h-5.6zM460.6 657.28h5.6v5.95h-5.6zM467.55 657.28h5.6v5.95h-5.6zM474.5 657.28h5.6v5.95h-5.6zM488.4 657.28h5.6v5.95h-5.6zM495.35 657.28h5.6v5.95h-5.6zM502.3 657.28h5.6v5.95h-5.6zM516.2 657.28h5.6v5.95h-5.6zM523.15 657.28h5.6v5.95h-5.6zM530.1 657.28h5.6v5.95h-5.6zM544 657.28h5.6v5.95h-5.6zM557.9 657.28h5.6v5.95h-5.6zM398.05 665.2h5.6v5.95h-5.6zM411.95 665.2h5.6v5.95h-5.6zM418.9 665.2h5.6v5.95h-5.6zM425.85 665.2h5.6v5.95h-5.6zM432.8 665.2h5.6v5.95h-5.6zM439.75 665.2h5.6v5.95h-5.6zM446.7 665.2h5.6v5.95h-5.6zM453.65 665.2h5.6v5.95h-5.6zM460.6 665.2h5.6v5.95h-5.6zM467.55 665.2h5.6v5.95h-5.6zM474.5 665.2h5.6v5.95h-5.6zM481.45 665.2h5.6v5.95h-5.6zM488.4 665.2h5.6v5.95h-5.6zM495.35 665.2h5.6v5.95h-5.6zM502.3 665.2h5.6v5.95h-5.6zM516.2 665.2h5.6v5.95h-5.6zM523.15 665.2h5.6v5.95h-5.6zM530.1 665.2h5.6v5.95h-5.6zM537.05 665.2h5.6v5.95h-5.6zM544 665.2h5.6v5.95h-5.6zM557.9 665.2h5.6v5.95h-5.6zM398.05 673.12h5.6v5.95h-5.6zM405 673.12h5.6v5.95h-5.6zM411.95 673.12h5.6v5.95h-5.6zM418.9 673.12h5.6v5.95h-5.6zM425.85 673.12h5.6v5.95h-5.6zM432.8 673.12h5.6v5.95h-5.6zM439.75 673.12h5.6v5.95h-5.6zM446.7 673.12h5.6v5.95h-5.6zM453.65 673.12h5.6v5.95h-5.6zM460.6 673.12h5.6v5.95h-5.6zM467.55 673.12h5.6v5.95h-5.6zM481.45 673.12h5.6v5.95h-5.6zM488.4 673.12h5.6v5.95h-5.6zM495.35 673.12h5.6v5.95h-5.6zM509.25 673.12h5.6v5.95h-5.6zM516.2 673.12h5.6v5.95h-5.6zM523.15 673.12h5.6v5.95h-5.6zM530.1 673.12h5.6v5.95h-5.6zM537.05 673.12h5.6v5.95h-5.6zM544 673.12h5.6v5.95h-5.6zM550.95 673.12h5.6v5.95h-5.6zM557.9 673.12h5.6v5.95h-5.6zM398.05 681.03h5.6v5.95h-5.6zM405 681.03h5.6v5.95h-5.6zM411.95 681.03h5.6v5.95h-5.6zM418.9 681.03h5.6v5.95h-5.6zM425.85 681.03h5.6v5.95h-5.6zM432.8 681.03h5.6v5.95h-5.6zM439.75 681.03h5.6v5.95h-5.6zM446.7 681.03h5.6v5.95h-5.6zM453.65 681.03h5.6v5.95h-5.6zM460.6 681.03h5.6v5.95h-5.6zM467.55 681.03h5.6v5.95h-5.6zM474.5 681.03h5.6v5.95h-5.6zM495.35 681.03h5.6v5.95h-5.6zM502.3 681.03h5.6v5.95h-5.6zM509.25 681.03h5.6v5.95h-5.6zM516.2 681.03h5.6v5.95h-5.6zM523.15 681.03h5.6v5.95h-5.6zM530.1 681.03h5.6v5.95h-5.6zM537.05 681.03h5.6v5.95h-5.6zM544 681.03h5.6v5.95h-5.6zM550.95 681.03h5.6v5.95h-5.6zM557.9 681.03h5.6v5.95h-5.6zM398.05 688.94h5.6v5.95h-5.6zM411.95 688.94h5.6v5.95h-5.6zM418.9 688.94h5.6v5.95h-5.6zM425.85 688.94h5.6v5.95h-5.6zM439.75 688.94h5.6v5.95h-5.6zM446.7 688.94h5.6v5.95h-5.6zM453.65 688.94h5.6v5.95h-5.6zM460.6 688.94h5.6v5.95h-5.6zM467.55 688.94h5.6v5.95h-5.6zM474.5 688.94h5.6v5.95h-5.6zM481.45 688.94h5.6v5.95h-5.6zM495.35 688.94h5.6v5.95h-5.6zM502.3 688.94h5.6v5.95h-5.6zM509.25 688.94h5.6v5.95h-5.6zM516.2 688.94h5.6v5.95h-5.6zM523.15 688.94h5.6v5.95h-5.6zM530.1 688.94h5.6v5.95h-5.6zM537.05 688.94h5.6v5.95h-5.6zM544 688.94h5.6v5.95h-5.6zM557.9 688.94h5.6v5.95h-5.6zM398.05 696.86h5.6v5.95h-5.6zM405 696.86h5.6v5.95h-5.6zM411.95 696.86h5.6v5.95h-5.6zM418.9 696.86h5.6v5.95h-5.6zM425.85 696.86h5.6v5.95h-5.6zM439.75 696.86h5.6v5.95h-5.6zM446.7 696.86h5.6v5.95h-5.6zM453.65 696.86h5.6v5.95h-5.6zM460.6 696.86h5.6v5.95h-5.6zM467.55 696.86h5.6v5.95h-5.6zM495.35 696.86h5.6v5.95h-5.6zM516.2 696.86h5.6v5.95h-5.6zM523.15 696.86h5.6v5.95h-5.6zM530.1 696.86h5.6v5.95h-5.6zM537.05 696.86h5.6v5.95h-5.6zM544 696.86h5.6v5.95h-5.6zM557.9 696.86h5.6v5.95h-5.6zM398.05 704.77h5.6v5.95h-5.6zM405 704.77h5.6v5.95h-5.6zM411.95 704.77h5.6v5.95h-5.6zM418.9 704.77h5.6v5.95h-5.6zM425.85 704.77h5.6v5.95h-5.6zM439.75 704.77h5.6v5.95h-5.6zM460.6 704.77h5.6v5.95h-5.6zM474.5 704.77h5.6v5.95h-5.6zM481.45 704.77h5.6v5.95h-5.6zM488.4 704.77h5.6v5.95h-5.6zM502.3 704.77h5.6v5.95h-5.6zM509.25 704.77h5.6v5.95h-5.6zM516.2 704.77h5.6v5.95h-5.6zM530.1 704.77h5.6v5.95h-5.6zM537.05 704.77h5.6v5.95h-5.6zM544 704.77h5.6v5.95h-5.6zM550.95 704.77h5.6v5.95h-5.6zM557.9 704.77h5.6v5.95h-5.6zM405 712.69h5.6v5.95h-5.6zM411.95 712.69h5.6v5.95h-5.6zM418.9 712.69h5.6v5.95h-5.6zM425.85 712.69h5.6v5.95h-5.6zM439.75 712.69h5.6v5.95h-5.6zM446.7 712.69h5.6v5.95h-5.6zM453.65 712.69h5.6v5.95h-5.6zM460.6 712.69h5.6v5.95h-5.6zM467.55 712.69h5.6v5.95h-5.6zM481.45 712.69h5.6v5.95h-5.6zM488.4 712.69h5.6v5.95h-5.6zM502.3 712.69h5.6v5.95h-5.6zM509.25 712.69h5.6v5.95h-5.6zM516.2 712.69h5.6v5.95h-5.6zM537.05 712.69h5.6v5.95h-5.6zM544 712.69h5.6v5.95h-5.6zM550.95 712.69h5.6v5.95h-5.6zM557.9 712.69h5.6v5.95h-5.6zM405 720.61h5.6v5.95h-5.6zM411.95 720.61h5.6v5.95h-5.6zM418.9 720.61h5.6v5.95h-5.6zM425.85 720.61h5.6v5.95h-5.6zM432.8 720.61h5.6v5.95h-5.6zM439.75 720.61h5.6v5.95h-5.6zM446.7 720.61h5.6v5.95h-5.6zM453.65 720.61h5.6v5.95h-5.6zM460.6 720.61h5.6v5.95h-5.6zM467.55 720.61h5.6v5.95h-5.6zM481.45 720.61h5.6v5.95h-5.6zM488.4 720.61h5.6v5.95h-5.6zM502.3 720.61h5.6v5.95h-5.6zM509.25 720.61h5.6v5.95h-5.6zM516.2 720.61h5.6v5.95h-5.6zM537.05 720.61h5.6v5.95h-5.6zM544 720.61h5.6v5.95h-5.6zM550.95 720.61h5.6v5.95h-5.6zM557.9 720.61h5.6v5.95h-5.6z" fill="#fff"/>
<path d="M481.45 506.9h5.6v5.95h-5.6zM502.3 506.9h5.6v5.95h-5.6zM516.2 506.9h5.6v5.95h-5.6zM544 506.9h5.6v5.95h-5.6zM405 514.81h5.6v5.95h-5.6zM425.85 514.81h5.6v5.95h-5.6zM481.45 514.81h5.6v5.95h-5.6zM488.4 514.81h5.6v5.95h-5.6zM502.3 514.81h5.6v5.95h-5.6zM516.2 514.81h5.6v5.95h-5.6zM550.95 514.81h5.6v5.95h-5.6zM432.8 522.73h5.6v5.95h-5.6zM481.45 522.73h5.6v5.95h-5.6zM516.2 522.73h5.6v5.95h-5.6zM523.15 522.73h5.6v5.95h-5.6zM405 530.64h5.6v5.95h-5.6zM425.85 530.64h5.6v5.95h-5.6zM432.8 530.64h5.6v5.95h-5.6zM439.75 530.64h5.6v5.95h-5.6zM481.45 530.64h5.6v5.95h-5.6zM502.3 530.64h5.6v5.95h-5.6zM523.15 530.64h5.6v5.95h-5.6zM537.05 530.64h5.6v5.95h-5.6zM544 530.64h5.6v5.95h-5.6zM550.95 530.64h5.6v5.95h-5.6zM557.9 530.64h5.6v5.95h-5.6zM537.05 538.56h5.6v5.95h-5.6zM557.9 538.56h5.6v5.95h-5.6zM557.9 546.48h5.6v5.95h-5.6zM439.75 554.39h5.6v5.95h-5.6zM453.65 554.39h5.6v5.95h-5.6zM460.6 554.39h5.6v5.95h-5.6zM467.55 554.39h5.6v5.95h-5.6zM481.45 554.39h5.6v5.95h-5.6zM495.35 554.39h5.6v5.95h-5.6zM509.25 554.39h5.6v5.95h-5.6zM516.2 554.39h5.6v5.95h-5.6zM544 554.39h5.6v5.95h-5.6zM550.95 554.39h5.6v5.95h-5.6zM446.7 562.3h5.6v5.95h-5.6zM453.65 562.3h5.6v5.95h-5.6zM460.6 562.3h5.6v5.95h-5.6zM467.55 562.3h5.6v5.95h-5.6zM488.4 562.3h5.6v5.95h-5.6zM509.25 562.3h5.6v5.95h-5.6zM530.1 562.3h5.6v5.95h-5.6zM550.95 562.3h5.6v5.95h-5.6zM418.9 570.22h5.6v5.95h-5.6zM446.7 570.22h5.6v5.95h-5.6zM481.45 570.22h5.6v5.95h-5.6zM516.2 570.22h5.6v5.95h-5.6zM530.1 570.22h5.6v5.95h-5.6zM439.75 578.13h5.6v5.95h-5.6zM446.7 578.13h5.6v5.95h-5.6zM453.65 578.13h5.6v5.95h-5.6zM467.55 578.13h5.6v5.95h-5.6zM488.4 578.13h5.6v5.95h-5.6zM530.1 578.13h5.6v5.95h-5.6zM537.05 578.13h5.6v5.95h-5.6zM550.95 578.13h5.6v5.95h-5.6zM398.05 586.05h5.6v5.95h-5.6zM418.9 586.05h5.6v5.95h-5.6zM425.85 586.05h5.6v5.95h-5.6zM439.75 586.05h5.6v5.95h-5.6zM446.7 586.05h5.6v5.95h-5.6zM453.65 586.05h5.6v5.95h-5.6zM460.6 586.05h5.6v5.95h-5.6zM467.55 586.05h5.6v5.95h-5.6zM474.5 586.05h5.6v5.95h-5.6zM495.35 586.05h5.6v5.95h-5.6zM502.3 586.05h5.6v5.95h-5.6zM516.2 586.05h5.6v5.95h-5.6zM557.9 586.05h5.6v5.95h-5.6zM418.9 593.96h5.6v5.95h-5.6zM446.7 593.96h5.6v5.95h-5.6zM523.15 593.96h5.6v5.95h-5.6zM557.9 593.96h5.6v5.95h-5.6zM398.05 601.88h5.6v5.95h-5.6zM411.95 601.88h5.6v5.95h-5.6zM418.9 601.88h5.6v5.95h-5.6zM425.85 601.88h5.6v5.95h-5.6zM439.75 601.88h5.6v5.95h-5.6zM446.7 601.88h5.6v5.95h-5.6zM453.65 601.88h5.6v5.95h-5.6zM467.55 601.88h5.6v5.95h-5.6zM474.5 601.88h5.6v5.95h-5.6zM411.95 609.79h5.6v5.95h-5.6zM418.9 609.79h5.6v5.95h-5.6zM439.75 609.79h5.6v5.95h-5.6zM446.7 609.79h5.6v5.95h-5.6zM453.65 609.79h5.6v5.95h-5.6zM467.55 609.79h5.6v5.95h-5.6zM474.5 609.79h5.6v5.95h-5.6zM405 617.71h5.6v5.95h-5.6zM425.85 617.71h5.6v5.95h-5.6zM432.8 617.71h5.6v5.95h-5.6zM460.6 617.71h5.6v5.95h-5.6zM481.45 617.71h5.6v5.95h-5.6zM495.35 617.71h5.6v5.95h-5.6zM509.25 617.71h5.6v5.95h-5.6zM516.2 617.71h5.6v5.95h-5.6zM405 625.62h5.6v5.95h-5.6zM418.9 625.62h5.6v5.95h-5.6zM530.1 625.62h5.6v5.95h-5.6zM481.45 633.54h5.6v5.95h-5.6zM488.4 633.54h5.6v5.95h-5.6zM495.35 633.54h5.6v5.95h-5.6zM509.25 633.54h5.6v5.95h-5.6zM516.2 633.54h5.6v5.95h-5.6zM523.15 633.54h5.6v5.95h-5.6zM537.05 633.54h5.6v5.95h-5.6zM405 641.45h5.6v5.95h-5.6zM418.9 641.45h5.6v5.95h-5.6zM425.85 641.45h5.6v5.95h-5.6zM495.35 641.45h5.6v5.95h-5.6zM502.3 641.45h5.6v5.95h-5.6zM509.25 641.45h5.6v5.95h-5.6zM516.2 641.45h5.6v5.95h-5.6zM537.05 641.45h5.6v5.95h-5.6zM460.6 649.37h5.6v5.95h-5.6zM495.35 649.37h5.6v5.95h-5.6zM502.3 649.37h5.6v5.95h-5.6zM509.25 649.37h5.6v5.95h-5.6zM516.2 649.37h5.6v5.95h-5.6zM537.05 649.37h5.6v5.95h-5.6zM432.8 657.28h5.6v5.95h-5.6zM481.45 657.28h5.6v5.95h-5.6zM509.25 657.28h5.6v5.95h-5.6zM537.05 657.28h5.6v5.95h-5.6zM550.95 657.28h5.6v5.95h-5.6zM405 665.2h5.6v5.95h-5.6zM509.25 665.2h5.6v5.95h-5.6zM550.95 665.2h5.6v5.95h-5.6zM474.5 673.12h5.6v5.95h-5.6zM502.3 673.12h5.6v5.95h-5.6zM481.45 681.03h5.6v5.95h-5.6zM488.4 681.03h5.6v5.95h-5.6zM405 688.94h5.6v5.95h-5.6zM432.8 688.94h5.6v5.95h-5.6zM488.4 688.94h5.6v5.95h-5.6zM550.95 688.94h5.6v5.95h-5.6zM432.8 696.86h5.6v5.95h-5.6zM474.5 696.86h5.6v5.95h-5.6zM481.45 696.86h5.6v5.95h-5.6zM488.4 696.86h5.6v5.95h-5.6zM502.3 696.86h5.6v5.95h-5.6zM509.25 696.86h5.6v5.95h-5.6zM550.95 696.86h5.6v5.95h-5.6zM432.8 704.77h5.6v5.95h-5.6zM446.7 704.77h5.6v5.95h-5.6zM453.65 704.77h5.6v5.95h-5.6zM467.55 704.77h5.6v5.95h-5.6zM495.35 704.77h5.6v5.95h-5.6zM523.15 704.77h5.6v5.95h-5.6zM398.05 712.69h5.6v5.95h-5.6zM432.8 712.69h5.6v5.95h-5.6zM474.5 712.69h5.6v5.95h-5.6zM495.35 712.69h5.6v5.95h-5.6zM523.15 712.69h5.6v5.95h-5.6zM530.1 712.69h5.6v5.95h-5.6zM398.05 720.61h5.6v5.95h-5.6zM474.5 720.61h5.6v5.95h-5.6zM495.35 720.61h5.6v5.95h-5.6zM523.15 720.61h5.6v5.95h-5.6zM530.1 720.61h5.6v5.95h-5.6z" fill="#176ea8"/>
<rect x="566" y="642.22" width="31.4" height="15.46" fill="#efc3b5"/>
<rect x="566.1" y="690.8" width="31.2" height="7.6" fill="#efc3b5"/>
<text x="25" y="513.08" font-size="9" fill="#222">SNP21</text>
<text x="0" y="510.9" font-size="6.1" fill="#2a2a2a" transform="translate(566.8 0) scale(1.5 1)">ybhF</text>
<text x="25" y="520.99" font-size="9" fill="#222">SNP16</text>
<text x="0" y="518.96" font-size="6.1" fill="#2a2a2a" transform="translate(566.8 0) scale(1.5 1)">ybhF</text>
<text x="25" y="528.91" font-size="9" fill="#222">SNP23</text>
<text x="0" y="527.02" font-size="6.1" fill="#2a2a2a" transform="translate(566.8 0) scale(1.5 1)">ybhF</text>
<text x="25" y="536.82" font-size="9" fill="#222">SNP27</text>
<text x="0" y="535.08" font-size="6.1" fill="#2a2a2a" transform="translate(566.8 0) scale(1.5 1)">ybhF</text>
<text x="25" y="544.74" font-size="9" fill="#222">SNP08</text>
<text x="0" y="543.14" font-size="6.1" fill="#2a2a2a" transform="translate(566.8 0) scale(1.5 1)">NA</text>
<text x="25" y="552.65" font-size="9" fill="#222">SNP12</text>
<text x="0" y="551.2" font-size="6.1" fill="#2a2a2a" transform="translate(566.8 0) scale(1.5 1)">NA</text>
<text x="25" y="560.57" font-size="9" fill="#222">SNP26</text>
<text x="0" y="559.26" font-size="6.1" fill="#2a2a2a" transform="translate(566.8 0) scale(1.5 1)">1TRSF</text>
<text x="25" y="568.48" font-size="9" fill="#222">SNP10</text>
<text x="0" y="567.32" font-size="6.1" fill="#2a2a2a" transform="translate(566.8 0) scale(1.5 1)">yagU</text>
<text x="25" y="576.4" font-size="9" fill="#222">SNP04</text>
<text x="0" y="575.38" font-size="6.1" fill="#2a2a2a" transform="translate(566.8 0) scale(1.5 1)">int4</text>
<text x="25" y="584.31" font-size="9" fill="#222">SNP25</text>
<text x="0" y="583.44" font-size="6.1" fill="#2a2a2a" transform="translate(566.8 0) scale(1.5 1)">int4</text>
<text x="25" y="592.23" font-size="9" fill="#222">SNP28</text>
<text x="0" y="591.5" font-size="6.1" fill="#2a2a2a" transform="translate(566.8 0) scale(1.5 1)">NA</text>
<text x="25" y="600.14" font-size="9" fill="#222">SNP22</text>
<text x="0" y="599.56" font-size="6.1" fill="#2a2a2a" transform="translate(566.8 0) scale(1.5 1)">NA</text>
<text x="25" y="608.06" font-size="9" fill="#222">SNP15</text>
<text x="0" y="607.62" font-size="6.1" fill="#2a2a2a" transform="translate(566.8 0) scale(1.5 1)">NA</text>
<text x="25" y="615.97" font-size="9" fill="#222">SNP07</text>
<text x="0" y="615.68" font-size="6.1" fill="#2a2a2a" transform="translate(566.8 0) scale(1.5 1)">NA</text>
<text x="25" y="623.89" font-size="9" fill="#222">SNP11</text>
<text x="0" y="623.74" font-size="6.1" fill="#2a2a2a" transform="translate(566.8 0) scale(1.5 1)">NA</text>
<text x="25" y="631.8" font-size="9" fill="#222">SNP13</text>
<text x="0" y="631.8" font-size="6.1" fill="#2a2a2a" transform="translate(566.8 0) scale(1.5 1)">NA</text>
<text x="25" y="639.72" font-size="9" fill="#222">SNP05</text>
<text x="0" y="639.86" font-size="6.1" fill="#2a2a2a" transform="translate(566.8 0) scale(1.5 1)">ram2</text>
<text x="25" y="647.63" font-size="9" fill="#c0262d" font-weight="bold" textLength="28.5" lengthAdjust="spacingAndGlyphs">SNP06</text>
<text x="0" y="647.92" font-size="6.2" font-weight="bold" fill="#5e2a22" transform="translate(566.8 0) scale(1.52 1)">dps</text>
<text x="25" y="655.55" font-size="9" fill="#c0262d" font-weight="bold" textLength="28.5" lengthAdjust="spacingAndGlyphs">SNP09</text>
<text x="0" y="655.98" font-size="6.2" font-weight="bold" fill="#5e2a22" transform="translate(566.8 0) scale(1.52 1)">dps</text>
<text x="25" y="663.46" font-size="9" fill="#222">SNP18</text>
<text x="0" y="664.04" font-size="6.1" fill="#2a2a2a" transform="translate(566.8 0) scale(1.5 1)">NA</text>
<text x="25" y="671.38" font-size="9" fill="#222">SNP20</text>
<text x="0" y="672.1" font-size="6.1" fill="#2a2a2a" transform="translate(566.8 0) scale(1.5 1)">NA</text>
<text x="25" y="679.29" font-size="9" fill="#222">SNP14</text>
<text x="0" y="680.16" font-size="6.1" fill="#2a2a2a" transform="translate(566.8 0) scale(1.5 1)">NA</text>
<text x="25" y="687.21" font-size="9" fill="#222">SNP01</text>
<text x="0" y="688.22" font-size="6.1" fill="#2a2a2a" transform="translate(566.8 0) scale(1.5 1)">ybhF</text>
<text x="25" y="695.12" font-size="9" fill="#c0262d" font-weight="bold" textLength="28.5" lengthAdjust="spacingAndGlyphs">SNP03</text>
<text x="0" y="696.28" font-size="6.2" font-weight="bold" fill="#5e2a22" transform="translate(566.8 0) scale(1.52 1)">lp2588</text>
<text x="25" y="703.04" font-size="9" fill="#222">SNP02</text>
<text x="0" y="704.34" font-size="6.1" fill="#2a2a2a" transform="translate(566.8 0) scale(1.5 1)">gor</text>
<text x="25" y="710.95" font-size="9" fill="#222">SNP17</text>
<text x="0" y="712.4" font-size="6.1" fill="#2a2a2a" transform="translate(566.8 0) scale(1.5 1)">NA</text>
<text x="25" y="718.87" font-size="9" fill="#222">SNP24</text>
<text x="0" y="720.46" font-size="6.1" fill="#2a2a2a" transform="translate(566.8 0) scale(1.5 1)">NA</text>
<text x="25" y="726.78" font-size="9" fill="#222">SNP19</text>
<text x="0" y="728.52" font-size="6.1" fill="#2a2a2a" transform="translate(566.8 0) scale(1.5 1)">NA</text>
<text x="27.1" y="497.8" font-size="10.4" fill="#111" font-weight="bold" textLength="21.5" lengthAdjust="spacingAndGlyphs">SNP</text>
<text x="565.9" y="498" font-size="10.1" fill="#111" font-weight="bold" textLength="25.2" lengthAdjust="spacingAndGlyphs">Gene</text>
<path d="M8.7 517.79H24.3M8.7 525.71H24.3M8.7 517.79V525.71M6.5 521.75H8.7M6.5 509.88H24.3M6.5 509.88V521.75M4.9 515.81H6.5M12 541.53H24.3M12 549.45H24.3M12 541.53V549.45M5.4 545.49H12M5.4 533.62H24.3M5.4 533.62V545.49M4.9 539.56H5.4M4.9 515.81V539.56M1.9 527.68H4.9M9.8 573.2H24.3M9.8 581.11H24.3M9.8 573.2V581.11M6.1 577.15H9.8M6.1 565.28H24.3M6.1 565.28V577.15M4.6 571.22H6.1M4.6 557.37H24.3M4.6 557.37V571.22M2.4 564.29H4.6M15.3 604.86H24.3M15.3 612.77H24.3M15.3 604.86V612.77M8.6 608.81H15.3M8.6 596.94H24.3M8.6 596.94V608.81M6.7 602.88H8.6M6.7 589.02H24.3M6.7 589.02V602.88M2.4 595.95H6.7M2.4 564.29V595.95M1.9 580.12H2.4M1.9 527.68V580.12M1.2 553.9H1.9M9.8 620.69H24.3M9.8 628.6H24.3M9.8 620.69V628.6M7.6 624.64H9.8M13.6 644.43H24.3M13.6 652.35H24.3M13.6 644.43V652.35M10.9 648.39H13.6M10.9 636.51H24.3M10.9 636.51V648.39M7.6 642.45H10.9M7.6 624.64V642.45M5.8 633.55H7.6M12 660.26H24.3M12 668.18H24.3M12 660.26V668.18M8.7 664.22H12M11.4 676.09H24.3M11.4 684H24.3M11.4 676.09V684M9.5 680.05H11.4M12.6 691.92H24.3M12.6 699.84H24.3M12.6 691.92V699.84M9.5 695.88H12.6M9.5 680.05V695.88M8.7 687.96H9.5M8.7 664.22V687.96M5.8 676.09H8.7M5.8 633.55V676.09M5.5 654.82H5.8M17.1 715.66H24.3M17.1 723.58H24.3M17.1 715.66V723.58M7.3 719.62H17.1M7.3 707.75H24.3M7.3 707.75V719.62M5.5 713.69H7.3M5.5 654.82V713.69M1.2 684.25H5.5M1.2 553.9V684.25" stroke="#111" stroke-width="1.25" fill="none" stroke-linecap="square"/>
<rect x="604" y="470.3" width="152.3" height="20.5" fill="#ddd0e9"/>
<text x="680" y="485.2" font-size="11.4" fill="#47405a" text-anchor="middle" textLength="150.4" lengthAdjust="spacingAndGlyphs">Probiotic+GOS (Continuous)</text>
<rect x="603.6" y="493.9" width="152.5" height="223.17" fill="#a4a8b0"/>
<rect x="605.1" y="495.7" width="36.15" height="22.73" fill="#ffffff"/>
<rect x="642.85" y="495.7" width="36.15" height="22.73" fill="#d5cc52"/>
<text x="660.93" y="512.2" font-size="11.2" fill="#fff8cf" text-anchor="middle">128</text>
<rect x="680.6" y="495.7" width="36.15" height="22.73" fill="#d5cc52"/>
<text x="698.68" y="512.2" font-size="11.2" fill="#fff8cf" text-anchor="middle">131</text>
<rect x="718.35" y="495.7" width="36.15" height="22.73" fill="#a7bb71"/>
<text x="736.43" y="512.2" font-size="11.2" fill="#fff8cf" text-anchor="middle">47</text>
<rect x="605.1" y="520.33" width="36.15" height="22.73" fill="#2ea39a"/>
<text x="623.18" y="536.83" font-size="11.2" fill="#ffffff" text-anchor="middle">12</text>
<rect x="642.85" y="520.33" width="36.15" height="22.73" fill="#098b9f"/>
<text x="660.93" y="536.83" font-size="11.2" fill="#ffffff" text-anchor="middle">7</text>
<rect x="680.6" y="520.33" width="36.15" height="22.73" fill="#74ad8b"/>
<text x="698.68" y="536.83" font-size="11.2" fill="#ffffff" text-anchor="middle">29</text>
<rect x="718.35" y="520.33" width="36.15" height="22.73" fill="#2ea39a"/>
<text x="736.43" y="536.83" font-size="11.2" fill="#ffffff" text-anchor="middle">16</text>
<rect x="605.1" y="544.96" width="36.15" height="22.73" fill="#ffffff"/>
<rect x="642.85" y="544.96" width="36.15" height="22.73" fill="#ffffff"/>
<rect x="680.6" y="544.96" width="36.15" height="22.73" fill="#415a8d"/>
<text x="698.68" y="561.46" font-size="11.2" fill="#ffffff" text-anchor="middle">2</text>
<rect x="718.35" y="544.96" width="36.15" height="22.73" fill="#5a3e89"/>
<text x="736.43" y="561.46" font-size="11.2" fill="#ffffff" text-anchor="middle">1</text>
<rect x="605.1" y="569.59" width="36.15" height="22.73" fill="#415a8d"/>
<text x="623.18" y="586.09" font-size="11.2" fill="#ffffff" text-anchor="middle">3</text>
<rect x="642.85" y="569.59" width="36.15" height="22.73" fill="#2d7097"/>
<text x="660.93" y="586.09" font-size="11.2" fill="#ffffff" text-anchor="middle">4</text>
<rect x="680.6" y="569.59" width="36.15" height="22.73" fill="#ffffff"/>
<rect x="718.35" y="569.59" width="36.15" height="22.73" fill="#ffffff"/>
<rect x="605.1" y="594.22" width="36.15" height="22.73" fill="#2d7097"/>
<text x="623.18" y="610.72" font-size="11.2" fill="#ffffff" text-anchor="middle">5</text>
<rect x="642.85" y="594.22" width="36.15" height="22.73" fill="#415a8d"/>
<text x="660.93" y="610.72" font-size="11.2" fill="#ffffff" text-anchor="middle">2</text>
<rect x="680.6" y="594.22" width="36.15" height="22.73" fill="#415a8d"/>
<text x="698.68" y="610.72" font-size="11.2" fill="#ffffff" text-anchor="middle">3</text>
<rect x="718.35" y="594.22" width="36.15" height="22.73" fill="#5a3e89"/>
<text x="736.43" y="610.72" font-size="11.2" fill="#ffffff" text-anchor="middle">1</text>
<rect x="605.1" y="618.85" width="36.15" height="22.73" fill="#2ea39a"/>
<text x="623.18" y="635.35" font-size="11.2" fill="#ffffff" text-anchor="middle">13</text>
<rect x="642.85" y="618.85" width="36.15" height="22.73" fill="#b0bc6b"/>
<text x="660.93" y="635.35" font-size="11.2" fill="#fff8cf" text-anchor="middle">67</text>
<rect x="680.6" y="618.85" width="36.15" height="22.73" fill="#f6d636"/>
<text x="698.68" y="635.35" font-size="11.2" fill="#fff8cf" text-anchor="middle">199</text>
<rect x="718.35" y="618.85" width="36.15" height="22.73" fill="#d0cb55"/>
<text x="736.43" y="635.35" font-size="11.2" fill="#fff8cf" text-anchor="middle">106</text>
<rect x="605.1" y="643.48" width="36.15" height="22.73" fill="#ffffff"/>
<rect x="642.85" y="643.48" width="36.15" height="22.73" fill="#415a8d"/>
<text x="660.93" y="659.98" font-size="11.2" fill="#ffffff" text-anchor="middle">3</text>
<rect x="680.6" y="643.48" width="36.15" height="22.73" fill="#2d7097"/>
<text x="698.68" y="659.98" font-size="11.2" fill="#ffffff" text-anchor="middle">5</text>
<rect x="718.35" y="643.48" width="36.15" height="22.73" fill="#2d7097"/>
<text x="736.43" y="659.98" font-size="11.2" fill="#ffffff" text-anchor="middle">4</text>
<rect x="605.1" y="668.11" width="36.15" height="22.73" fill="#a7bb71"/>
<text x="623.18" y="684.61" font-size="11.2" fill="#fff8cf" text-anchor="middle">59</text>
<rect x="642.85" y="668.11" width="36.15" height="22.73" fill="#a7bb71"/>
<text x="660.93" y="684.61" font-size="11.2" fill="#fff8cf" text-anchor="middle">68</text>
<rect x="680.6" y="668.11" width="36.15" height="22.73" fill="#d5cc52"/>
<text x="698.68" y="684.61" font-size="11.2" fill="#fff8cf" text-anchor="middle">81</text>
<rect x="718.35" y="668.11" width="36.15" height="22.73" fill="#d5cc52"/>
<text x="736.43" y="684.61" font-size="11.2" fill="#fff8cf" text-anchor="middle">78</text>
<rect x="605.1" y="692.74" width="36.15" height="22.73" fill="#5a3e89"/>
<text x="623.18" y="709.24" font-size="11.2" fill="#ffffff" text-anchor="middle">1</text>
<rect x="642.85" y="692.74" width="36.15" height="22.73" fill="#5a3e89"/>
<text x="660.93" y="709.24" font-size="11.2" fill="#ffffff" text-anchor="middle">1</text>
<rect x="680.6" y="692.74" width="36.15" height="22.73" fill="#5a3e89"/>
<text x="698.68" y="709.24" font-size="11.2" fill="#ffffff" text-anchor="middle">1</text>
<rect x="718.35" y="692.74" width="36.15" height="22.73" fill="#415a8d"/>
<text x="736.43" y="709.24" font-size="11.2" fill="#ffffff" text-anchor="middle">2</text>
<text x="632.1" y="731.1" font-size="10.6" fill="#1e1e1e" text-anchor="end">Day 7</text>
<text x="673.07" y="731.1" font-size="10.6" fill="#1e1e1e" text-anchor="end">Day 14</text>
<text x="714.04" y="731.1" font-size="10.6" fill="#1e1e1e" text-anchor="end">Day 21</text>
<text x="755.01" y="731.1" font-size="10.6" fill="#1e1e1e" text-anchor="end">Day 28</text>
<rect x="770.7" y="470.3" width="152.3" height="20.5" fill="#f8d5c3"/>
<text x="845.95" y="485.2" font-size="11.4" fill="#47405a" text-anchor="middle" textLength="126.5" lengthAdjust="spacingAndGlyphs">Probiotic+GOS (Pulsed)</text>
<rect x="770.3" y="493.9" width="152.5" height="223.17" fill="#a4a8b0"/>
<rect x="771.8" y="495.7" width="36.15" height="22.73" fill="#ffffff"/>
<rect x="809.55" y="495.7" width="36.15" height="22.73" fill="#ffffff"/>
<rect x="847.3" y="495.7" width="36.15" height="22.73" fill="#ffffff"/>
<rect x="885.05" y="495.7" width="36.15" height="22.73" fill="#d5cc52"/>
<text x="903.12" y="512.2" font-size="11.2" fill="#fff8cf" text-anchor="middle">97</text>
<rect x="771.8" y="520.33" width="36.15" height="22.73" fill="#74ad8b"/>
<text x="789.88" y="536.83" font-size="11.2" fill="#ffffff" text-anchor="middle">23</text>
<rect x="809.55" y="520.33" width="36.15" height="22.73" fill="#74ad8b"/>
<text x="827.62" y="536.83" font-size="11.2" fill="#ffffff" text-anchor="middle">24</text>
<rect x="847.3" y="520.33" width="36.15" height="22.73" fill="#0d8a9e"/>
<text x="865.38" y="536.83" font-size="11.2" fill="#ffffff" text-anchor="middle">11</text>
<rect x="885.05" y="520.33" width="36.15" height="22.73" fill="#415a8d"/>
<text x="903.12" y="536.83" font-size="11.2" fill="#ffffff" text-anchor="middle">2</text>
<rect x="771.8" y="544.96" width="36.15" height="22.73" fill="#ffffff"/>
<rect x="809.55" y="544.96" width="36.15" height="22.73" fill="#ffffff"/>
<rect x="847.3" y="544.96" width="36.15" height="22.73" fill="#5a3e89"/>
<text x="865.38" y="561.46" font-size="11.2" fill="#ffffff" text-anchor="middle">1</text>
<rect x="885.05" y="544.96" width="36.15" height="22.73" fill="#ffffff"/>
<rect x="771.8" y="569.59" width="36.15" height="22.73" fill="#5a3e89"/>
<text x="789.88" y="586.09" font-size="11.2" fill="#ffffff" text-anchor="middle">1</text>
<rect x="809.55" y="569.59" width="36.15" height="22.73" fill="#2d7097"/>
<text x="827.62" y="586.09" font-size="11.2" fill="#ffffff" text-anchor="middle">4</text>
<rect x="847.3" y="569.59" width="36.15" height="22.73" fill="#ffffff"/>
<rect x="885.05" y="569.59" width="36.15" height="22.73" fill="#ffffff"/>
<rect x="771.8" y="594.22" width="36.15" height="22.73" fill="#2d7097"/>
<text x="789.88" y="610.72" font-size="11.2" fill="#ffffff" text-anchor="middle">5</text>
<rect x="809.55" y="594.22" width="36.15" height="22.73" fill="#2d7097"/>
<text x="827.62" y="610.72" font-size="11.2" fill="#ffffff" text-anchor="middle">5</text>
<rect x="847.3" y="594.22" width="36.15" height="22.73" fill="#415a8d"/>
<text x="865.38" y="610.72" font-size="11.2" fill="#ffffff" text-anchor="middle">3</text>
<rect x="885.05" y="594.22" width="36.15" height="22.73" fill="#ffffff"/>
<rect x="771.8" y="618.85" width="36.15" height="22.73" fill="#2ea39a"/>
<text x="789.88" y="635.35" font-size="11.2" fill="#ffffff" text-anchor="middle">16</text>
<rect x="809.55" y="618.85" width="36.15" height="22.73" fill="#74ad8b"/>
<text x="827.62" y="635.35" font-size="11.2" fill="#ffffff" text-anchor="middle">23</text>
<rect x="847.3" y="618.85" width="36.15" height="22.73" fill="#a7bb71"/>
<text x="865.38" y="635.35" font-size="11.2" fill="#fff8cf" text-anchor="middle">42</text>
<rect x="885.05" y="618.85" width="36.15" height="22.73" fill="#74ad8b"/>
<text x="903.12" y="635.35" font-size="11.2" fill="#ffffff" text-anchor="middle">28</text>
<rect x="771.8" y="643.48" width="36.15" height="22.73" fill="#ffffff"/>
<rect x="809.55" y="643.48" width="36.15" height="22.73" fill="#ffffff"/>
<rect x="847.3" y="643.48" width="36.15" height="22.73" fill="#5a3e89"/>
<text x="865.38" y="659.98" font-size="11.2" fill="#ffffff" text-anchor="middle">1</text>
<rect x="885.05" y="643.48" width="36.15" height="22.73" fill="#ffffff"/>
<rect x="771.8" y="668.11" width="36.15" height="22.73" fill="#a7bb71"/>
<text x="789.88" y="684.61" font-size="11.2" fill="#fff8cf" text-anchor="middle">47</text>
<rect x="809.55" y="668.11" width="36.15" height="22.73" fill="#d4cc52"/>
<text x="827.62" y="684.61" font-size="11.2" fill="#fff8cf" text-anchor="middle">74</text>
<rect x="847.3" y="668.11" width="36.15" height="22.73" fill="#a7bb71"/>
<text x="865.38" y="684.61" font-size="11.2" fill="#fff8cf" text-anchor="middle">54</text>
<rect x="885.05" y="668.11" width="36.15" height="22.73" fill="#74ad8b"/>
<text x="903.12" y="684.61" font-size="11.2" fill="#ffffff" text-anchor="middle">33</text>
<rect x="771.8" y="692.74" width="36.15" height="22.73" fill="#5a3e89"/>
<text x="789.88" y="709.24" font-size="11.2" fill="#ffffff" text-anchor="middle">1</text>
<rect x="809.55" y="692.74" width="36.15" height="22.73" fill="#ffffff"/>
<rect x="847.3" y="692.74" width="36.15" height="22.73" fill="#ffffff"/>
<rect x="885.05" y="692.74" width="36.15" height="22.73" fill="#ffffff"/>
<text x="798.8" y="731.1" font-size="10.6" fill="#1e1e1e" text-anchor="end">Day 7</text>
<text x="839.77" y="731.1" font-size="10.6" fill="#1e1e1e" text-anchor="end">Day 14</text>
<text x="880.74" y="731.1" font-size="10.6" fill="#1e1e1e" text-anchor="end">Day 21</text>
<text x="921.71" y="731.1" font-size="10.6" fill="#1e1e1e" text-anchor="end">Day 28</text>
<rect x="937.2" y="470.3" width="152.3" height="20.5" fill="#d3e3cc"/>
<text x="1010.45" y="485.2" font-size="11.4" fill="#47405a" text-anchor="middle" textLength="45.5" lengthAdjust="spacingAndGlyphs">Probiotic</text>
<rect x="936.8" y="493.9" width="152.5" height="223.17" fill="#a4a8b0"/>
<rect x="938.3" y="495.7" width="36.15" height="22.73" fill="#ffffff"/>
<rect x="976.05" y="495.7" width="36.15" height="22.73" fill="#f2d636"/>
<text x="994.12" y="512.2" font-size="11.2" fill="#fff8cf" text-anchor="middle">143</text>
<rect x="1013.8" y="495.7" width="36.15" height="22.73" fill="#d5cc52"/>
<text x="1031.88" y="512.2" font-size="11.2" fill="#fff8cf" text-anchor="middle">75</text>
<rect x="1051.55" y="495.7" width="36.15" height="22.73" fill="#d5cc52"/>
<text x="1069.62" y="512.2" font-size="11.2" fill="#fff8cf" text-anchor="middle">83</text>
<rect x="938.3" y="520.33" width="36.15" height="22.73" fill="#2ea39a"/>
<text x="956.38" y="536.83" font-size="11.2" fill="#ffffff" text-anchor="middle">12</text>
<rect x="976.05" y="520.33" width="36.15" height="22.73" fill="#2ea39a"/>
<text x="994.12" y="536.83" font-size="11.2" fill="#ffffff" text-anchor="middle">12</text>
<rect x="1013.8" y="520.33" width="36.15" height="22.73" fill="#74ad8b"/>
<text x="1031.88" y="536.83" font-size="11.2" fill="#ffffff" text-anchor="middle">30</text>
<rect x="1051.55" y="520.33" width="36.15" height="22.73" fill="#0c8a9f"/>
<text x="1069.62" y="536.83" font-size="11.2" fill="#ffffff" text-anchor="middle">7</text>
<rect x="938.3" y="544.96" width="36.15" height="22.73" fill="#ffffff"/>
<rect x="976.05" y="544.96" width="36.15" height="22.73" fill="#415a8d"/>
<text x="994.12" y="561.46" font-size="11.2" fill="#ffffff" text-anchor="middle">3</text>
<rect x="1013.8" y="544.96" width="36.15" height="22.73" fill="#ffffff"/>
<rect x="1051.55" y="544.96" width="36.15" height="22.73" fill="#5a3e89"/>
<text x="1069.62" y="561.46" font-size="11.2" fill="#ffffff" text-anchor="middle">1</text>
<rect x="938.3" y="569.59" width="36.15" height="22.73" fill="#5a3e89"/>
<text x="956.38" y="586.09" font-size="11.2" fill="#ffffff" text-anchor="middle">1</text>
<rect x="976.05" y="569.59" width="36.15" height="22.73" fill="#415a8d"/>
<text x="994.12" y="586.09" font-size="11.2" fill="#ffffff" text-anchor="middle">2</text>
<rect x="1013.8" y="569.59" width="36.15" height="22.73" fill="#ffffff"/>
<rect x="1051.55" y="569.59" width="36.15" height="22.73" fill="#ffffff"/>
<rect x="938.3" y="594.22" width="36.15" height="22.73" fill="#2d7097"/>
<text x="956.38" y="610.72" font-size="11.2" fill="#ffffff" text-anchor="middle">4</text>
<rect x="976.05" y="594.22" width="36.15" height="22.73" fill="#415a8d"/>
<text x="994.12" y="610.72" font-size="11.2" fill="#ffffff" text-anchor="middle">2</text>
<rect x="1013.8" y="594.22" width="36.15" height="22.73" fill="#415a8d"/>
<text x="1031.88" y="610.72" font-size="11.2" fill="#ffffff" text-anchor="middle">3</text>
<rect x="1051.55" y="594.22" width="36.15" height="22.73" fill="#415a8d"/>
<text x="1069.62" y="610.72" font-size="11.2" fill="#ffffff" text-anchor="middle">2</text>
<rect x="938.3" y="618.85" width="36.15" height="22.73" fill="#2ea39a"/>
<text x="956.38" y="635.35" font-size="11.2" fill="#ffffff" text-anchor="middle">17</text>
<rect x="976.05" y="618.85" width="36.15" height="22.73" fill="#f8d933"/>
<text x="994.12" y="635.35" font-size="11.2" fill="#fff8cf" text-anchor="middle">228</text>
<rect x="1013.8" y="618.85" width="36.15" height="22.73" fill="#d5cc52"/>
<text x="1031.88" y="635.35" font-size="11.2" fill="#fff8cf" text-anchor="middle">83</text>
<rect x="1051.55" y="618.85" width="36.15" height="22.73" fill="#a7bb71"/>
<text x="1069.62" y="635.35" font-size="11.2" fill="#fff8cf" text-anchor="middle">40</text>
<rect x="938.3" y="643.48" width="36.15" height="22.73" fill="#415a8d"/>
<text x="956.38" y="659.98" font-size="11.2" fill="#ffffff" text-anchor="middle">3</text>
<rect x="976.05" y="643.48" width="36.15" height="22.73" fill="#0c8aa0"/>
<text x="994.12" y="659.98" font-size="11.2" fill="#ffffff" text-anchor="middle">6</text>
<rect x="1013.8" y="643.48" width="36.15" height="22.73" fill="#2d7097"/>
<text x="1031.88" y="659.98" font-size="11.2" fill="#ffffff" text-anchor="middle">4</text>
<rect x="1051.55" y="643.48" width="36.15" height="22.73" fill="#5a3e89"/>
<text x="1069.62" y="659.98" font-size="11.2" fill="#ffffff" text-anchor="middle">1</text>
<rect x="938.3" y="668.11" width="36.15" height="22.73" fill="#a7bb71"/>
<text x="956.38" y="684.61" font-size="11.2" fill="#fff8cf" text-anchor="middle">64</text>
<rect x="976.05" y="668.11" width="36.15" height="22.73" fill="#d5cc52"/>
<text x="994.12" y="684.61" font-size="11.2" fill="#fff8cf" text-anchor="middle">88</text>
<rect x="1013.8" y="668.11" width="36.15" height="22.73" fill="#d5cc52"/>
<text x="1031.88" y="684.61" font-size="11.2" fill="#fff8cf" text-anchor="middle">87</text>
<rect x="1051.55" y="668.11" width="36.15" height="22.73" fill="#d5cc52"/>
<text x="1069.62" y="684.61" font-size="11.2" fill="#fff8cf" text-anchor="middle">104</text>
<rect x="938.3" y="692.74" width="36.15" height="22.73" fill="#5a3e89"/>
<text x="956.38" y="709.24" font-size="11.2" fill="#ffffff" text-anchor="middle">1</text>
<rect x="976.05" y="692.74" width="36.15" height="22.73" fill="#ffffff"/>
<rect x="1013.8" y="692.74" width="36.15" height="22.73" fill="#5a3e89"/>
<text x="1031.88" y="709.24" font-size="11.2" fill="#ffffff" text-anchor="middle">1</text>
<rect x="1051.55" y="692.74" width="36.15" height="22.73" fill="#5a3e89"/>
<text x="1069.62" y="709.24" font-size="11.2" fill="#ffffff" text-anchor="middle">1</text>
<text x="965.3" y="731.1" font-size="10.6" fill="#1e1e1e" text-anchor="end">Day 7</text>
<text x="1006.27" y="731.1" font-size="10.6" fill="#1e1e1e" text-anchor="end">Day 14</text>
<text x="1047.24" y="731.1" font-size="10.6" fill="#1e1e1e" text-anchor="end">Day 21</text>
<text x="1088.21" y="731.1" font-size="10.6" fill="#1e1e1e" text-anchor="end">Day 28</text>
<text x="1099.2" y="513.7" font-size="11.1" font-style="italic" fill="#bf2a34" transform="translate(1099.2 0) scale(1.18 1) translate(-1099.2 0)">Bacteroides ovatus</text>
<text x="1099.2" y="538.33" font-size="11.1" font-style="italic" fill="#222" transform="translate(1099.2 0) scale(1.18 1) translate(-1099.2 0)">Bacteroides vulgatus</text>
<text x="1099.2" y="562.96" font-size="11.1" font-style="italic" fill="#222" transform="translate(1099.2 0) scale(1.18 1) translate(-1099.2 0)">Bacteroides caccae</text>
<text x="1099.2" y="587.59" font-size="11.1" font-style="italic" fill="#222" transform="translate(1099.2 0) scale(1.18 1) translate(-1099.2 0)">Bacteroides intestinalis</text>
<text x="1099.2" y="612.22" font-size="11.1" font-style="italic" fill="#222" transform="translate(1099.2 0) scale(1.18 1) translate(-1099.2 0)">Bacteroides dorei</text>
<text x="1099.2" y="636.85" font-size="11.1" font-style="italic" fill="#bf2a34" transform="translate(1099.2 0) scale(1.18 1) translate(-1099.2 0)">Bacteroides caecimuris</text>
<text x="1099.2" y="661.48" font-size="11.1" font-style="italic" fill="#222" transform="translate(1099.2 0) scale(1.18 1) translate(-1099.2 0)">Bacteroides xylanisolvens</text>
<text x="1099.2" y="686.11" font-size="11.1" font-style="italic" fill="#bf2a34" transform="translate(1099.2 0) scale(1.18 1) translate(-1099.2 0)">Bacteroides thetaiotaomicron</text>
<text x="1099.2" y="710.74" font-size="11.1" font-style="italic" fill="#222" transform="translate(1099.2 0) scale(1.18 1) translate(-1099.2 0)">Prevotella dentalis</text>
</svg></body></html>
